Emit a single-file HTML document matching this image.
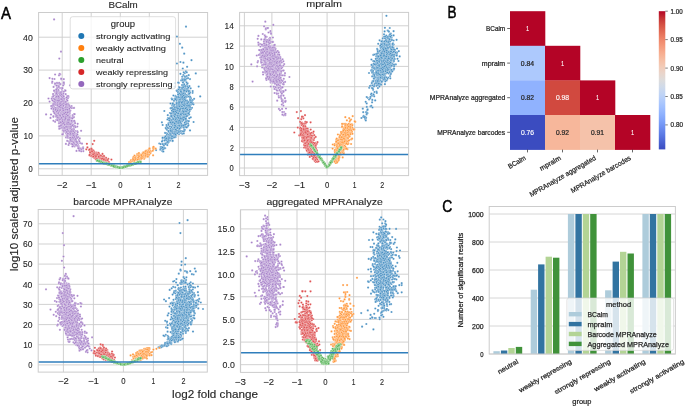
<!DOCTYPE html><html><head><meta charset="utf-8"><style>html,body{margin:0;padding:0;background:#fff;width:685px;height:407px;overflow:hidden}svg{display:block;will-change:transform}</style></head><body><svg width="685" height="407" viewBox="0 0 685 407" font-family='"Liberation Sans", sans-serif'>
<rect width="685" height="407" fill="#fff"/>
<rect x="38.6" y="12.5" width="169.0" height="162.9" fill="#fff"/>
<path d="M62.2 12.5V175.4M91.2 12.5V175.4M120.3 12.5V175.4M149.3 12.5V175.4M178.4 12.5V175.4M38.6 168.8H207.6M38.6 135.9H207.6M38.6 103.0H207.6M38.6 70.1H207.6M38.6 37.2H207.6" stroke="#cccccc" stroke-width="0.9" fill="none"/>
<text x="62.2" y="187.7" font-size="8.9" text-anchor="middle" fill="#262626" stroke="#262626" stroke-width="0.11" textLength="10.9" lengthAdjust="spacingAndGlyphs">−2</text>
<text x="91.2" y="187.7" font-size="8.9" text-anchor="middle" fill="#262626" stroke="#262626" stroke-width="0.11" textLength="11.0" lengthAdjust="spacingAndGlyphs">−1</text>
<text x="120.3" y="187.7" font-size="8.9" text-anchor="middle" fill="#262626" stroke="#262626" stroke-width="0.11" textLength="4.3" lengthAdjust="spacingAndGlyphs">0</text>
<text x="149.3" y="187.7" font-size="8.9" text-anchor="middle" fill="#262626" stroke="#262626" stroke-width="0.11" textLength="3.7" lengthAdjust="spacingAndGlyphs">1</text>
<text x="178.4" y="187.7" font-size="8.9" text-anchor="middle" fill="#262626" stroke="#262626" stroke-width="0.11" textLength="4.0" lengthAdjust="spacingAndGlyphs">2</text>
<text x="32.8" y="172.1" font-size="8.9" text-anchor="end" fill="#262626" stroke="#262626" stroke-width="0.11" textLength="4.2" lengthAdjust="spacingAndGlyphs">0</text>
<text x="32.8" y="139.2" font-size="8.9" text-anchor="end" fill="#262626" stroke="#262626" stroke-width="0.11" textLength="9.2" lengthAdjust="spacingAndGlyphs">10</text>
<text x="32.8" y="106.3" font-size="8.9" text-anchor="end" fill="#262626" stroke="#262626" stroke-width="0.11" textLength="9.5" lengthAdjust="spacingAndGlyphs">20</text>
<text x="32.8" y="73.4" font-size="8.9" text-anchor="end" fill="#262626" stroke="#262626" stroke-width="0.11" textLength="9.5" lengthAdjust="spacingAndGlyphs">30</text>
<text x="32.8" y="40.5" font-size="8.9" text-anchor="end" fill="#262626" stroke="#262626" stroke-width="0.11" textLength="9.7" lengthAdjust="spacingAndGlyphs">40</text>
<text x="123.1" y="7.5" font-size="9.65" text-anchor="middle" fill="#262626" stroke="#262626" stroke-width="0.12" textLength="29.4" lengthAdjust="spacingAndGlyphs">BCalm</text>
<marker id="m1" markerUnits="userSpaceOnUse" markerWidth="4" markerHeight="4" viewBox="-2 -2 4 4" refX="0" refY="0" overflow="visible"><circle r="1.1" fill="#a782c9" stroke="#fff" stroke-width="0.25"/></marker>
<polyline points="61.7,116.1 63.4,111.2 64.2,120.7 65.4,130.8 69.3,123.6 67.6,132.5 60.8,115.2 53.3,94.1 62.6,124.3 69.7,126.4 53.6,108.1 61.1,110.3 66.1,114.4 67.7,131.5 64.6,116.6 55.6,104.7 76.4,138.3 70.7,123.7 78.6,147.4 66.0,137.4 74.6,146.5 69.0,120.0 77.4,137.0 63.3,111.7 68.3,113.6 61.7,119.2 65.5,125.0 63.7,117.0 64.7,114.3 69.1,141.3 70.1,124.0 74.5,132.3 63.6,129.5 53.9,98.7 69.7,129.4 60.6,116.7 49.6,101.6 70.1,125.8 64.7,118.0 60.6,114.3 72.7,115.1 71.8,136.3 59.6,114.9 59.7,93.8 70.7,141.6 56.9,102.0 64.5,114.2 64.6,126.7 57.9,83.3 68.1,103.6 74.1,135.9 66.6,114.9 63.3,106.7 66.6,119.3 67.3,104.9 63.7,117.3 69.2,105.2 55.2,92.5 66.2,127.3 56.0,112.8 64.4,123.8 65.1,114.1 76.1,135.7 63.7,125.7 64.5,119.4 58.6,101.4 56.5,97.3 68.2,137.9 68.4,129.2 52.9,105.5 79.4,148.9 66.0,123.8 61.0,117.8 55.1,95.5 54.4,104.8 73.5,121.5 59.5,122.2 71.7,120.3 61.9,91.1 64.1,123.2 59.9,121.2 66.3,110.4 71.8,118.1 60.3,119.4 69.5,134.5 68.2,116.3 67.3,123.5 68.5,97.0 58.2,105.4 66.0,116.6 55.0,105.2 74.5,121.8 56.7,98.9 53.4,116.2 60.3,106.6 71.4,137.4 70.4,110.5 74.5,143.9 79.6,149.6 67.7,121.2 75.1,131.0 62.2,113.5 63.8,79.2 70.5,129.8 65.6,126.4 62.6,112.8 61.2,108.0 60.3,119.1 69.9,119.5 54.4,104.6 66.4,107.6 73.4,133.2 63.4,117.5 59.7,115.6 69.2,133.5 64.2,111.9 71.5,130.3 61.4,100.2 66.9,113.0 60.4,114.7 67.7,125.9 57.0,118.1 80.9,149.0 71.2,134.8 59.5,110.2 83.3,151.2 63.5,102.2 68.6,144.9 60.7,103.7 62.8,130.1 65.3,103.3 74.1,114.0 72.1,141.4 59.9,95.6 58.3,92.4 65.3,117.2 67.8,120.7 70.0,118.8 65.8,132.2 66.8,98.1 62.3,125.1 64.9,117.0 72.8,129.2 70.0,126.5 68.6,137.2 56.4,95.5 62.2,118.7 59.9,100.3 68.5,115.9 62.0,127.6 67.2,121.5 69.1,125.4 65.9,116.0 67.5,122.3 71.8,121.1 74.0,138.8 71.7,129.4 61.8,89.0 74.8,127.2 63.1,133.5 67.5,110.6 58.2,93.0 72.2,140.1 60.2,119.6 58.9,126.6 75.3,145.1 57.5,104.1 65.8,116.5 56.3,115.0 73.7,128.5 62.4,108.7 65.3,125.0 61.0,118.5 67.7,134.4 67.4,136.2 57.0,94.2 66.2,124.5 61.0,111.4 57.2,116.7 64.6,123.4 62.3,124.5 61.5,105.8 73.3,121.1 67.0,118.7 61.9,115.8 52.5,96.8 54.3,105.0 53.5,109.9 69.6,125.4 70.1,138.9 60.4,100.5 57.3,100.3 64.6,118.5 67.4,107.2 57.4,103.3 58.9,102.5 56.6,101.0 69.7,123.7 55.0,91.2 67.7,136.7 54.1,102.0 54.6,108.0 62.4,101.8 70.0,85.3 55.1,91.7 74.1,135.0 76.1,143.9 55.4,102.7 68.8,132.9 62.4,116.4 57.3,102.3 80.2,143.2 76.5,150.9 63.7,111.9 64.7,115.4 62.2,120.2 63.9,115.5 72.1,130.3 73.9,141.1 66.2,118.9 72.1,132.1 69.2,143.2 67.9,107.8 74.0,117.2 65.8,109.5 73.4,132.4 61.2,127.0 69.2,132.6 65.7,130.7 59.6,112.9 72.0,129.0 57.7,110.3 60.9,110.6 52.1,82.8 72.1,139.1 60.7,101.6 60.7,117.6 60.2,116.4 78.8,140.0 60.6,123.7 55.8,103.9 60.2,117.5 68.4,114.8 74.3,120.9 61.2,97.2 60.3,116.5 65.6,127.5 81.3,148.5 62.3,124.9 65.7,94.2 69.6,115.4 71.2,135.4 71.7,131.6 63.1,97.6 69.7,113.6 58.4,115.4 69.0,117.0 61.5,115.5 57.0,102.9 61.4,107.1 61.2,112.6 66.4,133.3 53.7,107.8 63.4,127.4 66.3,98.2 78.2,137.1 67.1,118.4 68.8,116.3 70.4,138.0 59.2,87.8 60.6,92.1 61.2,123.8 56.0,103.5 61.8,109.9 60.6,112.0 58.9,117.2 64.7,114.8 69.3,133.9 69.4,120.6 64.3,119.1 58.3,96.6 62.2,110.7 62.6,116.3 56.6,91.0 64.7,125.3 68.8,122.6 78.6,146.0 64.9,90.3 52.5,100.3 58.5,101.1 58.8,105.2 63.6,114.3 60.1,112.6 62.5,120.3 68.0,119.5 63.9,115.3 54.4,91.3 67.1,107.0 68.2,117.1 64.1,125.7 70.5,126.6 56.3,89.8 66.3,107.8 62.0,115.0 61.7,121.9 69.1,134.4 60.3,117.3 61.2,101.8 66.3,122.6 64.8,119.9 62.1,119.8 46.1,114.4 74.5,142.4 56.2,120.0 69.6,130.2 65.4,101.6 69.1,128.8 59.1,106.7 58.6,91.1 64.5,121.3 64.3,126.1 59.7,113.0 59.2,116.2 74.1,132.5 61.1,108.6 63.5,83.0 63.7,120.4 64.8,119.5 69.4,133.3 63.8,110.9 74.3,136.7 71.3,134.4 56.5,95.1 65.9,131.1 67.2,98.4 58.2,91.1 60.6,111.9 67.7,107.1 64.0,84.0 66.9,119.4 64.9,125.9 79.8,138.4 65.0,115.5 61.7,91.8 59.4,100.4 63.8,131.7 63.3,130.2 67.9,124.5 63.6,111.4 63.4,119.5 56.8,112.6 55.1,111.3 63.6,121.1 57.0,116.8 66.4,112.8 69.1,117.5 74.1,107.9 63.2,85.4 58.2,106.4 59.1,115.2 65.9,143.9 58.5,109.8 78.1,148.2 75.7,139.3 63.1,102.1 63.3,104.5 65.2,118.6 77.4,144.3 71.8,122.3 62.8,127.3 58.7,105.7 54.5,79.0 69.7,112.6 73.3,129.0 73.6,135.4 58.3,117.1 65.1,119.1 70.0,135.1 63.1,114.2 70.1,135.1 62.1,97.9 58.2,98.7 63.7,98.3 67.0,124.0 59.7,107.7 63.6,118.3 63.6,122.6 68.9,121.7 71.0,137.5 73.9,139.9 58.7,103.1 57.8,119.3 66.4,112.6 55.3,99.7 77.8,144.7 69.8,129.1 54.8,113.3 56.9,109.7 63.2,122.4 56.3,99.2 56.8,112.7 73.8,136.1 68.2,131.5 62.2,102.9 59.2,108.5 78.7,147.4 56.0,94.0 60.8,106.3 61.9,94.1 65.7,122.5 63.0,121.0 66.8,134.7 60.3,74.4 65.9,119.0 58.3,90.0 63.8,126.8 65.0,113.5 82.0,143.7 64.1,122.5 61.6,100.0 72.8,136.8 48.5,98.5 62.1,110.6 67.4,133.3 72.2,124.4 64.8,123.7 60.2,117.0 65.4,125.0 69.1,129.8 62.6,121.2 69.7,133.1 67.3,137.4 62.6,117.0 63.8,101.6 79.4,141.3 66.6,116.1 68.2,126.9 74.0,132.2 64.9,102.1 73.5,124.7 64.0,91.5 67.6,129.0 62.5,109.8 65.4,119.9 69.1,128.6 61.8,106.5 60.7,118.7 51.2,106.2 60.6,116.9 63.0,134.0 64.3,117.8 63.1,115.3 52.6,100.4 71.6,131.1 67.5,116.8 76.1,144.5 68.4,105.4 77.0,134.0 73.7,145.9 68.4,117.1 61.8,98.0 74.8,141.2 73.7,134.1 64.8,128.4 68.5,134.7 57.5,109.9 65.2,129.4 67.2,128.0 54.2,106.6 63.6,128.6 63.9,109.0 69.2,132.1 72.6,136.1 72.4,146.4 56.4,85.5 62.7,121.4 62.2,112.1 60.9,116.7 66.8,113.5 62.9,115.3 59.7,84.8 70.0,133.3 75.9,141.8 68.0,132.8 75.8,138.1 62.7,103.9 61.1,102.7 69.5,132.0 74.2,139.0 69.8,122.0 63.4,93.3 62.8,107.5 73.4,133.9 60.5,99.0 74.8,133.9 64.8,120.9 67.2,140.9 74.5,132.2 59.8,93.4 55.1,102.7 64.7,122.8 65.2,130.5 83.1,147.3 67.7,122.6 56.5,116.7 66.3,117.5 62.1,117.7 77.4,134.6 59.0,117.3 53.4,116.8 59.7,94.9 58.2,85.5 62.3,118.4 59.2,128.8 65.7,117.2 74.0,126.2 59.9,128.4 69.0,117.1 67.9,133.3 71.6,106.2 65.9,117.9 61.2,112.0 69.3,119.2 69.8,128.1 67.0,131.8 67.9,120.1 64.2,125.2 53.9,112.3 72.6,116.2 71.2,138.6 60.3,115.1 73.3,138.3 60.1,126.3 59.0,121.0 79.0,150.3 60.5,114.7 62.9,113.7 69.3,118.8 63.6,123.1 67.6,122.3 71.8,132.2 60.0,120.6 67.4,125.3 58.6,114.7 74.8,136.0 64.2,112.3 62.7,113.8 58.2,118.5 66.3,123.4 57.4,107.1 77.1,143.5 60.6,108.6 58.3,112.2 66.1,111.5 64.7,109.9 64.6,126.9 70.0,120.4 59.4,105.7 59.8,109.1 62.8,112.8 71.2,141.1 59.0,107.3 59.0,96.9 66.8,99.6 69.0,112.3 73.0,141.8 67.4,100.7 64.0,118.6 63.1,110.0 76.0,140.7 72.8,137.5 77.3,126.6 60.5,95.2 60.1,122.3 67.9,111.7 57.8,87.4 58.2,89.9 50.5,117.9 69.2,120.1 74.3,136.9 70.8,127.6 65.8,109.2 69.1,109.7 62.6,114.3 64.2,99.8 65.0,128.9 62.1,117.1 65.4,104.1 62.7,106.6 54.0,98.5 63.0,109.6 64.3,121.2 57.6,110.2 71.3,132.7 73.7,143.1 53.7,106.6 58.7,117.1 69.9,111.1 71.4,144.1 66.4,122.2 69.3,126.0 71.2,130.4 59.8,121.7 58.8,101.4 62.0,109.9 70.2,126.0 60.6,116.4 55.3,103.7 68.6,118.2 66.1,107.2 62.4,104.9 57.0,88.2 61.6,97.5 62.2,111.0 65.6,111.2 54.8,103.2 66.8,125.0 62.9,116.8 55.3,101.3 60.5,84.0 64.4,118.8 61.8,117.0 64.1,112.9 53.1,94.1 63.3,116.7 61.2,92.0 70.5,132.1 69.2,119.2 59.1,119.4 53.7,103.2 61.0,99.0 74.8,141.0 77.2,131.2 64.4,110.6 63.4,127.0 75.9,141.2 56.2,99.1 54.2,108.0 73.1,108.0 67.4,124.0 63.2,99.2 67.2,120.1 67.9,98.1 70.1,131.2 73.4,130.2 57.6,112.8 61.7,127.7 67.2,105.0 68.8,111.9 71.1,131.3 64.0,115.0 66.0,121.9 57.1,101.1 73.5,126.6 68.7,123.4 61.8,96.2 61.3,79.3 63.8,83.3 65.4,115.1 65.6,112.6 54.4,90.9 66.4,118.2 77.7,132.2 60.4,114.2 60.6,108.7 72.0,129.8 77.5,143.2 74.8,139.8 53.4,105.2 69.9,128.6 58.9,118.5 58.4,112.7 63.3,106.0 63.9,121.7 64.8,108.0 81.1,130.8 68.8,122.1 72.5,133.0 55.8,97.5 60.6,116.6 63.4,128.3 63.0,122.0 59.7,119.8 57.7,104.6 73.7,142.4 66.3,133.2 59.2,122.4 55.1,74.5 62.2,100.4 64.3,118.0 65.3,104.4 63.8,82.3 63.2,120.0 68.4,122.2 53.3,96.2 71.6,108.0 66.2,105.1 65.2,124.5 55.0,84.5 61.1,88.0 52.4,106.9 57.1,104.9 81.2,149.5 61.1,105.7 62.3,119.4 65.6,109.0 56.0,104.9 66.5,121.8 74.1,144.0 57.5,110.1 69.7,128.4 60.8,121.6 75.0,126.1 62.7,121.8 68.3,96.1 57.0,112.0 62.5,97.9 54.9,83.6 57.2,115.8 77.2,145.8 71.5,130.9 66.8,136.0 71.3,124.4 59.3,114.8 79.5,149.1 63.3,110.5 75.2,141.0 53.5,111.3 71.3,118.0 67.6,121.3 61.9,117.4 61.9,125.0 59.5,126.2 71.6,143.8 66.0,116.6 58.2,85.8 55.2,83.6 57.1,94.4 67.8,104.5 65.9,127.3 56.8,92.4 69.8,117.1 65.9,117.3 65.2,121.0 60.1,114.6 58.9,123.3 58.6,117.5 68.6,134.0 64.5,122.3 61.2,78.6 66.3,117.3 65.7,120.1 62.0,107.4 56.1,104.5 62.8,134.5 62.2,119.6 55.9,101.1 58.9,111.7 61.5,114.2 54.1,90.6 62.6,127.3 62.5,114.8 66.7,124.7 56.6,91.6 79.8,148.3 66.3,127.2 61.8,124.9 60.9,105.2 69.5,106.2 56.4,93.2 77.4,142.1 66.8,103.8 71.7,121.0 63.7,127.1 70.3,107.3 69.5,131.3 79.6,150.3 64.4,122.3 75.2,140.8 67.3,126.8 60.6,110.0 67.6,111.0 56.4,90.1 59.8,119.4 76.0,141.4 70.7,128.6 73.3,131.3 67.6,136.2 66.2,109.0 69.1,126.8 83.1,148.7 55.0,104.7 65.0,118.0 60.2,110.3 55.6,114.4 57.5,105.8 68.3,115.5 57.5,95.8 57.9,109.2 65.3,109.7 65.9,109.4 76.1,140.1 60.8,118.9 64.6,120.4 67.0,112.7 70.2,138.5 56.3,89.3 66.6,114.4 76.6,136.1 72.5,144.3 53.4,120.8 57.4,117.6 63.4,128.0 62.3,114.6 69.6,126.7 60.3,107.1 64.7,128.1 64.3,116.8 55.8,100.1 59.6,73.9 67.3,132.7 77.7,123.8 71.7,130.0 56.7,103.3 67.3,135.0 64.1,124.1 56.1,116.6 66.8,132.3 66.5,131.9 69.9,124.0 79.5,150.7 70.5,139.9 59.7,123.0 57.2,113.7 64.1,119.2 75.9,145.3 70.9,123.8 57.6,103.0 65.8,107.0 65.0,117.5 68.8,130.8 51.6,105.8 60.9,125.7 73.5,135.4 73.8,129.4 60.2,92.3 65.7,112.5 57.9,97.1 64.4,124.0 57.2,100.7 70.9,126.1 65.8,118.7 59.0,75.3 59.0,103.5 68.6,124.4 65.3,117.6 57.8,110.8 67.2,96.2 67.2,124.2 76.1,144.8 71.5,120.8 68.0,115.9 62.4,114.4 61.7,94.5 56.7,111.0 57.5,102.8 62.3,134.3 65.8,101.9 52.3,81.7 63.6,103.4 58.2,112.0 58.1,113.6 58.8,86.8 70.2,131.4 66.8,118.0 69.4,108.6 62.2,103.9 69.7,123.4 59.0,111.1 68.1,120.7 63.4,114.2 62.0,118.3 70.4,134.9 63.2,116.5 61.2,101.7 70.9,132.1 62.4,120.1 57.4,105.2 72.9,133.8 54.6,113.2 67.9,133.6 66.6,97.5 49.6,78.1 57.0,82.9 67.7,119.8 53.1,104.0 74.6,114.2 51.0,114.5 65.5,90.7 77.1,137.9 64.0,98.8 62.7,117.0 60.9,93.0 58.3,113.1 70.7,127.2 56.7,111.6 59.3,104.1 67.7,115.6 56.0,108.1 64.6,124.7 81.2,151.3 54.2,101.4 66.0,104.7 64.2,113.7 56.1,115.0 59.8,99.1 62.5,123.7 64.8,127.8 64.8,119.3 56.5,96.6 75.6,139.0 56.5,96.6 71.2,126.7 70.3,134.3 63.3,95.4 61.5,117.8 70.2,137.5 60.3,122.1 62.8,100.8 63.8,96.6 75.1,123.2 67.3,109.5 61.8,104.4 66.1,126.8 63.3,110.3 63.4,116.7 72.7,125.0 70.2,124.3 59.2,115.1 60.1,115.7 72.4,125.5 67.1,123.2 58.8,97.8 67.7,112.6 58.5,101.6 58.4,96.4 58.8,106.5 52.4,78.8 71.8,129.7 55.0,102.9 62.6,121.4 56.6,85.6 62.5,88.2 78.5,148.3 69.5,132.1 53.1,105.2 60.1,103.2 53.9,104.0 65.2,117.3 62.9,108.7 60.7,105.4 73.0,117.4 62.3,99.3 63.5,105.7 70.4,133.2 59.3,100.4 69.0,119.9 73.1,130.8 55.3,110.0 73.1,131.2 71.0,131.2 76.7,141.9 65.7,116.6 55.3,108.0 54.8,99.3 72.4,118.5 61.1,98.9 56.9,115.9 65.5,117.7 59.3,106.7 51.7,98.7 55.1,121.8 57.6,120.2 65.5,118.8 62.7,114.8 68.0,131.0 61.3,99.2 68.2,122.7 51.4,108.6 67.2,129.7 57.6,110.3 55.6,109.7 63.3,123.1 59.2,82.9 60.1,110.1 53.6,86.9 58.0,100.4 75.7,127.1 60.8,122.4 53.4,109.0 54.1,19.4 61.0,51.7 59.3,58.6" fill="none" stroke="none" marker-start="url(#m1)" marker-mid="url(#m1)" marker-end="url(#m1)"/>
<marker id="m2" markerUnits="userSpaceOnUse" markerWidth="4" markerHeight="4" viewBox="-2 -2 4 4" refX="0" refY="0" overflow="visible"><circle r="1.1" fill="#478fc2" stroke="#fff" stroke-width="0.25"/></marker>
<polyline points="186.5,110.0 184.7,104.7 183.4,106.9 172.6,132.9 180.2,98.1 175.3,127.4 173.8,133.2 179.8,124.5 181.5,116.3 180.4,102.8 182.0,104.3 181.7,114.9 174.6,99.2 176.2,113.2 178.5,99.8 169.3,137.6 166.9,140.4 180.8,101.8 167.2,137.4 181.9,119.5 180.8,116.1 169.8,122.5 178.0,122.0 178.4,91.6 190.6,100.0 182.2,76.8 177.9,114.1 180.2,114.8 181.0,102.6 183.8,84.4 179.0,134.1 181.4,113.1 183.3,117.6 187.2,105.3 175.4,111.9 190.2,103.7 181.5,121.5 185.0,113.7 172.9,125.5 181.0,125.4 181.4,116.8 176.5,116.9 182.2,133.8 186.2,88.7 178.1,116.7 170.9,137.3 187.3,96.4 182.1,126.8 184.4,106.2 186.0,114.8 188.4,110.4 174.1,111.7 175.1,124.0 175.2,113.8 184.6,81.1 162.7,151.3 183.5,113.4 175.9,107.4 173.4,131.8 174.0,137.1 182.2,79.0 177.8,120.6 185.4,80.3 172.3,105.7 184.2,113.3 183.1,106.7 184.6,104.1 178.6,95.1 177.3,107.3 177.4,112.1 181.9,111.6 183.8,92.3 182.9,101.1 183.4,131.0 183.5,125.0 177.3,109.1 174.1,124.8 186.8,120.7 174.4,130.2 185.7,118.8 189.4,107.5 180.1,98.1 178.5,114.4 184.6,80.4 175.1,115.8 180.4,62.0 180.8,98.0 185.7,106.3 175.6,122.7 178.2,117.1 178.2,111.6 178.8,82.9 175.4,137.2 174.9,83.2 175.5,118.6 184.8,102.6 173.2,112.2 181.4,120.2 188.1,103.3 175.8,113.0 174.3,133.3 177.2,98.9 184.4,103.1 182.1,104.7 183.8,97.9 189.4,96.4 182.2,114.9 175.3,136.8 172.4,137.3 178.0,92.3 183.2,102.8 182.8,112.8 170.9,121.7 186.9,114.0 180.3,114.1 180.3,120.1 172.7,126.0 184.3,78.9 182.3,110.8 175.8,124.5 171.6,135.9 166.7,126.5 188.7,102.7 176.6,102.0 168.0,118.1 175.1,113.7 174.4,119.5 176.2,132.7 179.2,93.1 182.5,108.4 180.4,73.8 187.2,127.0 182.1,116.8 191.9,100.0 173.8,118.5 172.4,137.3 171.5,130.1 183.3,112.9 184.5,108.9 171.3,116.1 177.3,98.0 177.1,98.2 173.2,109.2 176.2,114.1 174.0,118.7 174.3,105.5 183.0,99.4 182.9,113.5 174.6,107.1 175.7,119.8 169.9,137.7 174.3,131.0 178.6,101.9 185.4,107.2 187.4,88.4 183.6,113.6 181.3,100.3 192.6,92.8 191.0,98.2 175.4,124.5 178.5,117.6 186.6,112.4 171.8,130.7 183.3,106.7 182.9,97.7 174.4,122.4 183.3,82.1 170.8,119.3 176.2,117.9 168.8,118.4 187.8,126.2 188.8,107.6 186.2,114.2 185.1,87.2 186.6,104.5 187.9,105.7 184.0,118.2 172.9,137.8 174.8,116.0 178.3,128.5 179.9,98.9 173.6,115.0 179.0,87.1 184.1,102.4 187.4,100.8 173.5,110.7 189.7,111.1 189.0,103.8 180.6,99.3 174.6,126.2 180.9,106.4 185.9,71.4 177.5,116.0 173.2,118.7 178.6,125.9 162.7,138.3 183.8,95.0 186.0,113.5 182.4,109.6 187.1,84.2 184.8,73.2 179.5,129.1 183.4,97.2 177.5,104.3 179.9,107.9 180.9,106.6 186.1,114.9 190.7,88.3 183.7,104.4 177.1,108.8 179.9,94.0 181.4,99.7 188.3,106.9 182.6,109.1 183.6,85.6 177.5,106.1 183.9,115.9 177.6,128.6 178.1,120.1 175.1,131.7 189.0,112.7 179.9,110.2 165.2,148.2 186.3,114.2 182.0,103.8 185.1,111.7 175.2,130.2 179.5,93.6 175.6,125.9 168.8,134.7 176.4,132.3 179.8,114.7 185.3,98.3 186.9,95.3 164.3,111.0 174.0,134.1 168.4,125.3 176.8,129.3 174.6,117.4 165.3,143.7 187.3,112.7 173.2,103.9 180.1,116.9 180.8,106.9 167.1,129.9 171.3,138.4 177.3,125.0 180.6,95.5 179.2,97.6 193.6,122.0 181.3,94.7 169.5,119.8 179.5,89.6 179.4,106.6 176.0,121.9 181.7,101.4 171.6,127.2 178.4,129.9 167.7,138.4 173.6,110.3 175.4,115.4 177.5,115.8 182.3,121.3 185.7,90.9 176.3,121.5 176.9,126.4 184.3,94.0 192.7,91.1 177.7,108.9 166.6,143.1 180.8,124.4 176.8,104.4 180.8,114.2 184.4,89.0 168.8,137.0 184.6,103.4 182.1,124.8 188.6,92.8 178.5,115.8 183.6,97.6 188.4,125.2 166.1,137.7 174.7,132.8 181.6,124.5 175.6,131.4 186.2,94.8 184.2,92.5 184.6,110.0 180.5,131.5 178.2,116.5 177.9,125.8 183.3,90.6 178.8,109.3 181.2,106.5 172.5,121.1 163.8,147.6 184.6,127.2 180.9,132.9 187.5,108.4 175.2,112.9 183.6,127.7 174.6,120.9 183.4,88.7 184.4,130.3 171.0,129.6 183.1,118.3 178.2,126.0 177.2,121.6 177.0,105.8 185.6,86.0 163.9,143.8 185.1,114.8 186.3,113.8 172.4,115.9 176.4,117.6 176.8,120.1 177.0,98.0 172.4,122.2 179.7,116.6 178.7,114.5 171.6,112.7 176.3,117.3 185.1,98.1 173.5,114.7 175.6,111.7 187.7,115.4 181.2,131.0 168.7,128.2 168.7,131.8 182.5,111.3 171.1,126.3 173.3,132.0 178.3,110.6 184.2,105.9 159.3,143.5 174.6,86.7 173.6,114.0 184.5,116.2 182.1,97.0 171.2,113.4 179.6,124.4 186.5,78.4 173.2,132.2 177.7,116.1 184.3,100.6 179.6,132.1 180.1,116.2 183.7,108.2 183.3,75.0 174.3,129.2 174.9,115.3 183.0,103.7 178.5,113.2 171.6,134.3 185.8,107.8 182.8,112.7 185.6,107.2 175.5,95.9 185.3,97.8 178.1,107.8 176.7,109.4 170.3,132.6 185.4,116.7 184.9,110.9 174.6,121.1 174.3,112.9 176.4,128.1 181.6,89.3 190.0,79.1 170.9,120.9 171.7,107.9 177.5,118.4 183.3,93.7 181.8,107.4 184.0,113.2 189.3,118.2 178.5,112.4 172.8,131.0 173.0,103.4 178.0,126.3 185.7,105.7 178.9,112.4 188.5,96.5 179.9,114.8 189.9,97.7 177.5,129.7 176.3,104.5 175.6,118.2 172.5,111.3 171.1,113.3 183.7,99.1 164.0,147.7 190.9,109.2 168.5,139.1 182.0,94.7 160.6,147.0 179.7,131.0 167.3,142.1 181.2,87.5 174.0,135.7 183.2,112.6 168.4,123.3 166.3,144.1 179.0,120.1 179.8,103.6 176.9,117.5 190.9,99.0 185.9,120.5 189.2,114.4 172.5,120.8 177.5,108.9 187.6,83.3 174.8,108.6 176.8,111.3 168.5,124.7 185.4,126.9 188.3,90.4 175.7,132.8 177.0,129.5 177.2,116.1 176.0,121.5 186.5,82.3 177.3,108.6 187.9,102.8 171.6,132.9 172.9,125.1 187.7,107.4 183.1,87.7 178.5,129.7 166.4,140.5 171.7,98.5 186.0,89.4 171.7,120.0 162.3,150.9 176.6,90.6 169.5,117.8 184.4,96.0 181.8,115.2 178.7,120.7 171.9,121.9 187.5,90.3 177.0,90.9 160.3,149.7 172.2,129.9 182.3,85.3 182.5,120.6 168.3,136.9 182.7,114.4 182.9,116.3 170.6,116.1 172.1,122.4 176.6,119.6 175.0,122.0 182.5,109.0 167.3,127.9 182.2,119.3 182.9,116.9 182.6,93.0 173.9,108.4 179.3,116.3 178.7,105.7 184.0,107.8 182.4,96.6 185.0,106.2 182.1,85.0 190.0,92.4 167.8,115.2 173.0,121.3 184.7,100.0 173.7,106.0 183.1,116.1 165.1,138.8 164.4,144.7 176.2,108.8 179.9,101.8 183.0,101.3 171.1,135.7 180.9,97.5 188.0,123.3 181.1,108.1 176.2,107.7 180.8,127.7 181.3,124.2 164.1,148.6 184.3,129.6 162.6,144.2 186.5,107.3 185.9,113.5 182.4,99.5 182.2,108.6 162.7,125.0 178.0,108.8 187.0,120.9 172.7,104.5 178.1,109.3 176.7,130.8 182.7,114.5 188.4,113.6 169.7,119.6 182.5,99.8 187.4,86.3 171.7,120.6 178.1,120.3 163.4,151.5 185.9,116.6 180.6,121.7 156.1,150.1 180.1,109.8 183.5,104.8 175.3,126.6 177.9,120.6 190.0,130.4 180.9,102.0 165.5,139.5 179.7,119.7 182.9,82.4 178.4,113.7 180.8,106.8 183.1,116.9 173.9,133.8 173.5,115.1 180.4,107.8 177.1,131.3 178.5,108.9 188.6,94.0 186.5,96.9 164.7,140.6 177.1,130.6 172.6,141.1 190.2,96.9 181.3,104.5 186.3,102.9 173.0,129.0 167.2,133.7 183.0,113.2 181.5,112.9 178.6,128.6 180.2,112.2 183.3,103.9 177.9,110.8 176.8,131.6 162.9,149.3 178.4,118.8 184.7,111.8 169.8,118.8 174.1,121.6 183.8,125.9 190.6,102.7 180.8,115.4 179.7,112.5 169.8,130.5 178.9,124.7 184.5,111.8 168.5,131.1 173.9,135.2 180.8,119.9 185.2,94.8 174.6,111.4 185.9,90.5 171.6,116.7 185.9,119.6 170.5,137.4 171.7,124.0 189.5,90.9 186.8,109.1 178.7,102.5 192.7,102.9 174.6,114.7 180.5,117.9 186.4,112.6 170.5,103.5 186.3,107.0 181.0,106.4 180.3,112.0 171.5,127.2 180.3,118.8 170.7,130.0 178.0,98.0 160.6,149.1 172.7,118.1 188.7,75.2 171.7,120.1 170.3,133.2 178.1,114.8 183.4,93.3 183.1,117.2 185.7,104.4 178.6,112.9 176.3,120.6 183.4,62.7 184.3,113.3 180.9,123.4 175.2,122.6 170.5,108.3 192.0,107.8 186.7,101.8 181.7,112.2 170.7,138.1 178.8,105.8 173.5,119.6 176.9,119.2 168.2,138.9 174.4,123.9 169.8,126.5 178.0,115.1 171.1,138.4 177.4,113.7 180.4,112.5 165.0,132.9 176.2,124.8 175.6,128.6 176.4,99.6 169.8,120.2 167.6,141.8 174.0,121.6 184.6,100.6 175.1,124.9 183.6,112.2 174.7,128.4 178.2,82.6 182.0,99.5 181.4,96.0 173.3,136.4 172.0,132.6 181.0,96.8 183.3,117.7 184.5,118.8 184.8,109.0 175.8,135.2 184.3,101.8 183.8,114.2 185.7,106.6 178.9,125.5 181.7,106.1 177.5,126.1 194.1,98.8 183.0,95.9 181.2,99.5 179.5,106.0 181.5,104.1 183.4,100.8 173.0,119.0 169.9,113.0 180.1,119.2 164.6,137.4 178.8,123.4 182.4,103.7 188.7,91.2 185.2,124.8 177.7,129.4 181.1,90.6 170.6,129.0 181.2,80.4 180.2,113.7 166.4,129.0 182.9,98.3 183.7,86.7 171.6,138.1 182.2,88.9 179.1,119.1 180.3,90.1 175.9,120.8 162.6,140.5 181.9,106.3 189.9,99.3 184.7,80.0 185.4,86.2 177.0,103.1 186.0,118.4 173.9,123.1 182.5,119.4 176.8,128.2 173.8,119.0 185.8,111.6 179.7,115.0 183.7,72.3 184.2,102.0 177.7,122.4 179.6,105.2 174.1,134.7 175.3,124.4 163.9,145.2 180.5,90.9 174.1,104.8 170.2,133.9 177.0,115.5 182.6,98.9 187.3,106.4 172.4,108.2 176.8,128.6 166.5,125.0 174.7,112.9 180.0,99.4 165.7,128.1 165.9,133.0 183.7,95.7 176.3,129.8 182.3,96.8 176.5,110.5 192.8,100.0 183.2,85.8 177.5,103.2 190.3,101.7 178.8,129.6 175.1,126.0 187.6,103.9 184.3,89.3 186.4,91.6 184.5,76.4 175.5,109.4 185.6,111.2 183.4,98.0 174.6,114.2 175.6,115.5 178.8,131.7 180.8,98.2 174.5,132.1 184.7,106.1 170.1,137.9 175.6,96.5 177.7,131.4 186.8,100.6 169.9,140.7 185.9,121.7 184.8,95.1 180.1,127.8 188.3,113.4 176.4,122.4 189.8,109.4 190.0,107.4 177.1,132.7 190.7,105.1 180.5,127.6 171.2,131.0 185.7,114.4 178.5,125.7 185.1,76.8 168.4,140.1 188.6,102.4 185.2,98.2 161.3,147.1 166.7,143.0 185.1,105.3 174.2,122.4 178.8,108.2 181.2,95.8 175.2,120.6 175.9,132.0 185.8,111.1 184.7,129.8 187.0,109.4 185.9,110.7 174.1,137.3 189.4,86.2 181.0,96.7 185.6,100.6 174.1,134.0 177.4,121.2 175.3,123.5 175.6,121.3 172.5,133.0 174.9,107.4 183.3,110.7 180.9,108.5 178.2,122.8 184.9,93.3 184.3,111.4 174.3,125.0 179.0,115.5 174.8,98.6 167.4,119.5 169.0,118.6 184.4,125.4 172.7,103.6 180.2,121.9 184.4,124.4 174.5,126.7 189.6,105.4 186.6,123.3 168.7,142.1 193.5,104.3 179.8,126.1 177.2,108.6 183.7,108.4 181.1,94.7 176.5,97.3 171.2,124.0 190.8,117.3 169.4,135.7 183.7,86.9 177.8,107.3 184.1,91.6 177.3,119.8 161.2,148.2 178.4,89.3 172.9,113.0 176.5,112.3 181.6,113.6 192.1,103.9 186.8,105.7 172.6,140.7 185.2,96.6 177.2,123.2 171.4,122.2 183.9,86.1 172.1,99.4 177.0,120.1 167.3,145.1 182.3,111.9 187.2,105.7 177.6,115.8 166.8,135.0 174.3,127.5 170.5,135.2 187.0,111.0 191.9,101.0 179.2,97.6 175.1,126.6 180.0,110.6 179.8,105.4 171.7,122.9 179.7,117.0 185.5,79.6 182.7,111.1 176.6,100.0 177.5,121.7 171.1,113.8 168.1,142.7 174.6,114.9 181.9,94.9 182.6,80.0 180.5,94.8 176.7,103.2 171.0,113.6 185.8,124.4 180.5,117.2 183.1,104.4 186.6,127.4 182.1,99.2 178.1,130.7 165.1,143.8 180.6,131.2 167.8,141.9 171.5,137.1 181.9,95.9 180.5,117.8 186.8,110.9 173.4,95.5 182.8,93.8 175.8,122.8 182.2,92.7 171.1,108.2 183.7,114.5 177.0,107.2 169.0,138.0 174.3,127.4 171.0,116.3 179.5,104.5 169.3,120.6 174.6,116.6 181.2,98.6 183.6,91.3 182.4,101.9 182.8,93.6 188.8,121.2 180.8,119.6 174.7,109.3 175.6,119.5 174.6,122.9 183.1,87.3 176.1,117.8 171.9,130.4 189.8,106.5 184.3,84.3 178.5,113.2 182.2,94.3 177.0,121.7 184.7,122.6 179.4,125.9 185.0,116.9 171.5,84.3 174.7,133.5 188.4,87.6 184.2,131.1 179.1,118.4 174.0,100.8 184.8,104.1 177.8,109.9 162.0,141.6 178.0,108.6 179.8,131.3 186.8,72.3 182.7,118.0 175.2,111.4 183.8,133.4 172.2,122.4 171.3,135.8 175.8,98.4 185.5,118.8 183.9,105.3 181.4,125.8 178.3,122.8 183.2,93.3 176.6,130.5 160.6,144.1 186.3,107.8 177.3,133.3 176.2,121.7 182.5,99.5 178.0,128.0 190.1,100.1 179.2,125.7 183.9,90.0 181.2,92.7 170.6,122.3 176.1,118.0 176.9,128.2 179.4,111.2 183.6,95.6 171.9,138.3 184.7,99.4 172.1,136.3 179.5,128.7 165.4,143.9 184.2,79.9 182.7,113.5 171.9,110.5 183.2,125.6 176.9,97.0 163.1,149.1 180.2,114.1 188.0,78.2 178.6,120.8 175.2,114.2 187.3,103.5 177.5,127.9 180.7,114.1 183.1,98.7 186.0,111.3 185.4,108.4 179.7,120.3 173.1,109.3 178.2,113.6 184.2,90.6 191.0,102.6 180.9,118.5 181.7,102.7 188.1,102.1 175.7,129.6 162.6,147.4 174.2,133.3 175.4,99.3 178.8,132.0 180.2,122.1 179.4,110.9 178.1,94.4 181.1,114.8 186.8,116.2 174.6,123.5 179.4,87.7 185.0,97.0 171.5,116.1 162.7,137.5 174.6,127.5 178.3,105.0 175.7,126.4 179.9,99.8 182.9,108.6 179.9,109.7 179.0,103.8 179.3,106.3 179.5,128.6 183.5,119.9 186.8,76.0 175.5,134.4 161.9,122.3 178.3,97.0 177.8,117.1 177.6,127.9 165.4,136.3 188.9,105.7 184.4,97.7 180.9,91.5 181.1,113.6 181.4,97.3 171.7,131.5 183.4,111.8 175.1,125.7 173.4,111.7 179.1,102.2 182.5,96.9 170.7,130.8 189.5,93.7 172.8,122.3 183.0,131.4 183.9,117.3 166.3,138.6 180.8,114.4 187.2,109.7 178.3,117.8 186.0,26.7 176.9,36.5 182.2,47.7 184.2,53.7 191.5,60.2 187.1,66.8 195.8,73.4 182.8,68.5 176.9,63.5 179.9,43.8 198.7,86.6 200.2,96.4" fill="none" stroke="none" marker-start="url(#m2)" marker-mid="url(#m2)" marker-end="url(#m2)"/>
<marker id="m3" markerUnits="userSpaceOnUse" markerWidth="4" markerHeight="4" viewBox="-2 -2 4 4" refX="0" refY="0" overflow="visible"><circle r="1.1" fill="#dd4e4f" stroke="#fff" stroke-width="0.25"/></marker>
<polyline points="107.5,161.4 97.4,156.7 92.1,149.9 102.3,162.4 95.0,155.0 93.3,157.0 99.5,157.5 100.5,158.5 97.9,158.2 96.8,153.3 97.0,154.9 102.4,160.7 91.0,151.4 102.2,161.7 95.2,154.6 104.2,156.4 91.8,152.7 98.2,155.7 92.7,153.2 101.0,157.1 95.7,153.5 96.2,155.8 86.3,149.3 100.7,159.5 96.7,152.7 95.8,155.3 99.6,156.4 100.1,159.1 91.0,155.4 106.7,162.4 106.0,162.0 93.9,154.4 105.7,162.6 93.4,151.8 98.1,158.0 98.4,156.1 97.4,156.7 89.6,155.5 99.4,158.0 98.6,158.3 96.6,157.5 95.3,153.2 92.6,152.9 94.7,152.4 100.2,155.7 99.8,157.7 104.5,163.1 93.7,154.7 97.5,154.0 99.8,158.5 92.9,154.1 93.0,152.3 99.5,156.7 94.9,153.2 99.0,155.9 106.0,163.3 100.1,158.7 99.8,158.5 96.2,155.1 97.9,160.1 100.0,158.6 100.3,160.5 102.8,157.1 102.9,156.8 99.0,153.5 97.4,154.1 96.1,156.4 100.3,156.1 97.2,156.6 99.8,156.6 90.1,151.4 97.6,157.6 98.5,155.9 98.5,152.9 103.9,161.0 103.8,155.8 102.5,153.9 97.2,158.6 100.2,158.3 102.6,161.4 95.4,154.7 101.5,160.1 91.2,150.6 100.8,156.5 104.7,159.9 101.7,158.8 104.0,161.0 97.1,155.6 92.8,151.6 101.2,157.8 94.7,153.7 104.4,160.4 93.1,155.9 91.4,148.7 108.8,162.1 94.0,152.5 90.1,152.8 110.0,163.8 105.1,162.2 96.7,160.5 93.9,153.5 102.2,158.6 100.4,157.6 99.1,154.4 99.8,156.6 97.8,156.2 94.5,158.2 91.0,152.9 102.8,159.8 93.4,150.9 97.3,158.2 101.0,159.9 97.1,154.7 90.9,155.4 91.4,156.2 104.9,161.9 103.3,160.0 93.9,154.2 97.5,160.1 97.0,155.7 96.7,158.4 92.2,150.0 98.6,157.4 105.0,161.3 105.4,161.0 101.9,160.3 100.4,156.6 102.3,157.0 95.6,153.5 101.8,156.4 95.9,156.6 99.9,155.9 99.9,157.5 94.2,156.0 95.1,154.2 93.8,154.2 99.8,159.0 107.6,163.4 105.1,160.0 96.3,156.0 101.2,158.8 92.2,155.4 101.6,159.1 106.6,161.1 93.4,150.7 94.2,152.0 98.3,158.0 90.8,152.3 93.1,152.4 101.5,161.2 87.4,147.4 105.4,160.5 97.3,158.0 107.9,161.0 93.7,156.8 106.1,161.8 95.0,157.1 94.6,153.2 94.3,156.3 100.0,158.0 92.0,151.5 102.1,160.3 96.0,153.6 104.3,158.2 95.7,156.3 101.1,157.0 98.2,156.6 98.7,157.3 107.8,159.9 95.9,159.2 94.7,155.5 93.8,157.5 103.9,161.3 101.6,159.7 111.4,159.6 99.9,157.3 103.4,156.5 102.2,156.8 100.8,159.5 100.0,157.1 108.7,162.1 99.4,157.3 107.4,163.1 104.6,160.6 101.8,161.5 93.7,154.9 105.5,161.5 99.1,156.2 98.7,158.9 104.3,161.6 106.5,162.9 96.2,155.5 99.1,155.8 95.8,154.4 91.8,150.6 93.1,156.2 94.1,156.2 100.3,157.6 93.2,156.8 101.2,158.5 101.8,160.4 89.0,150.0 99.6,156.3 94.8,155.6 95.3,156.7 102.2,160.7 99.9,157.9 108.3,158.9 99.8,161.1 98.9,157.4 100.2,158.7 104.0,159.3 94.8,154.8 99.0,161.1 100.9,155.7 99.2,159.5 96.7,155.7 94.2,157.0 94.2,156.4 102.7,160.8 104.8,160.1 105.1,160.4 96.0,156.7 97.1,154.6 93.4,153.4 101.6,159.1 98.9,157.0 108.1,163.1 101.8,160.4 101.9,159.7 107.1,162.9 108.0,163.7 94.1,155.4 106.9,160.2 106.7,163.4 91.3,148.9 98.6,156.7 103.8,158.5 89.6,154.9 107.5,160.1 92.0,151.6 104.6,162.9 105.8,162.1 106.1,157.9 104.0,160.1 90.1,152.3 106.3,163.1 105.8,160.0 93.3,156.5 95.9,155.3 94.0,153.8 104.0,156.1 89.5,149.4 104.7,159.1 95.9,156.8 93.1,154.3 103.3,158.5 102.1,158.5 96.8,159.1 103.8,159.7 94.2,140.8 92.7,144.1 86.9,143.8" fill="none" stroke="none" marker-start="url(#m3)" marker-mid="url(#m3)" marker-end="url(#m3)"/>
<marker id="m4" markerUnits="userSpaceOnUse" markerWidth="4" markerHeight="4" viewBox="-2 -2 4 4" refX="0" refY="0" overflow="visible"><circle r="1.1" fill="#ff9639" stroke="#fff" stroke-width="0.25"/></marker>
<polyline points="144.7,154.1 139.4,158.6 137.1,155.6 139.7,155.4 140.4,158.2 137.4,158.5 138.4,158.8 145.4,157.4 133.2,161.2 141.7,156.6 131.9,161.8 139.6,156.1 140.5,156.7 132.2,160.1 138.7,153.4 153.4,149.5 147.0,151.7 135.9,161.3 147.4,151.8 142.9,155.6 143.0,156.6 139.8,158.6 137.4,156.4 151.0,151.4 140.7,154.5 139.5,157.9 144.1,158.8 139.1,157.9 149.5,154.3 148.7,149.7 136.7,160.2 141.3,156.4 140.2,157.8 134.9,159.1 140.2,155.0 145.0,154.4 130.3,161.5 133.5,160.1 148.6,152.1 140.8,155.3 140.9,154.5 135.4,158.2 139.5,157.8 142.3,154.8 138.9,158.2 134.7,160.4 147.0,156.4 144.1,153.2 131.0,160.1 146.5,152.6 144.6,153.9 136.8,159.5 136.2,156.4 144.5,156.6 144.2,154.1 144.3,154.0 130.8,161.1 134.7,161.3 145.8,152.7 146.2,156.0 142.0,154.9 138.8,155.2 148.5,150.9 132.6,160.7 147.5,152.5 134.0,159.4 144.3,153.8 146.7,151.6 133.5,161.4 141.6,155.0 137.3,157.4 139.4,157.5 139.6,156.3 135.7,160.2 135.3,159.9 137.2,154.1 145.0,153.4 141.8,158.5 133.8,161.6 152.9,148.1 147.6,152.5 141.5,155.1 132.5,160.1 140.1,158.5 146.0,155.6 137.2,159.9 149.6,150.7 143.2,155.9 143.2,155.0 136.2,160.1 136.2,159.7 137.7,159.2 139.6,155.4 137.9,157.4 141.2,157.5 141.8,155.3 134.5,155.6 148.2,151.1 133.4,157.1 140.0,160.0 143.4,156.5 149.7,151.2 136.4,158.4 137.9,156.2 138.6,157.7 143.4,155.0 140.1,155.5 137.1,159.3 142.0,157.2 147.4,153.1 143.2,152.5 138.9,153.1 145.3,153.3 137.5,157.6 140.5,157.7 150.5,153.1 138.3,160.6 141.8,156.6 132.8,163.0 143.7,157.8 137.5,158.9 135.2,160.7 146.8,154.4 137.1,159.0 137.8,157.7 137.7,157.3 137.2,159.0 145.9,151.4 140.7,158.2 141.2,155.7 137.1,161.1 141.9,158.1 136.0,157.6 142.6,157.5 137.0,158.5 146.4,155.9 149.6,150.9 140.4,156.9 142.5,156.9 137.6,157.8 153.1,147.4 149.5,150.7 143.6,154.4 145.9,153.9 134.9,158.9 142.1,157.0 138.5,155.7 143.9,156.0 137.7,159.5 138.7,159.2 142.1,154.6 153.1,155.3 141.1,156.1 147.5,151.9 135.8,158.7 147.3,155.6 132.4,161.6 148.3,153.5 133.2,160.4 135.1,160.9 138.5,157.5 153.8,148.0 137.2,158.6 132.6,160.9 145.1,154.8 138.7,155.6 146.2,150.5 136.0,160.9 129.3,162.1 141.8,157.5 142.0,155.1 140.3,155.1 147.0,152.6 134.3,161.7 135.4,159.3 140.1,156.9 147.7,153.4 146.2,154.7 138.9,157.9 134.0,160.0 142.6,153.3 144.0,153.0 153.6,146.8 142.1,157.0 149.4,150.6 137.6,160.7 137.6,158.3 136.7,158.8 137.8,158.1 141.1,159.5 133.0,158.3 142.0,156.6 140.1,158.0 144.8,154.1 147.9,156.7 145.0,156.4 150.1,151.2 140.2,155.3 143.9,155.9 140.2,156.5 141.9,156.2 144.9,154.4 135.9,159.2 148.5,152.3 152.8,150.8 149.7,152.3 139.3,158.1 129.2,162.1 142.0,158.0 145.7,155.9 144.8,153.5 139.1,157.1 141.6,157.5 146.1,151.0 139.8,158.8 143.2,152.6 142.9,153.2 134.2,161.1 138.3,155.4 138.4,158.4 137.5,159.8 129.2,163.0 134.5,162.0 141.8,154.9 140.9,157.8 143.7,155.4 134.6,160.2 138.3,157.5 135.2,157.4 131.7,161.9 131.0,162.3 149.0,154.8 145.5,155.9 133.2,159.7 143.3,156.8 145.4,154.1 148.6,149.9 137.7,159.6 147.0,154.2 149.4,148.9 141.0,156.2 148.5,151.2 145.3,151.3 142.0,156.4 131.0,163.1 143.1,153.6 143.9,152.7 147.9,152.1 149.4,152.1 142.4,156.5 135.3,159.1 141.0,158.0 141.8,156.5 145.6,155.0 141.9,158.1 139.0,156.2 145.2,153.3 141.4,155.2 149.5,148.3 155.7,148.7" fill="none" stroke="none" marker-start="url(#m4)" marker-mid="url(#m4)" marker-end="url(#m4)"/>
<marker id="m5" markerUnits="userSpaceOnUse" markerWidth="4" markerHeight="4" viewBox="-2 -2 4 4" refX="0" refY="0" overflow="visible"><circle r="1.1" fill="#52b152" stroke="#fff" stroke-width="0.25"/></marker>
<polyline points="100.5,161.8 132.7,163.6 132.0,164.8 98.4,161.2 116.2,166.9 107.7,164.4 114.7,166.1 112.9,166.1 114.7,166.3 98.5,160.7 110.3,164.6 110.7,164.8 125.9,166.6 126.3,166.0 130.9,165.2 125.9,166.7 136.8,163.1 122.0,167.7 110.8,165.2 98.4,161.1 129.7,165.5 122.7,167.7 103.3,163.0 120.1,167.8 138.4,162.4 124.2,167.2 110.8,165.1 133.2,164.4 115.2,166.3 98.5,160.7 99.3,161.7 139.7,162.1 101.2,161.9 130.2,164.7 99.0,161.0 114.4,166.7 110.1,164.7 113.5,165.6 100.6,161.9 115.4,166.4 130.6,165.1 120.5,167.9 101.7,162.5 132.7,164.4 135.2,163.5 117.6,167.1 112.7,165.8 98.8,160.8 100.4,161.6 114.0,166.0 103.2,162.2 139.5,162.0 126.0,166.7 110.9,165.2 123.0,167.4 104.0,163.1 137.7,162.8 120.0,167.6 127.5,165.9 105.7,163.3 118.1,167.3 127.2,165.7 114.3,166.2 101.1,161.5 117.1,167.3 131.5,164.1 117.4,167.2 139.2,161.8 123.1,167.7 135.5,163.3 98.5,161.0 124.1,166.8 119.5,167.7 112.2,165.8 135.6,163.0 101.0,161.9 117.6,167.5 111.6,165.1 137.9,162.1 131.1,164.8 105.2,163.5 101.5,162.5 99.5,160.9 103.1,163.2 138.8,162.6 133.9,163.4 132.0,164.5 116.5,166.4 116.3,167.4 121.0,167.5 133.5,164.3 97.4,160.6 104.5,163.3 122.4,167.4 102.4,162.7 138.1,162.5 100.3,161.2 139.2,161.9 106.6,163.7 106.6,163.4 117.3,166.7 124.4,166.7 140.0,161.8 117.4,167.3 135.7,163.1 135.6,163.2 139.4,161.8 111.3,165.8 116.1,167.3 97.4,160.8 113.9,166.1 113.5,165.7 102.1,162.4 133.2,164.0 109.8,164.7 103.4,162.5 102.0,162.3 98.1,160.9 131.6,165.1 120.0,168.0 119.5,167.9 113.7,166.5 139.5,162.1 113.3,166.1 119.4,167.3 126.9,166.0 138.3,162.6 135.3,163.6 136.9,163.3 104.0,163.3 139.6,162.4 133.0,164.2 111.4,165.4 131.9,164.4 138.3,162.2 129.2,165.3 127.3,165.4 134.1,163.9 135.4,163.3 130.3,164.8 100.4,161.7 108.1,163.7 102.7,162.4 117.1,167.2 101.4,161.5 120.4,167.8 137.2,162.7 139.4,161.8 98.5,161.1 127.5,166.1 103.8,162.7 134.0,163.6 98.3,161.0 101.7,162.1 110.8,165.3 97.3,160.6 125.3,166.4 105.4,163.6 128.5,165.6 137.6,162.3 117.9,167.3 117.4,167.3 139.7,161.6 110.2,165.2 135.3,163.2 128.0,165.7 97.6,160.7 109.9,164.9 127.8,165.6 100.3,161.2 135.2,163.7 136.9,162.9 131.0,165.1 132.7,164.3 122.9,167.3 132.4,164.4 119.7,167.2 115.7,166.5 128.6,165.9 117.0,167.2 111.1,165.1 110.5,164.5 116.5,166.8 114.6,166.1 131.0,165.1 131.8,164.7 133.2,164.5 134.1,163.8 113.3,165.8 112.7,165.9 135.8,163.9 105.2,163.2 127.8,165.9 121.1,167.9 125.7,166.4 127.4,165.9 125.6,166.3 107.3,164.0 97.8,160.9 139.1,162.2 136.1,163.1 118.6,167.7 125.6,166.4 101.0,161.9 116.6,167.1 123.5,167.4 128.1,165.9 106.8,163.8 100.1,161.9 139.4,162.1 133.0,163.8 105.0,163.2 133.0,164.2 132.0,164.3 104.3,163.3 131.6,164.4 115.5,166.1 111.4,165.5 103.9,162.9 123.7,167.3 124.1,167.1 120.3,167.8 100.4,162.0 130.8,164.6 113.7,165.2 108.6,164.5 124.8,166.7 105.3,163.3 137.6,162.9 124.3,166.6 131.7,164.6 111.9,165.5 116.3,166.7 108.2,164.3 107.6,164.3 114.4,166.6 129.3,164.7 119.8,167.7 132.2,164.0 101.6,162.2 111.1,164.8 98.3,161.1 137.4,162.8 99.7,161.5 121.3,167.9 126.4,166.3 105.6,163.6 140.9,161.8 139.6,161.8 106.3,164.1 102.9,162.6 125.8,166.6 118.6,167.8 124.1,167.2 124.7,167.0 140.5,162.2 130.0,164.9 111.3,165.1 128.3,165.2 116.3,167.0 139.7,161.9 118.2,167.4 97.5,160.7 137.0,162.8 108.6,164.6 132.5,164.2 124.0,167.1 130.0,165.3 129.8,165.4 137.4,163.0 134.4,164.0 123.7,166.6 110.9,165.3 118.5,167.6 108.7,164.7 112.6,165.5 117.8,167.1 115.4,166.7 109.8,164.8 111.4,165.0 110.4,165.1 105.2,163.4 123.2,167.4 101.5,161.9 109.1,164.2 104.8,163.1 128.5,165.8 108.8,164.7 100.6,162.0 132.9,164.2 113.9,166.9 132.5,164.4 111.9,165.3 112.2,165.6 121.3,167.7 101.0,161.6 139.6,161.9 103.7,162.5 138.7,162.8 126.4,166.5 131.2,165.0 106.6,163.7 136.2,163.2 120.7,168.0 115.2,166.5 106.4,163.4 103.2,163.1 134.5,163.6 139.9,162.0 114.6,166.6 128.5,165.6 126.9,165.9 119.0,167.6 118.7,167.4 122.4,167.8 112.6,165.6 129.0,165.3 115.5,166.6 119.5,167.7 106.2,163.3 137.8,161.9 100.8,161.7 126.8,165.7 126.5,166.4 112.5,165.6 140.1,161.9 99.4,161.1 109.3,164.6 111.3,165.5 125.4,166.7 123.8,167.3 128.0,165.7 134.6,163.6 96.9,160.8 122.5,167.7 114.1,166.4 126.5,166.0 119.7,167.9 111.5,165.6 97.2,160.6 111.7,165.1 117.2,167.0 113.0,165.5 114.8,166.1 124.7,166.6 112.1,165.5 135.4,163.8 114.7,165.8 114.8,166.8 114.8,166.8 136.8,163.0 123.2,167.2 138.3,162.1 97.6,160.6 138.1,162.2 103.7,163.5 136.2,163.1 99.1,161.2 134.9,163.7 125.4,166.8 127.1,166.1 113.9,166.2 113.4,166.2 102.5,162.9" fill="none" stroke="none" marker-start="url(#m5)" marker-mid="url(#m5)" marker-end="url(#m5)"/>
<path d="M38.6 163.8H207.6" stroke="#2f7ebc" stroke-width="1.5"/>
<rect x="239.6" y="12.4" width="169.0" height="163.2" fill="#fff"/>
<path d="M244.4 12.4V175.6M271.9 12.4V175.6M299.5 12.4V175.6M327.1 12.4V175.6M354.7 12.4V175.6M382.3 12.4V175.6M239.6 168.0H408.6M239.6 147.7H408.6M239.6 127.4H408.6M239.6 107.0H408.6M239.6 86.7H408.6M239.6 66.4H408.6M239.6 46.1H408.6M239.6 25.8H408.6" stroke="#cccccc" stroke-width="0.9" fill="none"/>
<text x="244.4" y="187.9" font-size="8.9" text-anchor="middle" fill="#262626" stroke="#262626" stroke-width="0.11" textLength="11.1" lengthAdjust="spacingAndGlyphs">−3</text>
<text x="271.9" y="187.9" font-size="8.9" text-anchor="middle" fill="#262626" stroke="#262626" stroke-width="0.11" textLength="10.9" lengthAdjust="spacingAndGlyphs">−2</text>
<text x="299.5" y="187.9" font-size="8.9" text-anchor="middle" fill="#262626" stroke="#262626" stroke-width="0.11" textLength="11.0" lengthAdjust="spacingAndGlyphs">−1</text>
<text x="327.1" y="187.9" font-size="8.9" text-anchor="middle" fill="#262626" stroke="#262626" stroke-width="0.11" textLength="4.3" lengthAdjust="spacingAndGlyphs">0</text>
<text x="354.7" y="187.9" font-size="8.9" text-anchor="middle" fill="#262626" stroke="#262626" stroke-width="0.11" textLength="3.7" lengthAdjust="spacingAndGlyphs">1</text>
<text x="382.3" y="187.9" font-size="8.9" text-anchor="middle" fill="#262626" stroke="#262626" stroke-width="0.11" textLength="4.0" lengthAdjust="spacingAndGlyphs">2</text>
<text x="233.8" y="171.3" font-size="8.9" text-anchor="end" fill="#262626" stroke="#262626" stroke-width="0.11" textLength="4.2" lengthAdjust="spacingAndGlyphs">0</text>
<text x="233.8" y="151.0" font-size="8.9" text-anchor="end" fill="#262626" stroke="#262626" stroke-width="0.11" textLength="3.9" lengthAdjust="spacingAndGlyphs">2</text>
<text x="233.8" y="130.7" font-size="8.9" text-anchor="end" fill="#262626" stroke="#262626" stroke-width="0.11" textLength="4.5" lengthAdjust="spacingAndGlyphs">4</text>
<text x="233.8" y="110.3" font-size="8.9" text-anchor="end" fill="#262626" stroke="#262626" stroke-width="0.11" textLength="4.2" lengthAdjust="spacingAndGlyphs">6</text>
<text x="233.8" y="90.0" font-size="8.9" text-anchor="end" fill="#262626" stroke="#262626" stroke-width="0.11" textLength="4.2" lengthAdjust="spacingAndGlyphs">8</text>
<text x="233.8" y="69.7" font-size="8.9" text-anchor="end" fill="#262626" stroke="#262626" stroke-width="0.11" textLength="9.2" lengthAdjust="spacingAndGlyphs">10</text>
<text x="233.8" y="49.4" font-size="8.9" text-anchor="end" fill="#262626" stroke="#262626" stroke-width="0.11" textLength="8.9" lengthAdjust="spacingAndGlyphs">12</text>
<text x="233.8" y="29.1" font-size="8.9" text-anchor="end" fill="#262626" stroke="#262626" stroke-width="0.11" textLength="9.3" lengthAdjust="spacingAndGlyphs">14</text>
<text x="324.1" y="7.4" font-size="9.65" text-anchor="middle" fill="#262626" stroke="#262626" stroke-width="0.12" textLength="35.8" lengthAdjust="spacingAndGlyphs">mpralm</text>
<marker id="m6" markerUnits="userSpaceOnUse" markerWidth="4" markerHeight="4" viewBox="-2 -2 4 4" refX="0" refY="0" overflow="visible"><circle r="1.1" fill="#a782c9" stroke="#fff" stroke-width="0.25"/></marker>
<polyline points="276.3,67.0 265.0,50.9 267.6,54.8 270.1,39.2 265.5,63.8 278.1,82.0 269.2,52.9 266.0,50.5 275.2,75.1 272.3,80.1 272.1,60.4 263.9,54.1 269.6,74.6 278.6,65.9 270.7,70.8 266.6,75.3 279.1,76.8 267.6,60.5 257.1,66.3 273.1,69.6 282.1,91.2 268.3,42.6 281.1,72.6 271.3,63.6 277.1,74.8 265.8,57.9 276.5,79.0 278.3,61.1 274.3,64.2 269.2,51.9 266.8,74.4 271.7,69.4 266.4,64.8 269.2,38.8 273.1,78.6 272.3,58.9 269.0,69.5 279.1,58.7 264.3,54.9 271.8,60.6 282.6,59.3 271.6,59.1 269.4,68.7 274.9,64.6 280.0,80.7 276.3,66.2 265.4,70.8 273.2,65.1 259.9,54.0 278.9,58.0 270.4,57.0 266.0,49.9 280.9,88.8 272.4,57.4 266.2,62.5 279.2,63.3 274.4,76.8 262.0,56.1 273.8,49.4 274.7,50.8 277.5,63.2 271.9,55.1 264.7,52.0 270.4,41.9 275.5,48.6 274.9,60.7 278.7,61.2 267.5,60.4 275.5,59.7 277.0,67.8 262.6,53.7 266.5,70.0 270.7,71.2 270.8,58.3 275.1,68.7 271.2,65.0 277.6,85.4 268.5,53.4 272.0,62.4 274.6,63.7 272.3,57.1 270.7,59.9 274.6,70.1 265.0,39.9 276.3,67.3 266.3,51.4 273.1,41.9 273.1,69.2 272.6,61.3 270.6,71.4 266.7,50.6 273.2,66.0 274.8,74.6 265.1,47.6 263.6,52.1 274.2,72.2 268.5,49.1 273.5,60.1 270.3,32.0 265.9,43.2 264.4,68.5 271.7,65.3 266.3,72.1 265.3,60.8 276.3,61.8 271.7,54.1 268.4,61.4 273.5,78.7 273.4,71.4 260.4,46.6 270.0,49.4 270.5,64.1 280.3,63.8 267.3,64.2 276.2,62.1 274.1,81.0 273.1,52.3 269.2,69.7 274.6,60.7 277.9,90.5 267.1,59.7 267.0,47.4 279.9,87.3 269.0,45.4 277.2,57.1 277.1,70.5 266.5,80.0 266.2,49.4 261.7,59.4 268.0,55.7 275.1,65.4 268.1,71.2 263.6,52.6 274.9,73.0 267.4,52.3 282.4,81.0 275.5,72.7 277.9,78.5 274.9,47.7 275.0,81.9 274.9,75.1 265.1,55.0 272.1,59.8 270.0,37.9 272.1,41.8 269.5,55.4 266.2,54.6 274.3,82.7 268.2,72.2 273.0,66.0 278.3,64.3 266.5,77.7 265.2,72.7 279.8,71.8 261.3,50.5 271.8,57.6 266.9,66.0 275.9,65.4 274.3,59.1 274.2,70.1 276.1,65.3 276.9,81.6 272.0,54.9 276.4,51.6 275.5,58.3 267.1,57.0 266.8,58.3 265.7,39.5 270.0,60.1 275.8,77.1 272.2,74.1 272.2,54.4 268.3,50.4 270.7,53.7 269.0,53.0 274.0,60.3 271.5,79.0 280.3,70.3 278.3,82.6 274.7,66.7 278.0,77.6 276.5,61.3 275.5,64.3 278.3,84.2 268.5,54.2 262.0,53.9 276.6,77.9 269.8,60.8 268.0,54.3 283.3,65.6 260.8,52.8 271.4,60.3 273.4,50.4 275.6,60.3 277.8,64.3 264.4,56.7 264.9,53.6 273.8,59.6 271.6,67.5 281.1,71.3 273.8,66.6 274.1,68.9 273.2,60.1 270.0,60.5 272.5,63.4 268.6,62.5 271.1,60.5 265.5,44.9 269.1,48.9 267.2,69.0 263.6,57.7 274.7,66.2 273.1,63.6 268.1,65.2 272.5,69.5 271.7,77.8 285.6,90.2 263.9,60.3 275.3,49.2 270.9,72.7 272.1,56.8 271.7,66.9 269.2,59.4 278.0,71.6 276.1,65.1 270.8,63.8 276.1,89.3 280.8,60.1 278.6,64.1 279.7,90.5 268.4,55.2 273.3,62.9 271.6,60.3 276.2,58.5 268.7,67.3 275.0,74.7 269.6,67.6 278.7,67.4 272.9,37.5 266.7,41.8 275.5,68.1 279.2,67.3 269.4,59.0 265.8,56.2 278.1,70.4 276.7,73.9 266.1,40.8 274.6,50.7 277.3,80.2 270.7,82.6 275.6,72.0 270.9,60.1 278.6,56.4 272.7,66.5 275.9,80.9 273.2,60.2 271.0,55.8 265.3,62.7 273.7,68.3 268.5,56.1 278.5,63.3 284.7,75.4 266.4,61.6 271.9,77.4 265.0,51.7 267.4,57.4 271.9,74.0 271.5,60.3 272.5,48.5 274.0,87.0 265.2,64.3 260.1,44.0 280.6,80.3 278.3,64.6 270.3,78.9 264.6,63.5 279.6,90.0 280.8,81.2 277.7,68.8 272.4,61.1 273.8,58.4 272.0,57.8 265.8,49.6 278.1,54.7 269.4,54.3 270.1,73.9 270.2,64.5 264.1,26.3 266.6,36.8 273.9,53.2 263.8,54.2 273.5,51.4 282.2,67.3 268.2,40.3 267.8,67.0 268.2,63.6 265.3,37.8 273.9,86.5 265.0,58.5 276.2,82.4 272.9,70.2 274.9,63.7 267.5,66.7 280.1,60.7 278.5,71.5 276.2,63.9 272.8,76.3 280.6,67.1 274.7,78.6 277.8,55.1 279.9,77.6 265.6,54.7 271.0,67.4 281.1,66.2 272.3,49.1 270.9,61.4 278.4,84.5 271.1,56.9 278.7,96.1 270.1,59.6 270.1,67.3 274.4,78.8 273.8,61.8 268.4,66.2 269.4,39.5 273.6,67.7 269.7,40.3 271.4,46.7 278.9,69.7 276.8,72.1 270.7,47.4 271.4,64.3 274.1,60.8 268.5,65.6 274.5,76.7 276.2,67.0 274.5,73.8 278.2,80.4 268.0,66.1 272.3,42.0 265.1,44.0 273.9,63.4 271.4,61.1 274.4,56.7 266.2,46.9 266.2,59.0 264.9,68.2 271.6,67.2 263.0,49.5 268.5,32.5 279.8,70.0 270.7,86.5 263.5,53.3 273.5,63.6 277.3,61.1 269.2,48.3 273.2,61.9 277.8,78.1 279.9,85.5 279.6,63.2 277.8,76.1 265.2,59.3 273.9,77.5 273.8,66.8 273.3,79.8 271.7,66.9 270.8,67.9 266.7,55.7 270.6,47.0 270.6,64.8 269.8,72.7 264.1,39.9 270.9,58.4 279.3,55.5 271.0,55.6 273.6,45.7 270.6,50.9 260.0,54.8 271.0,53.7 270.8,72.7 267.7,69.7 267.2,63.9 280.0,61.6 264.5,62.4 268.0,59.0 277.2,62.3 276.0,67.6 270.6,81.6 268.5,52.9 267.6,55.8 273.6,72.9 273.6,56.8 267.9,58.0 270.2,61.8 282.7,84.1 268.2,76.7 271.9,69.6 269.2,43.8 269.1,72.6 270.0,66.7 269.9,75.6 273.9,68.4 267.9,58.6 281.0,86.8 283.5,95.7 269.8,54.9 270.0,62.2 274.7,69.7 268.8,51.3 263.2,51.3 282.0,87.1 273.3,64.6 271.5,49.7 267.8,70.4 276.7,66.3 277.8,51.5 275.4,65.8 269.7,76.6 273.9,70.7 275.6,78.1 271.0,56.2 276.3,82.8 270.6,50.9 275.2,81.8 272.8,62.1 273.7,79.8 273.2,66.3 272.7,50.7 266.0,49.5 270.6,47.4 268.0,63.7 269.8,61.4 270.0,59.9 275.4,55.5 269.5,67.3 273.4,49.8 264.0,58.8 267.4,49.3 274.4,57.1 272.7,54.7 269.6,71.2 267.5,67.5 279.2,77.7 267.0,66.1 275.0,64.7 266.7,52.9 275.6,77.4 273.3,24.9 279.3,64.1 271.4,47.9 262.3,50.5 280.7,92.1 272.8,65.7 267.1,45.4 283.6,91.0 261.6,53.7 275.8,73.3 273.7,68.1 267.6,60.0 283.7,84.5 265.3,60.4 273.7,70.2 274.3,71.4 259.6,54.5 265.3,21.7 266.2,58.6 273.5,56.2 276.4,63.3 276.4,71.1 272.1,59.6 258.6,44.9 272.3,60.5 266.5,52.3 277.8,65.3 270.9,33.2 285.1,81.9 273.1,55.8 273.7,56.3 266.1,59.6 275.5,75.7 270.3,76.0 276.6,65.4 265.9,61.5 274.6,76.9 271.7,75.2 267.8,56.2 270.3,50.7 270.9,69.3 274.7,70.9 269.6,71.2 271.1,33.8 267.2,57.0 276.7,63.5 277.7,51.0 258.4,35.9 263.7,49.1 275.4,79.4 277.5,63.8 270.8,67.5 274.5,66.8 272.6,77.0 275.4,67.3 270.1,75.5 274.6,58.8 257.6,62.3 268.9,79.3 283.7,82.8 273.9,68.4 265.6,55.2 280.3,57.0 276.9,63.6 284.4,101.5 271.3,68.6 276.6,71.5 275.0,66.7 268.9,77.1 275.7,67.9 272.9,70.6 270.5,31.0 275.3,54.6 269.4,65.1 269.1,63.4 273.0,64.2 274.3,60.6 271.1,67.5 271.3,63.0 271.0,50.8 270.9,53.1 276.3,59.2 268.7,47.2 266.9,60.2 267.4,74.3 280.2,83.3 272.3,71.0 270.3,63.5 269.1,58.1 261.2,50.2 271.7,69.5 263.0,72.2 267.4,53.8 264.1,49.0 281.3,68.4 272.8,58.9 266.7,46.7 271.5,59.0 275.4,63.4 275.8,87.2 266.7,47.3 268.0,55.3 283.4,61.3 273.4,68.3 267.7,77.4 275.8,64.0 284.2,64.1 263.9,49.9 289.4,77.0 267.2,45.9 276.4,62.4 265.5,48.9 273.5,74.2 264.8,58.7 263.3,48.5 261.1,61.5 280.7,80.0 267.4,66.7 271.7,56.5 277.4,79.2 273.7,79.7 271.3,60.0 274.2,73.9 267.2,54.8 275.5,76.6 277.7,84.3 269.6,71.9 262.1,45.3 270.7,72.9 272.3,62.9 277.6,59.9 280.7,73.9 269.4,50.0 275.8,60.7 270.9,57.6 281.1,82.5 277.7,83.3 281.6,95.0 270.9,65.0 272.4,65.5 278.0,54.3 262.4,45.4 272.5,65.8 269.8,65.9 274.8,57.5 274.8,44.9 272.8,72.4 256.8,55.5 275.3,65.7 275.5,66.7 261.3,53.2 273.0,72.0 274.7,75.3 258.8,55.0 275.0,63.1 274.5,65.8 273.2,64.3 265.1,57.0 269.5,67.1 266.2,53.8 272.6,57.9 263.3,45.4 274.0,48.0 270.5,52.7 262.1,65.1 279.6,61.4 274.1,69.7 265.8,29.4 272.8,65.3 261.3,56.2 268.4,46.9 266.1,78.7 269.7,72.4 279.0,67.4 280.0,74.4 274.2,77.6 268.8,68.8 271.7,47.6 269.0,54.3 272.6,62.3 274.6,62.4 272.8,82.1 273.0,54.6 260.3,57.7 281.0,75.4 263.4,60.3 269.2,65.0 270.1,68.8 277.7,74.3 276.9,70.6 276.0,73.7 272.7,57.3 272.7,58.4 270.3,58.9 263.1,64.8 262.2,67.5 257.7,38.8 277.3,84.5 266.8,48.7 269.8,58.6 272.5,61.9 272.0,68.6 267.5,65.2 269.1,76.5 268.4,78.9 277.7,64.0 280.2,82.0 262.6,52.9 266.7,49.7 283.0,102.9 282.6,80.8 267.8,59.5 271.8,60.2 277.0,61.4 262.0,57.7 265.7,53.9 268.5,52.6 263.9,41.8 281.8,62.4 272.6,52.6 277.4,81.6 267.4,64.2 278.8,76.9 270.1,46.4 264.8,35.4 267.7,56.3 269.7,77.8 271.5,64.0 275.7,62.3 275.8,60.3 270.5,49.9 272.1,51.5 278.2,93.6 265.5,46.7 278.5,68.4 275.2,69.2 264.0,46.1 274.7,65.7 279.1,78.6 278.5,78.1 271.9,61.9 266.1,52.0 268.9,45.1 280.1,64.6 273.5,68.1 264.3,43.6 274.4,68.0 262.1,45.6 271.9,59.9 269.4,59.8 276.7,65.4 271.1,59.1 277.6,68.0 283.7,70.5 270.9,64.2 269.6,70.2 272.8,59.0 270.9,61.6 272.9,65.7 269.3,64.9 274.8,65.3 267.1,42.3 261.2,62.7 272.1,69.5 273.9,66.1 274.8,54.9 269.4,64.9 268.2,64.4 277.6,65.6 268.1,60.7 270.7,58.0 272.3,57.4 279.4,81.7 274.8,75.1 276.5,93.3 273.4,53.3 265.9,49.7 265.3,47.4 280.9,60.9 271.6,49.2 266.5,63.0 269.6,64.0 275.4,80.6 270.5,71.8 264.6,69.5 272.0,51.9 270.1,43.2 273.9,68.1 268.4,58.3 271.7,59.4 276.5,71.7 273.0,82.7 272.2,71.4 273.8,79.4 275.6,66.3 273.2,64.3 265.9,64.7 269.1,64.6 278.2,57.0 270.1,73.5 269.2,52.3 274.4,82.1 277.4,61.9 269.9,58.1 271.9,71.9 272.0,81.3 268.2,55.2 277.1,70.5 272.0,53.5 262.9,53.7 279.0,62.7 270.3,62.7 263.5,51.1 270.9,58.3 271.6,73.5 268.2,60.7 266.7,56.2 270.4,60.3 268.5,60.4 263.9,64.4 274.3,64.0 272.0,73.6 280.6,79.3 270.1,49.5 276.0,70.1 271.7,60.1 281.2,80.1 269.4,60.8 269.6,72.3 268.1,28.1 263.1,74.5 272.8,73.9 269.3,51.7 265.9,49.4 282.5,87.2 274.0,59.7 269.0,52.4 273.6,76.9 274.2,54.7 269.9,68.8 272.7,74.3 275.9,66.7 275.5,68.0 283.8,78.8 265.5,36.7 264.2,68.0 276.5,71.3 274.3,52.7 270.9,63.5 274.0,47.2 280.5,65.8 267.2,58.6 268.9,61.6 264.9,60.7 274.6,65.1 275.2,63.9 269.3,43.2 267.9,70.6 269.6,69.0 265.9,66.7 262.1,56.1 263.8,58.0 261.2,51.8 274.8,78.2 272.7,59.7 274.9,64.7 272.2,66.0 267.7,60.8 277.6,85.5 273.3,59.5 269.6,61.0 276.1,79.2 270.3,63.8 264.9,44.7 272.7,67.2 264.3,55.8 277.0,65.3 267.0,72.1 276.1,73.3 266.4,67.3 273.9,47.6 272.6,53.2 269.9,70.8 266.1,51.1 266.5,64.2 273.1,70.7 272.0,57.7 285.0,73.2 271.1,80.8 272.8,47.7 275.0,83.8 270.9,56.4 279.5,80.3 274.1,63.0 274.0,65.0 271.8,67.7 278.3,87.9 272.5,63.9 277.2,63.1 267.8,73.0 269.3,63.4 262.6,51.2 269.2,71.0 266.8,59.7 279.4,75.9 280.3,58.2 275.5,55.3 262.8,34.0 268.7,52.2 264.7,57.6 269.2,46.4 279.7,74.1 270.4,50.3 276.8,68.9 272.5,69.8 259.1,50.0 261.2,59.9 267.0,47.3 278.1,79.3 276.6,59.5 271.3,68.7 272.5,65.7 278.3,84.6 273.0,51.8 270.4,60.2 269.7,73.9 279.8,78.1 275.7,72.6 268.9,46.5 265.7,63.7 272.3,66.4 261.8,56.9 261.8,62.4 269.6,59.9 267.0,54.0 273.0,58.7 274.9,52.4 274.8,76.2 279.8,61.8 269.7,66.6 274.8,61.3 265.5,63.0 273.7,69.8 270.9,66.5 267.3,51.6 275.5,68.8 267.5,76.7 270.0,55.6 264.5,51.3 272.7,65.5 272.9,61.0 272.2,72.0 270.2,64.8 262.7,49.7 271.2,53.2 267.7,60.7 274.2,65.6 271.0,81.1 276.8,58.8 265.1,57.1 272.9,50.3 264.6,39.3 272.7,58.1 267.5,51.4 277.5,75.1 267.6,48.6 274.2,52.4 270.2,46.8 272.2,54.6 277.6,57.2 264.3,45.4 278.9,69.9 269.6,55.0 261.3,49.9 275.6,71.3 273.9,75.5 277.8,57.3 268.6,60.9 269.6,55.3 270.3,54.9 265.2,71.0 272.6,58.4 263.4,49.4 278.8,66.3 279.8,65.5 274.6,75.1 261.5,52.9 267.1,40.0 276.1,77.8 272.1,53.5 267.0,51.9 267.5,68.6 271.7,66.4 270.5,74.1 281.2,71.1 267.4,60.3 266.2,54.7 270.7,60.8 262.9,52.4 268.6,59.8 274.2,75.5 265.2,45.6 266.5,48.7 278.7,70.2 268.4,42.0 263.6,56.8 268.9,60.6 269.3,40.3 277.0,90.6 276.5,80.4 268.8,54.0 274.4,64.9 273.3,72.9 266.5,44.9 265.7,56.5 276.5,76.6 269.0,69.6 276.2,52.4 266.6,41.7 276.7,84.9 274.2,59.2 271.9,66.4 276.9,81.9 271.5,63.9 273.4,80.3 268.6,68.1 264.1,43.6 274.8,56.2 265.9,53.1 267.4,55.2 268.0,58.0 271.1,50.9 282.8,75.3 268.0,66.1 270.9,52.3 273.8,70.3 271.1,67.0 269.7,48.2 261.9,44.5 276.6,68.8 274.5,71.2 264.8,55.3 277.9,58.8 276.9,69.6 274.6,55.1 262.7,55.6 269.7,61.0 265.9,28.4 269.9,46.4 274.6,52.6 259.5,50.2 267.3,28.1 267.2,49.4 277.6,70.1 270.0,58.2 264.9,61.0 271.9,68.3 265.5,58.9 266.8,59.0 271.6,62.5 270.4,67.4 269.7,52.4 270.3,80.1 278.8,52.4 277.2,61.7 273.7,58.7 274.4,89.0 258.3,42.7 273.3,81.6 272.7,71.7 279.2,54.5 278.7,68.8 270.0,66.5 282.3,87.4 278.0,66.8 270.6,59.4 274.5,54.1 273.6,65.1 267.4,59.3 264.3,56.8 272.6,69.5 277.7,70.4 261.3,39.4 266.7,71.6 269.8,47.7 258.0,61.0 274.5,45.0 271.0,69.1 272.9,55.9 278.8,58.0 265.1,64.4 265.3,58.3 283.1,70.6 270.1,62.7 271.8,66.4 269.7,53.1 276.5,62.9 280.7,77.8 272.8,66.1 269.9,62.9 273.6,72.1 268.6,46.6 276.0,57.2 252.6,81.6 251.3,64.4" fill="none" stroke="none" marker-start="url(#m6)" marker-mid="url(#m6)" marker-end="url(#m6)"/>
<marker id="m7" markerUnits="userSpaceOnUse" markerWidth="4" markerHeight="4" viewBox="-2 -2 4 4" refX="0" refY="0" overflow="visible"><circle r="1.1" fill="#a782c9" stroke="#fff" stroke-width="0.25"/></marker>
<polyline points="285.6,100.9 274.6,93.0 283.4,105.7 285.3,101.8 278.9,108.9 282.1,92.7 280.0,110.2 281.8,93.5 286.0,108.5 281.0,97.7 282.4,100.8 278.9,97.4 284.0,112.0 283.5,91.8 281.8,104.6 283.8,115.3 282.5,99.9 285.3,115.2 277.2,100.7 281.5,99.0 282.3,112.0 284.7,114.3 285.5,113.8 282.4,100.5 284.9,98.2 276.9,93.8 282.1,108.9 282.4,114.7 281.9,101.2 280.9,96.0" fill="none" stroke="none" marker-start="url(#m7)" marker-mid="url(#m7)" marker-end="url(#m7)"/>
<marker id="m8" markerUnits="userSpaceOnUse" markerWidth="4" markerHeight="4" viewBox="-2 -2 4 4" refX="0" refY="0" overflow="visible"><circle r="1.1" fill="#478fc2" stroke="#fff" stroke-width="0.25"/></marker>
<polyline points="384.8,63.7 379.8,75.8 382.3,62.2 380.7,66.5 383.6,54.1 385.3,64.5 386.3,47.4 385.7,58.5 380.2,83.5 383.7,63.4 373.9,78.4 383.3,49.7 382.9,44.2 375.7,61.6 386.5,56.0 374.5,78.6 372.3,88.2 377.8,67.9 387.6,64.4 378.0,79.4 389.5,60.2 385.2,57.6 384.3,53.6 389.1,42.8 389.0,51.6 383.8,65.7 380.1,60.0 384.2,54.1 375.7,73.8 385.9,45.4 386.9,50.5 390.5,64.0 388.7,68.9 386.4,15.8 390.6,51.2 387.5,50.0 396.6,39.8 393.0,49.6 397.5,58.8 388.0,52.9 383.2,72.2 391.0,52.7 379.9,79.7 387.4,56.2 381.7,54.6 382.9,79.9 387.9,38.3 384.2,75.0 385.7,48.7 374.7,67.6 387.9,57.5 387.5,69.1 384.6,31.4 382.6,48.9 386.3,39.5 385.3,51.8 378.8,52.8 393.2,59.4 388.3,64.0 383.5,53.9 376.7,59.2 385.7,62.9 388.2,77.6 387.3,64.8 391.5,53.9 378.7,66.7 386.8,56.9 377.2,62.8 389.8,73.4 384.0,71.9 372.6,69.9 375.1,64.5 385.9,64.2 387.3,47.7 379.5,74.1 379.5,85.5 395.3,52.8 384.7,66.5 375.9,62.5 387.6,30.5 382.2,43.5 382.6,54.0 387.9,49.7 384.2,59.6 382.1,49.5 382.3,68.3 378.4,69.5 385.4,66.6 386.3,42.1 388.5,42.3 381.3,68.3 389.7,47.1 383.4,62.9 386.6,48.1 380.9,64.8 387.1,49.5 376.0,62.3 395.8,64.4 381.3,61.2 385.6,59.0 380.4,67.9 377.7,77.3 388.6,40.6 380.9,65.6 376.5,82.7 371.9,88.1 371.0,94.5 377.2,68.3 393.7,44.6 373.5,80.5 378.5,64.8 378.8,82.9 392.4,47.7 377.9,56.5 378.4,57.0 387.4,44.7 388.3,41.1 380.8,48.5 374.4,67.8 375.8,76.8 384.3,73.4 378.2,81.9 389.7,39.2 383.4,63.2 384.8,59.3 388.1,58.5 387.1,36.6 383.7,67.6 383.1,46.6 382.8,57.2 386.2,62.7 376.9,83.9 383.3,49.8 384.9,69.8 385.4,66.4 385.3,58.1 381.3,59.7 390.2,47.3 393.5,68.9 381.3,58.9 378.3,57.5 381.0,60.5 382.1,52.7 377.9,63.9 382.1,46.3 385.9,69.4 383.1,78.1 391.2,61.3 389.6,46.6 380.6,67.0 387.3,68.4 380.5,65.0 383.5,58.8 378.5,62.9 391.3,57.1 382.4,81.5 385.3,42.8 384.7,53.8 381.7,71.2 387.6,44.3 390.0,55.4 387.2,43.1 382.2,75.0 382.0,40.9 383.3,60.3 370.9,85.6 394.1,51.8 389.8,64.4 384.2,73.0 388.9,63.4 384.9,84.2 390.4,53.8 376.5,63.4 382.6,64.1 378.2,43.8 380.9,60.4 376.6,68.8 381.2,72.3 386.1,61.6 382.8,48.0 381.2,67.8 382.2,73.3 385.8,49.7 383.9,60.1 373.3,61.1 386.2,35.7 383.8,75.4 386.4,58.4 372.5,82.2 382.2,64.4 387.3,53.8 382.7,47.3 383.1,76.1 382.9,50.8 384.9,51.4 383.5,62.3 393.6,31.2 383.0,60.8 378.9,71.4 389.3,55.7 376.1,83.2 387.7,42.1 377.2,48.9 384.4,65.6 386.0,53.4 380.1,54.4 391.6,37.6 381.3,68.2 379.2,76.4 372.6,85.3 376.0,64.4 376.7,79.7 376.9,62.9 388.2,55.9 386.9,66.2 378.4,72.2 380.4,46.5 382.0,63.2 380.3,58.0 387.1,49.4 380.7,76.5 379.4,71.9 388.1,30.8 388.7,62.7 388.4,73.4 381.2,63.9 385.7,67.7 379.2,75.6 378.2,65.8 390.3,61.1 386.2,61.0 386.7,54.4 379.7,81.7 378.6,78.8 381.7,51.3 391.0,66.2 390.2,46.2 386.7,57.2 383.6,77.8 391.9,54.4 380.1,73.0 388.1,57.7 385.4,46.1 389.4,35.4 383.0,61.7 396.9,52.4 383.8,57.2 388.5,51.3 376.5,91.5 381.6,65.5 389.8,57.3 385.6,55.2 380.0,69.9 386.3,50.9 383.6,47.6 390.2,60.0 386.5,63.6 387.7,65.1 378.6,59.2 387.7,46.7 384.2,42.8 383.2,66.5 386.9,72.0 382.9,70.4 385.7,49.0 390.4,58.2 390.2,57.2 394.5,55.0 377.0,56.3 385.5,62.3 379.0,73.3 378.4,68.2 385.4,59.4 380.3,56.1 373.0,65.3 378.9,65.8 385.8,44.4 391.3,66.4 381.8,58.2 378.0,64.6 372.6,71.1 377.7,79.0 381.5,67.3 382.3,70.7 380.1,50.7 377.1,74.6 372.7,65.8 386.9,53.0 376.8,62.2 373.3,54.9 391.3,50.8 380.7,80.7 384.6,65.8 382.7,72.3 382.9,44.7 389.0,62.2 381.1,54.9 393.6,40.5 384.3,65.1 376.2,59.9 389.9,56.0 392.6,64.0 385.7,45.9 390.9,51.1 385.6,48.9 381.7,60.3 371.5,64.9 388.9,65.1 381.2,65.2 380.3,80.4 380.4,56.5 382.4,51.2 389.6,61.0 381.0,66.7 382.7,60.4 379.3,58.2 386.5,57.0 389.8,39.5 379.5,71.0 384.8,56.5 380.8,52.6 391.2,59.9 380.8,63.6 380.3,73.0 390.1,67.9 385.2,52.5 381.2,43.6 378.0,68.7 384.3,55.3 394.3,54.7 387.4,48.9 384.2,58.0 389.9,55.6 391.9,50.3 377.1,74.7 391.3,60.3 381.7,81.8 379.2,84.2 371.0,70.6 380.0,79.1 392.5,54.9 385.3,49.1 394.0,64.5 384.3,62.5 379.0,63.6 386.3,64.0 386.3,59.3 389.6,56.7 381.9,66.3 387.7,70.2 380.2,67.0 386.9,51.4 377.4,65.9 383.9,43.8 384.6,63.8 384.3,44.8 378.5,75.0 381.2,69.1 387.2,55.3 389.6,55.1 387.5,62.8 390.6,36.9 385.7,60.1 382.9,57.5 375.3,67.6 385.9,41.4 382.9,50.8 377.3,56.1 385.6,80.2 377.0,56.6 384.6,66.4 388.4,56.3 385.4,50.2 393.7,69.7 385.3,58.4 383.1,50.6 393.3,59.0 379.7,64.8 374.5,73.4 377.7,68.8 377.4,75.8 386.7,49.3 386.4,59.7 373.6,75.2 386.1,61.0 390.1,76.1 369.1,99.5 386.2,46.8 389.5,47.2 384.6,78.2 379.0,69.4 380.7,58.5 378.6,65.4 386.6,71.0 386.9,67.0 373.6,63.8 372.8,67.4 379.4,58.5 376.7,63.7 383.8,69.9 385.6,60.7 386.7,80.4 389.9,44.0 379.0,81.3 389.7,61.9 381.4,57.0 379.2,56.1 385.5,57.9 390.4,46.2 373.4,74.1 388.4,61.8 389.0,59.3 380.5,66.8 383.3,67.9 385.7,45.9 382.5,69.3 386.6,66.6 379.8,64.2 388.6,63.5 389.1,59.1 388.0,63.4 376.4,56.6 376.2,59.4 389.3,55.4 384.6,45.0 378.5,70.9 384.4,41.7 376.8,66.3 384.9,53.2 381.6,59.1 380.4,64.5 379.5,83.9 382.8,42.2 387.1,69.9 371.7,70.2 397.0,48.6 378.3,60.2 389.2,38.9 390.3,41.4 386.2,52.8 388.8,58.1 385.8,52.2 372.2,76.4 386.7,59.0 390.4,59.3 380.3,66.5 377.3,58.1 377.0,78.1 387.8,50.5 387.9,46.1 385.1,76.1 387.6,59.4 388.8,43.1 376.3,56.2 391.1,73.1 381.4,72.6 390.1,51.1 386.1,39.7 380.2,73.7 384.9,60.6 389.1,70.1 390.6,64.4 388.4,57.5 393.6,61.6 380.4,69.0 389.1,36.6 381.8,62.9 389.9,63.2 386.8,48.2 389.1,60.9 391.9,63.4 377.6,50.1 390.9,73.1 387.7,52.4 385.2,49.1 377.4,53.4 382.5,63.2 373.6,61.2 379.0,81.0 383.3,62.6 394.1,57.7 385.0,51.0 390.0,59.4 388.6,65.6 391.2,70.8 383.2,61.6 388.5,59.5 380.6,47.1 379.3,61.0 381.6,66.9 384.0,62.3 377.3,66.7 381.8,63.8 379.4,86.6 377.2,79.5 379.9,74.9 381.8,55.7 390.8,62.0 393.4,59.4 387.5,47.7 380.5,73.2 393.5,47.9 388.1,56.7 379.1,69.4 381.9,43.9 377.2,77.6 390.8,74.1 381.0,63.5 399.7,56.4 383.9,63.3 376.4,85.8 389.7,64.6 383.1,62.1 388.9,31.7 382.8,45.3 379.0,59.7 377.6,73.7 386.7,57.2 377.6,74.6 375.8,58.8 388.0,56.9 382.4,65.7 384.0,58.2 380.6,64.9 372.2,67.7 393.0,43.4 383.9,54.4 386.0,64.7 388.4,70.0 390.5,59.1 387.1,54.6 386.5,51.3 388.1,44.1 390.4,55.8 383.5,74.0 386.0,37.7 388.6,47.7 388.1,51.5 389.6,45.7 380.4,78.3 389.7,65.4 383.8,67.0 390.4,47.4 380.8,74.8 380.8,64.9 383.5,43.6 385.5,53.7 385.8,65.6 391.6,39.5 379.7,76.5 383.5,55.9 381.4,63.8 392.3,55.3 384.1,64.3 379.5,70.8 388.8,58.7 374.3,76.3 386.7,55.0 383.3,64.8 385.9,50.5 377.7,66.3 386.9,68.9 393.9,56.6 381.4,47.0 377.9,85.0 388.0,59.8 396.8,54.0 378.0,77.5 377.3,71.3 386.2,53.8 391.1,70.7 382.7,68.5 388.1,41.4 389.5,72.0 371.9,71.1 369.2,87.8 385.0,73.8 384.0,75.4 382.2,41.4 388.9,47.2 380.5,75.8 388.1,38.6 382.7,52.3 381.8,63.3 382.5,51.9 386.0,56.8 380.9,70.0 385.3,81.5 384.4,71.7 377.1,61.3 385.3,65.3 388.7,69.7 387.8,50.0 386.0,73.5 386.3,51.0 386.2,66.8 380.4,60.0 384.4,74.1 378.0,61.3 387.9,70.2 372.5,81.3 374.5,61.4 386.9,61.8 385.6,51.7 386.0,58.0 383.1,72.9 382.4,68.3 373.1,89.8 381.8,74.1 388.2,46.3 388.9,43.8 395.4,52.5 382.0,57.8 386.5,54.5 388.8,55.6 376.8,81.2 376.1,71.3 384.4,47.6 391.1,47.6 384.0,58.5 386.4,64.8 379.8,65.7 384.8,67.5 378.4,71.9 374.7,83.5 385.5,59.5 383.3,66.5 390.7,63.7 381.4,41.5 388.6,54.4 389.6,69.4 392.6,54.6 377.8,78.6 383.7,49.1 383.0,58.2 385.3,63.5 387.1,54.7 388.3,44.5 385.8,66.6 376.4,72.7 384.0,36.8 378.8,61.1 381.9,44.0 381.8,69.1 387.3,56.9 394.1,68.7 388.7,53.9 383.7,64.5 388.8,69.0 384.3,43.3 387.3,57.3 381.1,84.7 387.4,64.0 383.3,71.9 378.9,75.4 376.8,68.0 382.2,66.8 381.8,60.9 385.0,70.5 377.6,82.8 385.3,67.5 379.4,51.1 384.2,77.1 382.2,54.1 378.5,56.0 376.6,66.5 382.5,57.7 387.2,70.0 386.5,65.9 375.8,73.1 386.5,55.9 386.5,45.4 375.0,69.2 382.7,47.4 369.9,86.0 377.6,71.6 369.0,73.0 384.4,41.3 378.2,68.2 382.8,52.3 374.4,85.1 390.4,60.0 384.5,54.7 385.5,61.7 376.8,92.9 389.4,59.3 389.4,51.9 384.7,46.0 380.6,56.7 375.6,80.9 381.6,63.7 386.5,50.8 381.4,70.8 391.4,54.7 382.4,66.9 393.3,60.2 391.0,52.5 379.9,69.6 389.8,28.0 371.4,59.5 392.2,57.3 383.9,69.9 386.6,60.6 375.7,64.4 390.3,78.3 378.2,79.2 384.8,58.0 389.5,62.3 374.4,92.0 374.0,86.3 386.5,64.9 379.5,62.1 389.7,54.2 381.0,75.8 391.5,54.4 377.8,64.9 388.6,67.2 385.4,63.0 395.0,49.8 383.1,54.8 394.6,50.9 385.4,69.4 387.2,64.6 377.3,74.9 385.2,67.8 386.3,66.0 379.1,66.8 381.0,53.0 382.2,56.4 393.0,52.4 385.7,59.8 390.6,48.8 386.2,60.0 387.0,50.0 387.2,55.4 384.5,52.7 390.0,62.1 381.1,75.8 380.6,78.2 382.8,38.4 387.3,56.8 382.7,56.1 381.6,63.3 387.8,66.7 384.9,27.8 379.8,74.4 387.2,62.1 389.7,61.9 378.4,74.5 381.7,76.2 383.5,69.5 378.1,65.3 372.9,67.0 377.8,51.8 383.3,75.1 386.3,56.6 381.9,44.2 383.7,50.9 378.9,74.6 372.0,95.8 386.3,51.4 396.7,55.5 378.9,68.2 387.4,46.4 379.6,66.0 381.9,60.1 377.0,73.4 384.5,57.6 380.5,66.3 384.4,67.2 387.5,48.7 381.0,58.8 387.5,78.8 380.9,53.2 388.0,51.5 391.6,71.0 379.9,65.9 390.9,60.7 390.3,64.2 386.5,59.9 377.7,53.7 389.4,67.1 387.8,37.0 379.6,69.6 388.6,67.6 385.0,38.3 390.8,33.5 382.0,60.9 386.4,63.5 376.0,73.9 385.1,48.0 380.7,59.3 378.4,71.2 386.7,56.6 386.2,45.3 387.2,53.3 391.5,35.5 386.2,47.8 377.1,56.2 383.0,61.7 386.6,54.9 390.9,47.1 391.0,51.3 390.6,49.0 384.2,58.7 389.3,52.4 380.9,47.1 390.0,63.3 382.1,76.5 389.0,41.2 384.4,54.5 383.3,66.5 382.1,58.6 386.3,64.2 373.3,81.2 388.4,63.5 382.0,78.0 394.8,59.0 383.9,62.6 386.3,48.1 385.0,62.7 385.9,56.9 383.0,64.8 378.1,65.8 375.0,77.6 384.1,49.7 383.7,59.3 377.1,68.1 379.7,58.9 381.8,66.2 385.5,69.8 384.4,58.4 389.5,47.1 388.1,64.5 383.0,78.0 380.5,68.5 385.9,40.3 373.2,70.8 383.9,47.4 385.9,64.1 381.4,52.7 390.5,62.6 385.0,79.7 381.4,66.1 390.4,36.6 377.4,62.9 381.3,54.7 381.6,65.2 384.1,62.9 384.7,57.6 382.0,55.8 393.6,35.4 385.8,61.5 385.2,63.4 385.4,69.0 380.9,76.7 378.0,80.1 383.7,53.6 371.8,83.1 392.7,44.9 382.4,51.3 375.8,64.7 377.0,74.8 377.0,61.0 394.0,61.0 388.2,48.1 388.5,70.0 390.0,65.7 387.0,61.9 386.2,64.5 379.1,68.6 378.3,81.3 376.4,80.4 382.4,69.2 380.5,63.9 392.0,49.6 390.0,34.3 386.8,41.3 377.9,56.7 389.6,39.3 388.3,62.6 382.4,67.4 384.0,34.3 382.9,73.7 388.0,66.1 374.7,64.4 389.1,44.2 374.1,68.2 386.7,52.2 391.2,66.0 380.8,75.6 387.6,58.5 383.5,59.3 380.6,74.8 392.3,71.4 388.0,70.5 385.2,50.0 384.2,55.9 385.4,58.5 396.6,55.5 383.9,66.8 391.4,55.7 380.8,68.3 374.4,76.8 388.2,69.5 384.9,58.8 381.1,60.2 383.7,48.9 376.0,81.0 380.9,63.8 378.5,56.6 386.7,72.5 387.2,58.3 387.7,66.0 379.2,74.4 388.1,48.2 380.5,77.5 391.6,49.6 386.9,66.1 383.0,72.2 378.6,71.6 376.5,69.9 378.0,71.1 382.4,58.1 376.0,83.1 381.8,46.8 393.8,51.5 388.0,45.0 372.1,72.7 372.8,88.3 376.3,68.5 385.1,63.2 390.6,57.7 378.2,67.3 387.1,62.2 383.7,59.5 384.0,79.3 391.9,40.1 382.2,74.3 388.8,58.1 386.6,48.6 380.2,70.4 379.1,61.2 388.3,42.1 383.3,64.5 385.0,49.0 385.1,57.8 384.4,58.5 381.6,52.8 381.3,63.9 389.1,63.6 385.6,50.0 392.0,58.1 380.7,55.4 374.5,75.1 385.2,61.0 389.9,47.0 383.7,50.7 388.6,57.1 387.1,67.2 387.4,68.3 385.5,56.0 386.8,44.6 377.0,60.6 386.9,45.9 384.8,64.6 392.4,47.1 375.5,72.8 381.2,59.0 376.5,73.6 390.4,53.4 374.5,54.5 376.5,72.2 391.4,69.8 386.1,66.3 373.9,78.5 381.2,72.0 385.5,71.2 388.8,52.0 386.1,45.0 379.4,66.3 387.4,64.5 385.2,58.6 386.5,67.2 385.4,64.4 384.4,51.4 392.1,58.5 381.9,62.1 384.6,67.8 384.6,44.0 381.4,68.3 383.8,59.7 378.1,73.2 383.6,68.1 391.0,60.0 391.8,65.7 392.9,54.9 384.0,60.3 386.2,77.3 377.9,88.1 394.1,49.5 376.8,68.0 392.5,43.9 381.8,61.0 387.2,70.1 384.0,54.6 387.8,64.3 383.3,61.0 373.0,72.0 381.8,53.7 385.7,48.4 382.9,67.3 379.6,40.3 377.2,67.8 381.9,58.2 378.1,80.2 378.7,83.6 385.0,36.6 381.2,44.5 387.9,47.8 377.4,81.0 389.5,58.5 383.5,56.3 387.8,60.2 381.3,57.7 382.7,71.9 384.4,63.0 382.7,74.5 379.1,65.2 385.2,56.8 378.1,70.3 382.9,64.4 385.9,66.2 398.5,61.0 386.7,50.4 388.7,58.4 386.4,56.6 384.5,78.0 385.4,65.4 391.0,51.6 383.3,71.2 394.1,66.2 387.5,72.5 380.3,45.6 384.4,66.5 382.5,69.7 376.2,54.0 383.1,48.4 384.0,55.4 383.5,49.7 398.8,51.2" fill="none" stroke="none" marker-start="url(#m8)" marker-mid="url(#m8)" marker-end="url(#m8)"/>
<marker id="m9" markerUnits="userSpaceOnUse" markerWidth="4" markerHeight="4" viewBox="-2 -2 4 4" refX="0" refY="0" overflow="visible"><circle r="1.1" fill="#478fc2" stroke="#fff" stroke-width="0.25"/></marker>
<polyline points="367.3,110.3 375.2,100.4 367.6,109.4 363.2,116.9 373.6,95.0 373.5,94.4 365.8,118.4 367.7,97.8 366.7,103.4 366.1,112.2 363.2,112.2 366.1,117.8 362.8,108.7 363.7,115.8 365.7,101.8 371.5,93.5 367.5,113.2 366.6,114.4 370.5,106.4 365.0,118.8 361.4,118.0 365.2,116.9 366.7,97.0 366.8,106.9 370.2,98.3 370.4,96.9 366.9,113.1 363.5,116.9 365.8,120.4 372.3,99.9 371.3,105.9 374.2,96.3 372.1,102.3 364.6,117.1 372.5,107.5" fill="none" stroke="none" marker-start="url(#m9)" marker-mid="url(#m9)" marker-end="url(#m9)"/>
<marker id="m10" markerUnits="userSpaceOnUse" markerWidth="4" markerHeight="4" viewBox="-2 -2 4 4" refX="0" refY="0" overflow="visible"><circle r="1.1" fill="#dd4e4f" stroke="#fff" stroke-width="0.25"/></marker>
<polyline points="313.0,151.7 307.6,137.8 308.2,142.0 309.9,144.1 306.1,139.1 309.0,148.9 302.8,134.1 306.7,134.8 306.3,141.1 309.6,135.3 307.4,151.5 316.5,158.6 312.0,147.3 313.0,144.2 301.3,119.2 305.3,144.1 302.9,132.6 310.1,134.3 302.0,122.7 307.4,140.9 305.2,136.0 309.3,143.8 311.1,149.9 308.5,151.2 309.8,149.2 307.8,128.9 312.7,139.4 309.0,143.4 307.4,141.8 314.1,147.2 308.5,142.3 305.6,142.4 306.7,136.0 308.5,133.7 317.5,157.0 306.8,139.9 306.5,129.4 311.4,151.4 312.8,144.3 309.3,140.5 306.5,131.9 304.1,136.5 308.6,144.0 306.5,137.4 294.3,132.5 310.6,138.4 303.4,125.0 307.1,138.1 311.5,151.6 311.4,149.2 310.0,143.2 305.8,143.9 307.6,136.3 308.3,138.8 303.9,126.3 301.8,134.6 303.9,128.4 308.0,149.0 311.0,145.9 311.2,135.7 311.3,141.1 306.1,136.2 306.6,139.7 309.2,147.7 304.9,126.4 303.3,131.5 313.4,156.2 304.1,147.6 306.3,141.8 304.5,135.7 307.5,142.6 316.0,154.4 302.1,134.3 305.7,143.8 307.2,130.9 305.0,139.2 305.4,132.8 307.0,134.3 306.4,133.9 308.2,146.6 308.8,132.5 312.9,140.1 310.8,153.3 309.2,145.5 312.4,145.0 307.0,137.6 303.7,135.7 311.5,152.1 309.5,135.3 306.2,142.5 312.9,151.6 307.7,134.3 309.5,148.9 314.1,152.8 308.9,135.0 309.5,133.7 313.2,147.9 300.9,132.2 308.8,132.7 311.8,146.6 305.7,123.6 306.6,142.4 311.1,139.8 308.3,136.1 307.6,147.5 311.7,137.8 313.8,157.5 302.1,131.3 305.7,128.6 301.6,124.6 308.4,136.5 307.2,138.7 311.8,148.5 311.5,142.6 304.4,128.8 313.6,149.4 310.9,139.9 306.6,142.3 310.6,138.4 311.6,145.4 306.7,133.6 309.6,132.9 316.9,154.2 307.9,131.5 307.4,148.6 310.8,144.3 305.1,131.5 307.8,140.8 308.4,136.5 305.5,134.5 312.4,136.3 311.0,146.6 311.9,150.4 309.4,135.5 309.2,134.8 311.6,138.4 311.2,143.4 306.2,133.9 309.3,141.9 308.8,154.2 303.5,139.1 310.8,137.1 305.6,134.6 316.0,149.8 315.6,148.5 304.0,138.6 310.9,145.7 317.5,142.2 303.5,133.1 309.0,138.0 302.8,125.0 307.3,138.9 302.9,126.0 305.6,131.9 303.4,118.3 306.4,141.4 310.5,142.3 302.6,129.6 311.6,146.2 310.9,145.7 305.7,139.2 308.2,138.0 311.8,154.2 305.5,139.1 312.9,144.2 303.5,141.6 310.0,139.8 311.3,143.1 303.6,131.6 310.9,136.9 311.9,143.0 304.6,140.6 307.3,131.9 308.0,134.2 302.5,129.8 310.8,142.5 310.7,140.0 301.0,123.0 302.9,141.6 304.9,126.0 303.9,133.5 305.1,145.1 312.5,153.9 299.3,135.4 309.8,147.6 314.6,147.6 309.8,156.9 306.6,130.4 305.6,140.2 307.4,140.9 304.7,137.6 310.0,139.0 308.4,140.3 304.8,136.5 305.7,143.7 305.2,134.4 311.3,137.3 305.0,140.9 305.2,126.7 314.0,153.8 297.8,127.6 311.1,137.4 314.3,156.1 316.0,144.8 312.5,135.5 312.0,152.2 306.6,136.1 300.1,121.9 300.0,128.5 311.2,141.4 307.0,138.2 310.6,149.7 307.8,139.9 311.5,144.2 314.0,150.2 313.0,153.3 302.6,123.6 308.8,140.4 316.9,150.4 304.0,145.0 300.5,127.6 305.3,126.4 310.7,146.7 312.0,139.4 310.3,133.1 315.2,144.3 310.6,151.8 313.2,150.0 308.0,141.0 313.5,148.2 313.3,152.9 311.9,143.3 303.5,132.7 307.3,135.0 307.8,143.2 302.4,123.8 309.8,148.3 305.9,141.8 315.6,153.6 307.4,134.1 312.3,142.3 312.7,156.4 306.2,148.7 301.6,124.9 306.1,134.6 310.9,140.2 309.6,133.3 316.5,155.7 315.1,148.7 314.6,153.2 311.5,148.7 307.6,144.7 309.5,136.4 304.1,132.1 303.2,132.3 302.9,116.8 310.7,145.7 311.4,141.4 305.0,136.6 314.2,148.7 310.5,143.8 307.1,137.5 309.5,149.2 304.0,137.0 300.6,130.1 315.6,151.4 315.7,162.0 310.5,140.5 311.4,150.7 306.5,139.7 308.6,145.3 307.6,138.5 308.3,131.0 308.2,133.8 309.7,144.5 309.3,151.9 314.8,161.0 315.9,148.5 305.4,140.4 306.5,147.5 313.4,146.8 311.4,155.9 315.9,156.4 316.5,157.1 307.9,135.8 317.4,159.5 302.4,135.4 308.6,149.7 306.8,136.7 308.2,139.4 306.4,134.8 306.8,130.9 309.3,148.8 306.8,150.6 311.2,145.7 310.6,148.8 309.7,135.8 315.3,142.9 309.2,141.8 309.7,138.1 307.8,146.2 308.6,132.0 316.2,158.7 309.1,139.8 310.6,137.4 308.4,149.0 312.5,148.3 307.8,133.8 314.3,144.9 313.6,159.5 313.3,154.3 313.1,132.9 310.7,150.1 303.6,130.1 310.7,129.6 316.7,143.9 307.9,137.1 309.7,149.6 308.4,145.7 310.0,148.4 304.6,136.7 311.5,153.8 309.8,143.3 309.0,141.6 309.2,137.4 317.1,161.4 313.7,158.4 313.6,150.1 310.3,144.2 306.9,140.9 307.7,140.4 304.0,123.8 307.4,136.2 307.0,136.8 312.4,146.6 310.2,135.0 306.1,135.9 307.1,136.1 306.1,143.2 306.8,136.5 305.9,128.3 313.6,149.4 317.4,161.8 306.4,134.7 304.6,135.5 310.2,144.3 307.2,146.2 302.0,117.2 310.3,146.4 311.0,153.3 311.2,146.6 307.0,137.7 312.4,147.8 308.7,145.8 309.7,139.5 314.4,146.1 309.2,141.1 311.5,142.6 311.0,151.9 307.8,141.6 308.6,152.8 305.8,133.8 309.3,150.7 310.0,144.4 312.7,158.8 307.9,146.3 313.3,153.6 305.8,128.7 304.6,143.4 306.3,137.5 319.5,158.1 314.9,153.5 309.9,143.8 307.8,154.6 302.7,131.9 311.5,145.9 309.3,140.9 309.6,139.5 312.2,143.6 307.2,135.3 313.2,148.4 302.4,139.0 313.6,131.5 307.6,140.4 306.7,141.2 314.1,145.3 310.7,141.8 310.3,136.2 307.9,144.5 315.6,157.5 310.8,140.8 306.2,143.7 307.1,138.1 308.2,142.0 303.4,128.1 311.4,153.2 309.1,151.1 308.6,136.4 312.9,151.6 311.8,139.4 308.9,142.5 315.5,160.0 302.5,136.3 305.2,130.0 307.5,140.5 317.9,154.9 314.2,135.2 316.0,151.7 306.7,143.4 303.5,138.6 310.8,149.4 313.6,157.6 313.5,143.6 309.5,142.7 310.7,150.0 311.4,149.4 311.1,135.7 306.5,143.2 311.6,146.6 307.3,147.7 308.0,140.9 306.8,141.5 310.4,143.9 314.0,154.8 313.3,145.7 312.6,148.0 307.1,141.8 301.4,132.0 303.7,133.9 305.9,136.6 308.1,141.4 307.8,145.3 311.5,139.4 312.8,146.6 309.2,145.4 310.4,149.9 308.5,142.9 309.1,143.1 303.6,126.0 302.4,137.5 308.8,145.8 300.8,135.5 310.4,146.6 308.3,133.4 303.4,135.5 302.0,116.6 311.1,152.0 307.2,143.1 315.0,143.4 311.0,139.8 308.7,136.1 311.1,151.1 312.2,148.8 307.7,139.7 307.8,133.8 310.6,152.4 314.3,156.2 304.5,132.3 302.1,134.9 311.4,132.8 314.0,151.0 307.3,144.2 303.9,140.4 305.6,138.5 306.9,143.5 307.4,142.8 301.3,133.5 307.9,146.2 310.7,147.2 311.3,146.2 305.1,146.9 308.7,141.2 306.8,144.3 307.3,146.3 303.9,129.9 306.1,139.7 311.8,145.4 307.7,131.3 309.7,147.3 307.1,142.4 314.5,143.2 315.6,147.5 311.1,145.8 308.4,141.7 315.8,155.0 314.0,145.8 306.8,140.2 313.9,140.0 307.8,139.8 305.3,121.9 305.6,136.6 309.6,143.7 308.0,143.5 309.1,142.4 311.1,138.6 307.3,145.0 303.7,129.2 313.8,152.1 305.9,136.9 314.3,138.0 309.3,152.4 315.7,136.9 305.5,137.6 313.4,148.0 306.8,122.2 308.9,136.2 305.9,145.3 309.3,146.6 311.4,148.9 310.1,140.2 311.8,141.9 316.0,154.7 315.7,151.5 308.6,148.6 312.8,145.9 305.1,145.6 311.3,148.2 303.9,136.8 300.6,134.2 311.6,141.8 317.1,161.5 312.3,143.8 302.4,137.6 305.7,143.1 308.0,140.1 306.8,141.5 314.1,155.4 305.4,137.0 309.5,147.0 304.3,138.8 313.4,145.1 308.5,143.9 301.2,130.5 314.4,152.9 310.5,142.5 312.9,151.9 309.5,141.8 306.5,138.3 306.9,136.8 301.9,141.1 310.2,154.4 304.6,140.3 307.5,134.7 310.3,133.8 302.6,123.8 306.7,137.6 314.9,151.3 309.4,147.0 310.8,141.7 307.5,133.4 309.5,152.4 307.6,134.5 308.0,136.8 308.8,150.0 304.1,137.2 308.0,149.1 313.1,142.5 315.8,145.1 310.6,140.4 316.3,152.7 303.3,137.9 318.6,161.3 315.6,146.0 314.9,147.4 301.4,128.8 311.2,137.8 310.0,146.7 314.4,150.2 307.0,142.1 310.8,147.9 301.3,123.0 310.3,141.9 305.8,133.4 314.2,149.4 307.1,128.5 311.6,147.2 305.9,133.0 307.6,140.7 305.7,132.2 311.2,142.2 296.8,112.1 305.0,115.2 300.9,111.1 298.1,118.2 310.6,122.3" fill="none" stroke="none" marker-start="url(#m10)" marker-mid="url(#m10)" marker-end="url(#m10)"/>
<marker id="m11" markerUnits="userSpaceOnUse" markerWidth="4" markerHeight="4" viewBox="-2 -2 4 4" refX="0" refY="0" overflow="visible"><circle r="1.1" fill="#ff9639" stroke="#fff" stroke-width="0.25"/></marker>
<polyline points="342.9,140.9 346.0,139.4 345.0,142.4 341.9,142.8 336.4,148.1 338.6,159.2 344.1,136.9 346.0,137.0 341.1,150.9 345.9,124.7 342.5,152.7 346.3,133.0 344.2,139.8 342.4,139.2 348.8,131.7 349.0,133.7 341.0,141.8 340.5,151.7 337.9,153.2 339.6,140.3 346.8,127.7 347.6,134.0 344.0,142.3 347.0,139.0 343.0,135.8 347.1,126.4 340.2,149.0 347.1,135.4 343.2,139.5 337.6,149.0 335.9,151.3 350.7,130.5 347.0,139.0 339.9,144.0 347.3,141.1 345.8,133.1 344.2,141.2 352.0,127.4 340.2,144.4 338.0,149.2 337.1,143.1 340.3,150.6 342.5,145.2 349.6,130.9 349.9,126.5 345.2,136.3 346.7,140.2 337.2,150.3 340.3,151.2 345.5,138.7 342.8,140.5 345.1,147.3 342.1,146.1 352.3,127.8 348.9,133.0 342.2,141.6 349.2,140.0 350.6,130.4 344.0,138.8 343.1,139.9 336.2,156.4 337.4,157.4 336.8,159.5 336.7,162.6 341.3,142.2 345.5,139.0 339.5,150.0 339.5,138.0 342.7,138.0 339.7,142.8 335.9,155.5 346.7,128.9 350.3,129.5 337.5,147.3 342.5,124.3 342.3,141.6 347.4,149.2 339.4,145.8 337.6,159.0 340.1,145.2 339.3,156.7 351.2,131.7 343.3,139.1 340.6,154.7 341.4,136.8 337.9,157.7 339.4,140.6 345.0,137.7 341.0,141.4 339.6,152.3 338.9,143.1 342.5,143.7 343.1,141.5 345.8,128.5 345.5,126.6 344.0,127.6 339.3,147.8 341.1,148.9 342.3,141.9 344.7,138.1 338.2,160.9 339.5,147.7 349.1,125.7 340.5,153.4 341.4,148.8 341.1,148.5 344.7,137.6 347.9,142.7 341.1,145.0 337.4,155.9 346.7,136.5 347.3,142.0 343.9,148.2 342.8,141.8 348.0,134.9 339.1,155.6 338.1,156.3 340.8,151.4 341.2,150.1 340.8,147.6 352.0,131.9 340.3,145.1 350.6,132.8 348.2,143.1 354.3,129.4 348.8,127.7 340.2,146.7 336.0,149.6 343.9,138.6 343.8,153.2 336.8,145.4 335.2,157.4 345.3,141.3 344.4,142.0 342.1,127.2 343.8,138.8 341.2,148.1 337.9,142.9 340.5,153.9 338.8,141.8 345.0,144.1 344.8,138.2 343.7,133.5 334.8,160.4 342.8,139.1 345.0,135.3 338.6,153.1 346.6,124.7 339.6,148.7 351.1,119.5 342.6,134.9 345.3,133.2 345.0,139.6 346.1,132.8 341.2,151.6 343.7,149.5 336.5,160.1 345.3,137.1 332.6,148.6 344.2,135.2 346.8,136.6 336.4,154.4 349.2,135.7 338.0,139.7 347.3,140.2 342.7,137.9 339.5,142.3 341.2,142.0 345.4,132.4 337.1,151.2 336.0,153.1 338.7,149.1 349.2,132.6 342.5,145.0 352.3,124.5 338.6,148.6 339.9,146.2 342.6,139.6 347.7,129.8 343.2,143.8 343.3,151.4 347.8,134.4 348.4,127.9 348.9,136.8 341.3,139.4 336.6,149.7 342.6,146.5 344.1,139.4 343.0,141.8 344.2,144.4 338.3,152.8 343.3,139.5 341.2,148.2 344.8,141.3 343.1,147.5 343.6,140.3 346.1,135.3 336.3,139.9 348.7,136.1 335.5,154.8 344.2,137.8 351.2,139.4 339.5,147.8 337.4,143.6 347.5,141.4 339.4,145.9 336.3,162.9 343.9,137.5 342.2,148.0 345.9,139.6 341.3,144.3 347.7,137.7 340.2,141.3 343.3,144.8 342.5,137.6 347.7,134.5 335.7,162.9 341.3,141.9 344.3,147.6 336.7,152.3 343.2,130.2 347.7,133.3 338.7,151.6 338.1,152.4 345.0,134.6 345.9,147.9 338.4,145.1 336.5,160.2 342.5,143.4 343.5,131.7 340.7,146.4 343.4,143.2 345.2,126.2 349.1,134.1 343.6,129.1 344.4,136.4 347.8,131.2 342.7,157.4 335.5,149.7 338.1,157.3 355.3,121.8 341.4,140.5 345.1,143.3 340.5,149.1 336.1,151.4 349.7,121.6 339.6,142.9 343.0,141.6 335.6,155.0 344.4,142.7 336.7,138.7 341.7,142.9 348.7,136.5 341.0,149.9 342.7,139.2 344.9,134.0 343.3,137.0 352.1,138.7 341.9,143.1 339.3,151.2 342.3,137.1 339.7,145.7 340.9,150.8 343.4,135.2 336.5,156.9 339.0,147.3 344.2,135.1 346.4,133.5 339.7,145.6 342.2,141.6 342.2,137.2 345.8,142.8 340.1,149.2 343.2,138.2 343.9,140.7 342.7,141.2 341.4,132.0 343.1,139.4 345.3,146.4 344.6,140.7 351.7,124.4 338.3,148.7 337.3,144.6 338.1,149.5 347.8,138.9 336.7,153.7 341.8,138.1 348.6,135.2 339.3,149.2 339.2,149.9 338.8,155.8 342.9,141.8 338.4,152.4 340.9,147.9 338.9,146.0 340.0,148.5 347.5,134.5 344.4,127.6 336.2,161.6 337.0,149.6 345.6,139.9 340.5,151.8 343.1,147.1 346.3,140.2 350.6,129.4 348.9,131.4 339.2,144.8 345.7,141.0 338.6,145.5 348.4,143.8 339.5,152.9 338.2,158.3 337.6,145.5 349.3,133.2 348.9,135.2 335.0,159.2 340.2,143.9 339.0,147.9 341.6,139.5 342.0,152.2 352.5,133.8 338.7,144.0 347.8,136.9 344.8,134.1 338.7,159.9 334.7,144.1 346.2,128.3 346.1,142.0 343.7,132.6 347.6,138.3 339.2,146.7 346.9,139.6 348.0,132.5 345.6,130.3 344.9,128.9 338.7,152.3 349.1,134.6 338.4,154.7 340.1,143.3 351.1,144.0 340.0,136.4 343.0,139.3 348.6,130.7 337.6,147.7 345.4,134.4 342.7,138.6 338.2,142.1 339.8,153.1 341.1,136.9 341.4,139.2 349.1,134.9 339.1,142.5 343.2,144.5 347.5,138.6 347.2,137.9 346.4,135.8 347.5,124.8 336.6,147.8 348.8,123.8 347.3,133.4 338.5,149.6 345.6,123.8 341.7,150.2 342.8,132.4 340.4,151.2 338.0,152.5 340.1,134.8 350.6,134.2 341.6,148.5 350.2,120.2 337.3,145.0 347.3,127.9 339.9,151.4 337.7,150.9 347.6,141.3 334.8,151.4 346.3,138.0 334.4,161.7 338.5,140.5 336.9,147.2 340.7,150.9 341.1,140.2 339.7,144.1 338.2,146.2 340.7,134.7 340.8,139.4 340.9,138.7 345.9,130.0 341.0,142.8 337.9,134.5 339.0,145.9 348.3,136.6 342.9,137.3 340.2,147.1 336.7,155.9 337.2,153.8 339.2,150.7 340.3,137.1 341.3,143.3 336.5,144.8 345.1,137.8 340.0,135.5 349.2,129.4 342.9,147.5 339.4,137.1 346.9,135.7 338.3,150.8 346.1,141.0 338.1,150.5 340.6,144.2 342.9,138.3 339.4,157.6 334.8,150.1 341.5,149.5 342.8,141.3 338.5,148.8 342.9,138.7 341.7,149.9 342.6,146.8 349.6,136.6 341.5,139.2 337.2,140.7 340.5,142.5 345.1,133.0 345.4,129.6 344.2,145.5 345.6,148.7 339.9,151.6 342.1,126.3 341.8,150.3 337.1,154.1 343.3,139.7 348.5,132.6 339.3,153.3 341.5,143.2 338.6,155.2 341.8,148.4 349.6,127.3 348.9,140.6 332.8,144.5 340.2,141.5 341.5,139.5 344.2,143.0 339.1,152.9 340.4,152.8 344.0,123.8 339.1,149.1 348.4,131.2 339.7,148.6 345.3,130.3 345.5,135.8 346.1,144.0 342.1,123.8 343.0,150.6 342.1,144.2 337.4,149.9 341.3,149.2 340.9,145.4 342.0,150.8 338.7,145.1 350.6,127.8 336.0,157.9 339.1,153.5 340.8,150.8 340.2,146.3 347.7,132.9 342.9,135.6 347.2,137.8 341.5,140.3 346.9,120.3 338.6,152.3 338.6,152.6 339.7,142.3 345.3,140.2 341.0,144.3 341.0,149.7 335.5,154.0 337.5,144.6 339.1,148.5 337.7,146.5 338.6,151.9 348.6,129.9 347.2,138.0 352.3,125.3 342.4,146.8 340.4,141.6 342.8,144.4 340.8,141.9 342.8,144.4 338.6,143.6 338.5,160.0 342.3,144.6 343.8,135.8 335.1,159.8 341.7,145.3 342.7,136.9 347.3,130.6 339.8,142.9 342.3,138.0 349.6,126.2 351.4,130.3 337.0,146.2 339.6,147.6 347.0,132.8 342.6,140.1 339.0,147.0 347.5,144.2 340.9,139.2 342.5,143.9 339.9,144.4 341.0,144.2 333.9,155.6 350.5,126.3 345.7,131.0 344.1,128.4 346.5,143.3 341.9,141.0 342.5,136.9 342.5,134.6 338.7,158.7 343.6,138.9 338.4,151.2 338.1,142.8 337.6,148.1 348.7,126.6 344.1,137.2 336.3,142.4 344.1,129.4 342.6,142.7 346.6,148.7 339.4,143.8 334.6,145.4 344.6,141.7 343.7,134.5 338.0,143.2 343.6,142.7 345.0,132.9 340.4,139.5 341.4,133.5 342.3,140.9 338.6,153.9 335.0,152.3 339.1,157.1 342.1,131.8 348.0,138.3 341.4,146.4 338.7,151.1 344.6,138.8 340.0,143.3 343.2,139.2 343.5,149.7 337.6,152.2 350.2,127.9 337.2,150.7 342.1,142.3 349.9,130.0 335.4,158.7 345.8,135.7 336.2,141.5 338.4,143.4 342.0,139.6 340.5,152.8 337.2,162.2 345.2,125.0 340.8,144.7 345.9,134.0 341.0,132.1 344.5,139.5 348.0,138.0 348.6,135.6 345.5,127.8 342.8,137.6 343.5,130.7 339.7,144.7 339.9,145.9 344.5,141.3 343.9,138.5 341.4,137.2 350.4,124.5 347.9,134.5 345.3,117.2 352.7,116.2 349.2,118.2 354.7,121.3 353.3,129.4" fill="none" stroke="none" marker-start="url(#m11)" marker-mid="url(#m11)" marker-end="url(#m11)"/>
<marker id="m12" markerUnits="userSpaceOnUse" markerWidth="4" markerHeight="4" viewBox="-2 -2 4 4" refX="0" refY="0" overflow="visible"><circle r="1.1" fill="#52b152" stroke="#fff" stroke-width="0.25"/></marker>
<polyline points="332.9,159.0 311.9,146.6 335.8,156.5 334.0,158.2 323.0,160.9 319.6,156.8 341.0,148.8 314.9,150.5 335.8,156.3 319.8,156.2 327.8,167.1 332.3,160.1 339.0,150.8 334.3,157.0 313.4,147.9 337.8,153.0 340.6,148.3 312.1,146.0 319.6,157.4 338.9,152.2 327.5,167.6 311.5,144.8 334.3,157.2 340.9,147.7 314.5,150.9 337.9,152.9 329.5,163.7 330.2,164.1 312.1,146.5 341.2,148.3 341.2,147.2 314.4,150.1 336.2,155.1 321.8,159.7 311.0,145.7 327.0,167.2 336.5,154.0 329.1,165.4 312.3,146.9 337.4,153.1 324.2,163.2 328.5,166.3 323.2,162.2 341.2,148.6 327.0,167.2 336.2,155.1 339.7,149.4 329.2,164.8 336.7,153.7 317.2,153.6 316.9,152.8 333.3,158.5 331.0,161.2 340.3,149.1 322.0,160.1 316.3,152.3 323.3,162.7 338.7,151.9 327.5,166.9 320.7,158.1 325.8,166.3 333.6,158.9 314.4,149.0 332.2,160.2 324.1,163.5 338.2,152.5 335.9,155.7 334.7,157.3 312.0,146.5 326.6,167.4 312.3,146.8 321.1,159.9 316.0,151.9 324.9,165.8 317.9,153.8 321.2,158.2 334.2,158.0 334.4,157.0 334.0,157.8 333.8,158.8 321.9,159.9 311.5,146.1 313.0,147.1 329.0,165.5 340.9,148.7 326.4,166.7 325.1,164.7 337.1,153.2 322.3,160.7 317.3,154.2 340.7,149.3 310.7,144.5 327.3,167.5 316.2,152.1 318.5,155.3 339.3,149.7 332.1,161.4 327.7,166.8 313.7,149.1 339.1,150.4 323.9,163.4 313.5,148.8 327.7,166.9 312.9,148.1 337.2,153.6 323.3,162.1 319.4,157.1 319.4,155.5 317.0,153.5 316.8,152.9 329.4,164.5 315.8,151.8 327.9,166.9 338.5,152.5 333.6,158.5 327.1,167.2 324.2,163.2 320.5,159.5 318.5,155.4 323.6,162.7 341.5,147.7 327.1,166.8 319.5,157.2 318.6,156.3 324.2,163.8 324.9,164.2 321.3,159.6 327.5,166.8 334.2,158.4 332.4,160.2 332.4,159.1 326.5,167.3 336.7,154.5 313.4,148.0 328.7,165.5 336.6,154.4 333.1,158.7 340.4,149.0 314.5,150.6 330.8,162.0 334.8,156.4 322.7,161.9 318.3,155.4 324.3,163.8 335.9,154.8 318.0,154.2 334.9,156.5 334.5,158.2 328.1,166.8 326.2,167.0 340.4,149.5 314.1,150.2 313.2,147.2 326.9,167.2 312.8,148.1 317.7,155.6 314.5,150.2 339.5,149.5 326.8,166.5 318.1,155.7 320.6,158.6 316.5,152.5 322.1,160.5 316.3,152.4 336.7,154.1 328.3,166.3 313.5,149.1 337.3,153.6 324.1,164.1 311.7,145.9 333.7,157.7 331.1,161.9 326.4,166.3 324.0,162.5 332.6,158.9 340.6,148.2 325.8,166.3 339.0,151.6 327.3,166.8 318.3,154.9 332.6,159.6 334.5,156.4 314.5,149.9 316.8,153.8 314.5,149.5 312.0,146.1 321.6,159.1 325.5,165.9 329.3,165.5 326.4,166.0 335.6,154.7 317.0,152.1 341.0,149.0 333.7,157.7 312.3,146.7 311.8,146.9 313.9,149.2 329.8,164.0 328.4,166.1 318.2,155.6 331.6,161.3 320.7,159.2 335.3,156.4 333.6,158.8 317.9,154.6 313.2,147.5 330.0,164.0 313.3,148.1 328.7,165.9 330.9,161.6 315.2,151.0 333.8,157.2 323.1,161.9 330.0,163.3 327.0,167.0 332.6,159.6 325.6,165.9 326.8,167.2 325.2,165.0 315.7,151.3 329.8,163.3 310.7,145.5 322.9,162.6 335.3,156.8 336.7,153.4 336.7,153.9 333.2,158.4 341.1,148.5 341.1,147.6 323.6,162.0 331.3,161.3 315.6,151.3 330.5,163.3 321.2,158.8 337.3,152.6 314.6,150.3 315.6,151.5 329.9,162.6 328.3,166.4 330.1,163.7 329.3,164.8 311.4,146.5 329.3,164.7 324.4,163.6 317.1,153.0 336.1,154.7 333.7,158.7 331.8,162.2 323.3,162.5 315.3,151.4 310.4,144.4 337.1,152.8 325.0,164.9 326.3,165.6 319.4,157.3 323.5,162.6 330.5,163.5 324.6,163.7 336.2,155.0 316.4,152.8 314.3,149.8 337.1,153.5 317.0,153.1 320.2,157.9 334.0,158.5 310.7,145.7 327.1,167.1 320.4,158.5 339.8,149.8 326.8,167.4 326.8,166.9 330.6,162.6 335.8,155.8 319.3,157.2 311.4,145.5 329.4,165.1 324.9,163.9 317.0,153.7 333.0,159.4 333.3,158.7" fill="none" stroke="none" marker-start="url(#m12)" marker-mid="url(#m12)" marker-end="url(#m12)"/>
<path d="M239.6 154.5H408.6" stroke="#2f7ebc" stroke-width="1.5"/>
<rect x="38.2" y="209.5" width="169.1" height="162.6" fill="#fff"/>
<path d="M63.4 209.5V372.1M93.4 209.5V372.1M123.4 209.5V372.1M153.4 209.5V372.1M183.4 209.5V372.1M38.2 364.9H207.3M38.2 344.8H207.3M38.2 324.6H207.3M38.2 304.4H207.3M38.2 284.3H207.3M38.2 264.1H207.3M38.2 244.0H207.3M38.2 223.8H207.3" stroke="#cccccc" stroke-width="0.9" fill="none"/>
<text x="63.4" y="384.4" font-size="8.9" text-anchor="middle" fill="#262626" stroke="#262626" stroke-width="0.11" textLength="10.9" lengthAdjust="spacingAndGlyphs">−2</text>
<text x="93.4" y="384.4" font-size="8.9" text-anchor="middle" fill="#262626" stroke="#262626" stroke-width="0.11" textLength="11.0" lengthAdjust="spacingAndGlyphs">−1</text>
<text x="123.4" y="384.4" font-size="8.9" text-anchor="middle" fill="#262626" stroke="#262626" stroke-width="0.11" textLength="4.3" lengthAdjust="spacingAndGlyphs">0</text>
<text x="153.4" y="384.4" font-size="8.9" text-anchor="middle" fill="#262626" stroke="#262626" stroke-width="0.11" textLength="3.7" lengthAdjust="spacingAndGlyphs">1</text>
<text x="183.4" y="384.4" font-size="8.9" text-anchor="middle" fill="#262626" stroke="#262626" stroke-width="0.11" textLength="4.0" lengthAdjust="spacingAndGlyphs">2</text>
<text x="32.4" y="368.2" font-size="8.9" text-anchor="end" fill="#262626" stroke="#262626" stroke-width="0.11" textLength="4.2" lengthAdjust="spacingAndGlyphs">0</text>
<text x="32.4" y="348.1" font-size="8.9" text-anchor="end" fill="#262626" stroke="#262626" stroke-width="0.11" textLength="9.2" lengthAdjust="spacingAndGlyphs">10</text>
<text x="32.4" y="327.9" font-size="8.9" text-anchor="end" fill="#262626" stroke="#262626" stroke-width="0.11" textLength="9.5" lengthAdjust="spacingAndGlyphs">20</text>
<text x="32.4" y="307.8" font-size="8.9" text-anchor="end" fill="#262626" stroke="#262626" stroke-width="0.11" textLength="9.5" lengthAdjust="spacingAndGlyphs">30</text>
<text x="32.4" y="287.6" font-size="8.9" text-anchor="end" fill="#262626" stroke="#262626" stroke-width="0.11" textLength="9.7" lengthAdjust="spacingAndGlyphs">40</text>
<text x="32.4" y="267.4" font-size="8.9" text-anchor="end" fill="#262626" stroke="#262626" stroke-width="0.11" textLength="9.5" lengthAdjust="spacingAndGlyphs">50</text>
<text x="32.4" y="247.3" font-size="8.9" text-anchor="end" fill="#262626" stroke="#262626" stroke-width="0.11" textLength="9.5" lengthAdjust="spacingAndGlyphs">60</text>
<text x="32.4" y="227.1" font-size="8.9" text-anchor="end" fill="#262626" stroke="#262626" stroke-width="0.11" textLength="9.4" lengthAdjust="spacingAndGlyphs">70</text>
<text x="122.8" y="204.5" font-size="9.65" text-anchor="middle" fill="#262626" stroke="#262626" stroke-width="0.12" textLength="99.2" lengthAdjust="spacingAndGlyphs">barcode MPRAnalyze</text>
<marker id="m13" markerUnits="userSpaceOnUse" markerWidth="4" markerHeight="4" viewBox="-2 -2 4 4" refX="0" refY="0" overflow="visible"><circle r="1.1" fill="#a782c9" stroke="#fff" stroke-width="0.25"/></marker>
<polyline points="66.1,318.7 56.2,316.2 64.3,294.8 69.4,306.1 65.3,290.4 64.8,289.0 86.5,339.2 68.9,311.0 76.4,324.5 83.7,345.4 84.6,335.8 69.8,325.5 68.1,286.6 78.4,314.9 68.1,319.8 74.9,317.0 66.0,329.9 69.9,313.4 73.5,318.1 79.3,345.6 62.4,326.0 63.5,256.5 65.0,305.2 70.7,318.2 67.9,304.6 79.7,333.8 77.0,314.8 68.0,300.8 76.2,345.1 76.6,329.5 73.4,323.6 71.4,321.5 80.3,325.6 69.1,311.6 64.3,298.3 69.8,310.3 59.1,298.2 69.8,297.8 72.7,327.0 76.7,311.6 74.8,323.1 68.4,304.7 72.0,322.6 63.9,319.7 64.2,286.2 71.7,319.6 85.7,344.1 70.9,314.3 71.3,311.1 75.5,325.4 66.0,315.1 67.2,298.3 70.8,325.6 63.6,319.7 64.9,328.9 71.9,310.5 77.5,318.6 82.2,332.7 65.5,319.1 68.7,283.9 89.2,346.6 76.6,340.9 70.0,310.4 87.3,340.9 64.5,281.7 85.9,342.7 76.3,339.5 70.2,325.4 69.4,297.2 65.6,302.1 67.5,306.2 68.2,311.0 61.5,293.3 89.8,348.5 67.1,311.4 63.9,291.0 74.4,335.2 67.9,310.6 61.9,294.6 68.7,294.1 68.1,318.7 66.6,283.3 62.5,307.3 61.6,297.3 72.1,335.3 74.4,329.7 66.2,329.7 66.9,285.0 83.3,348.8 70.5,302.2 66.4,313.7 75.6,323.3 65.4,321.7 61.2,294.9 87.5,350.1 69.1,325.7 70.2,297.4 63.2,302.8 77.5,332.5 66.3,321.3 73.4,342.3 70.4,292.2 70.3,323.8 69.0,293.8 67.1,302.1 65.7,331.9 72.0,318.8 71.9,304.8 73.8,308.4 70.3,289.3 67.3,296.5 66.9,310.4 66.9,304.0 66.7,328.7 76.2,326.7 70.3,305.5 69.2,310.2 73.0,335.6 73.0,317.5 70.6,330.2 78.7,325.9 63.0,293.4 72.3,332.7 70.8,327.6 61.6,306.1 63.9,314.8 66.7,313.1 69.6,341.5 79.9,316.5 73.0,322.6 75.0,330.3 67.3,325.9 71.6,321.2 66.1,301.2 64.5,283.0 60.6,314.0 64.5,289.9 58.4,314.0 79.6,342.0 64.0,314.9 63.0,293.4 63.9,291.3 78.5,331.4 67.0,276.7 73.0,328.9 67.1,328.8 79.7,325.1 60.1,290.5 64.1,308.9 65.0,299.9 65.3,316.8 76.7,317.8 68.3,303.6 77.2,324.1 64.3,294.9 77.2,327.9 78.7,340.3 81.4,344.6 66.4,293.6 68.1,302.5 76.1,329.5 64.7,296.4 61.8,318.8 67.9,317.9 68.5,341.4 70.2,325.4 64.0,313.9 72.2,312.2 57.3,325.6 74.3,298.3 63.7,290.5 64.7,329.9 69.2,308.7 82.7,342.5 69.1,308.5 85.9,332.6 65.2,318.4 69.5,312.7 70.9,319.9 62.8,297.4 74.5,329.3 78.0,323.9 62.6,310.0 71.4,316.3 72.9,311.2 73.4,319.3 64.6,329.8 67.8,304.0 66.4,314.3 71.3,299.9 64.6,292.3 81.2,321.8 66.1,328.6 73.9,323.6 67.5,327.0 91.5,350.4 69.4,286.9 62.0,308.4 65.7,274.8 71.5,325.4 58.5,305.2 61.8,310.8 69.7,316.8 68.0,298.4 66.8,315.5 70.8,316.9 69.6,312.7 74.1,328.1 66.3,328.4 64.9,286.7 69.2,305.3 59.3,301.8 73.9,304.5 77.6,318.9 65.0,286.7 81.1,319.1 75.8,340.2 61.9,304.5 62.9,294.9 64.4,313.7 76.8,309.1 66.0,298.7 64.5,288.8 68.3,305.3 69.3,286.1 68.2,310.4 63.0,278.9 80.1,339.5 71.3,298.9 66.2,310.4 75.7,313.4 79.3,337.8 64.9,296.7 72.4,318.8 84.9,332.8 70.8,326.5 77.4,319.5 71.3,313.6 74.8,331.3 74.4,331.5 71.2,308.2 72.5,316.7 65.2,281.1 74.5,322.8 62.2,302.4 62.4,285.0 64.5,318.9 64.3,298.2 66.1,310.1 66.6,314.5 66.2,287.4 70.1,332.7 70.6,326.0 86.3,346.3 78.4,317.5 66.0,298.3 76.5,319.9 72.3,301.1 67.3,328.7 66.4,295.5 63.8,317.4 69.2,323.8 65.8,286.9 62.1,315.6 69.2,305.5 67.4,313.3 65.2,303.2 71.0,313.3 73.2,336.4 58.3,310.5 66.9,307.1 63.2,308.7 68.9,319.4 61.1,283.9 67.6,328.1 62.7,313.3 60.9,311.8 71.8,334.3 73.2,336.2 66.5,303.9 81.4,303.7 64.8,313.0 74.7,343.4 73.3,320.5 61.0,311.3 62.1,304.6 64.0,294.8 67.0,307.5 66.1,298.7 65.2,286.6 65.2,298.2 76.9,323.1 70.9,307.1 64.8,311.8 74.0,333.3 66.9,331.2 70.2,307.9 68.6,318.6 75.0,302.8 67.1,322.2 67.8,278.2 65.2,319.9 59.6,279.4 68.1,328.7 68.2,305.8 69.5,295.9 74.1,338.3 79.4,332.3 64.1,308.5 63.4,295.6 63.9,291.8 74.7,305.9 66.3,297.3 78.0,335.8 62.9,322.9 65.4,290.5 73.1,325.2 78.6,319.7 79.2,345.8 66.0,318.9 77.3,343.2 63.5,309.3 67.0,290.0 62.9,310.1 74.6,312.7 71.0,322.5 62.0,306.1 72.9,334.9 63.8,323.6 60.3,278.1 83.3,338.3 76.3,325.5 74.7,339.9 63.5,294.3 78.4,319.8 74.4,337.8 78.6,337.5 67.5,296.4 65.3,304.0 65.2,301.9 67.3,316.8 66.4,300.1 59.3,292.9 66.5,304.2 81.9,343.6 80.7,350.0 81.7,341.2 62.4,311.2 69.1,341.9 66.5,334.7 69.1,315.3 76.6,331.2 76.0,338.2 59.5,299.3 65.8,307.4 70.2,302.3 65.6,300.0 59.7,291.0 71.4,316.8 68.7,319.4 82.4,346.7 70.4,320.4 74.9,326.6 65.1,298.0 61.6,304.5 64.4,290.6 66.0,297.3 69.9,295.6 60.3,307.1 67.4,313.9 66.2,323.0 70.3,316.7 72.0,332.9 50.5,309.6 74.3,317.8 85.9,351.8 66.8,329.1 63.3,324.6 64.8,321.7 60.2,294.0 71.4,327.4 78.8,338.6 66.5,309.9 67.2,299.1 61.8,287.9 78.4,334.2 69.6,321.0 73.4,324.0 66.8,290.3 64.5,304.4 75.3,316.2 70.0,304.0 68.6,322.8 79.2,320.1 77.9,317.2 63.4,325.3 58.3,321.0 63.8,310.5 70.1,312.5 68.0,290.9 69.0,301.7 69.2,318.0 84.5,342.4 75.3,325.5 68.6,323.4 79.5,339.5 76.5,323.3 65.0,314.8 69.0,327.8 65.3,319.3 77.2,318.5 76.2,329.1 78.4,331.8 67.7,319.1 67.5,312.3 81.9,335.0 87.6,352.3 81.0,333.5 66.6,308.2 81.9,344.9 68.4,301.0 76.6,327.1 77.7,314.8 71.5,330.4 75.1,307.0 64.9,316.2 62.7,310.6 79.5,350.7 70.4,304.6 88.4,346.2 64.5,322.9 65.1,308.1 68.8,320.4 58.7,308.5 68.7,314.2 70.3,315.5 71.2,331.1 61.4,299.8 66.1,297.7 75.1,326.4 67.6,332.6 67.6,313.6 76.1,330.2 53.7,314.8 67.7,303.1 74.9,305.7 60.4,291.7 73.7,309.2 74.7,335.1 77.3,331.9 65.9,308.0 60.9,284.3 62.0,323.3 86.7,332.9 60.2,293.2 68.4,319.3 73.4,305.2 67.0,298.6 76.4,334.1 60.4,323.3 68.8,326.7 59.9,308.1 57.7,306.0 73.7,325.7 70.9,307.6 80.9,347.8 64.0,311.2 69.7,311.3 73.8,317.2 75.9,342.1 75.9,318.9 80.9,335.6 65.0,292.4 64.8,322.2 73.3,320.8 73.4,319.1 75.8,308.0 65.7,315.9 74.9,308.1 73.2,333.1 67.9,298.4 71.1,325.6 66.8,304.3 75.8,313.2 62.8,298.9 74.0,318.5 79.4,342.4 77.1,336.9 66.6,321.1 65.9,293.6 60.8,324.4 67.6,316.3 69.4,295.8 76.5,326.8 59.1,312.0 61.9,312.4 70.1,327.5 78.0,313.3 64.0,299.4 65.8,299.4 69.6,322.9 64.1,267.6 62.6,311.3 72.0,321.9 75.4,329.5 80.7,334.0 62.1,303.3 74.8,319.8 87.9,340.6 74.3,320.1 73.1,317.8 68.0,339.5 82.2,334.0 73.0,295.6 78.5,326.6 72.0,317.3 75.3,322.6 80.3,303.1 62.6,296.5 64.3,301.6 72.5,307.8 68.1,307.7 67.6,337.4 66.2,295.0 74.0,326.8 69.8,332.4 73.2,323.6 74.9,330.8 57.6,310.2 69.0,304.9 73.9,295.4 79.1,318.8 66.3,327.4 63.6,322.0 77.8,337.2 74.5,329.8 60.4,283.2 69.5,330.4 78.9,325.1 67.9,306.5 73.5,312.9 66.2,304.2 79.7,332.0 73.8,335.4 63.3,294.8 67.6,328.8 59.5,318.9 66.1,313.6 79.4,348.7 67.7,320.5 73.3,328.3 67.7,308.3 72.9,322.5 64.4,303.8 71.0,324.2 79.0,329.1 71.5,327.7 69.5,317.5 54.9,301.0 68.7,332.1 78.2,327.7 62.2,304.6 61.2,308.6 71.2,305.0 61.0,311.6 75.8,321.4 71.2,325.6 68.3,325.3 56.6,301.8 69.8,291.8 58.9,283.5 70.1,335.0 74.6,321.3 62.5,317.2 72.8,320.0 76.8,336.5 63.3,280.1 61.1,291.5 66.5,320.0 73.0,325.0 64.0,317.4 80.7,337.8 72.2,323.0 68.9,304.0 65.4,289.0 68.7,302.0 66.8,295.1 80.3,335.2 66.6,293.7 70.0,314.1 64.7,318.6 58.9,288.6 75.5,333.7 80.0,333.5 68.1,329.9 59.3,289.5 63.5,301.0 85.0,347.7 67.5,288.8 67.4,317.0 60.7,309.9 73.0,330.4 66.2,285.0 66.7,309.7 69.2,294.6 73.2,334.3 70.7,305.2 77.5,315.6 65.0,321.1 69.2,331.2 76.2,329.2 92.1,337.3 75.3,328.6 69.2,317.6 73.4,307.2 81.0,344.0 68.2,335.0 67.2,327.8 87.7,345.4 61.6,322.2 62.9,321.8 74.6,320.5 67.9,310.1 71.4,301.0 61.2,303.4 63.8,312.4 64.8,307.0 67.1,330.9 74.0,333.4 65.6,306.1 71.1,307.5 63.8,279.4 68.2,321.1 78.1,334.2 73.6,312.2 77.1,325.0 76.1,332.6 63.7,293.7 62.8,284.0 60.2,310.8 72.9,328.5 67.7,312.8 78.3,318.1 80.7,341.2 69.7,302.8 74.4,311.2 57.9,295.5 68.6,326.8 68.0,317.5 70.4,319.2 78.9,346.9 65.8,273.8 81.5,336.9 73.7,323.3 84.3,344.2 61.1,309.9 77.7,325.2 65.5,315.8 57.8,313.1 69.4,315.8 70.9,315.4 66.2,319.7 58.0,309.7 60.7,303.0 69.6,321.5 57.8,324.7 76.7,323.9 72.9,311.7 70.0,323.4 76.8,323.6 80.2,343.1 60.9,283.5 81.0,338.3 66.3,287.8 61.8,303.1 59.6,299.1 62.4,312.3 72.9,308.3 65.9,311.8 80.9,306.5 63.0,302.2 66.9,290.3 77.1,334.0 65.6,308.2 67.4,288.6 61.8,292.5 75.5,334.5 61.1,311.2 55.8,311.8 68.1,312.3 60.7,301.5 76.6,344.6 65.5,278.4 65.6,305.1 71.6,318.2 75.1,305.5 69.2,314.0 74.2,325.8 63.0,318.1 71.7,310.4 77.9,330.5 61.2,303.9 68.2,296.9 66.9,297.6 64.5,295.8 65.5,293.6 78.0,304.0 62.7,293.4 66.8,315.2 67.4,309.1 64.3,291.4 59.0,282.3 74.2,322.4 84.1,341.7 68.5,278.7 63.1,296.0 60.5,284.2 68.8,300.4 62.1,312.0 72.2,327.4 72.9,333.1 65.5,290.7 63.8,298.9 71.0,310.6 72.1,335.8 84.5,325.4 76.4,327.1 67.1,321.5 62.5,312.2 64.0,288.7 69.2,325.8 64.3,315.7 75.0,311.3 80.3,333.8 61.1,308.6 76.4,330.5 71.3,323.9 71.7,311.7 65.6,317.1 79.9,314.5 75.0,332.4 75.8,303.3 74.0,335.3 72.2,301.2 70.9,324.7 85.3,337.1 68.4,317.7 70.8,334.8 65.9,325.5 66.3,318.8 69.0,302.3 67.9,302.1 67.4,307.7 76.1,321.2 87.8,343.1 64.7,320.1 76.0,321.8 82.1,318.5 68.4,325.5 68.6,325.4 68.0,301.9 80.0,339.7 66.0,316.0 65.0,293.9 81.7,329.8 79.9,333.6 65.8,320.1 61.5,322.2 61.6,311.5 65.7,292.2 65.4,318.4 62.3,306.3 75.9,326.4 70.0,324.8 65.3,311.0 73.6,328.0 71.1,294.9 72.8,323.3 73.5,319.0 76.3,334.6 79.6,323.9 69.4,333.9 65.5,324.8 81.8,347.7 80.0,316.4 68.9,285.2 80.8,349.5 62.9,285.4 72.6,318.3 66.3,300.5 80.1,334.1 62.7,280.2 68.3,335.3 72.7,317.6 68.8,288.6 71.5,338.9 59.2,317.5 70.7,329.9 65.9,333.6 76.9,332.5 75.6,342.3 67.6,291.3 64.0,294.5 80.1,340.6 73.1,318.2 70.4,324.5 61.4,296.6 78.8,331.2 59.8,287.3 76.6,316.2 70.2,330.4 66.7,317.9 74.3,326.7 64.9,275.9 71.0,313.7 63.7,324.9 63.8,314.6 66.0,289.9 77.2,333.6 82.7,346.5 70.0,292.8 65.7,305.3 76.5,324.4 75.3,317.8 67.0,296.5 64.5,293.5 74.0,319.5 68.6,304.2 72.7,317.3 61.9,260.8 74.9,327.5 72.1,296.6 67.3,315.7 66.9,302.2 80.7,344.2 73.3,314.7 57.0,298.1 71.7,295.0 75.5,328.8 66.0,310.2 81.5,341.9 67.7,284.9 74.2,326.8 67.8,293.4 77.0,321.3 71.8,322.4 66.9,287.1 82.2,332.2 67.3,293.1 67.7,322.9 78.6,332.3 84.8,331.6 64.3,296.1 72.0,317.9 73.4,322.9 85.1,343.8 63.8,295.2 65.6,297.5 77.9,310.6 69.5,302.4 68.7,326.1 72.5,313.6 68.9,314.6 80.5,326.8 59.3,312.2 73.7,329.8 78.0,328.4 73.0,339.1 64.4,314.0 75.6,329.6 72.1,325.7 64.0,291.4 71.1,317.3 61.9,317.2 78.4,344.4 81.3,326.0 63.1,298.7 69.0,306.5 68.6,315.6 74.8,319.7 70.6,315.3 69.2,309.3 77.2,322.4 65.0,280.9 58.7,295.9 66.5,319.3 70.0,291.0 84.1,340.2 64.4,293.2 59.7,313.1 62.9,300.4 82.2,322.8 74.8,313.8 72.8,305.9 59.0,297.5 59.9,307.2 63.9,308.5 65.2,327.3 64.7,285.4 62.2,312.8 72.9,320.6 69.8,322.4 75.7,338.4 76.7,329.9 83.5,344.2 68.8,312.9 67.7,318.0 67.7,312.6 70.1,339.2 61.0,324.2 69.0,328.2 66.4,298.6 88.6,343.6 83.3,344.1 61.5,293.3 64.6,310.0 77.2,345.0 65.0,292.1 64.5,289.5 65.4,295.9 70.0,314.4 79.9,332.2 74.3,321.4 77.8,345.2 66.8,285.1 67.5,329.1 69.7,311.5 66.7,302.0 74.9,305.4 66.5,309.1 70.8,323.7 66.5,312.6 75.0,320.6 67.1,298.4 71.2,328.0 76.5,326.0 82.6,324.1 87.2,341.8 85.2,338.6 82.9,349.3 66.5,308.1 66.1,295.2 59.8,315.2 85.7,337.4 59.9,292.9 73.1,322.4 77.7,345.5 86.7,350.7 72.7,313.3 66.8,290.4 66.7,323.6 69.2,328.1 75.7,321.6 74.2,332.0 72.8,326.5 72.9,312.0 59.9,329.8 67.1,299.7 82.1,334.4 75.0,303.8 71.0,310.4 67.5,323.6 76.0,322.0 81.0,322.5 62.5,286.2 70.4,331.3 64.9,295.1 64.1,298.3 60.3,322.8 57.2,287.3 61.0,312.2 65.2,314.3 71.5,316.3 63.8,301.5 72.4,323.9 77.5,320.0 77.5,295.8 74.5,318.8 71.9,335.4 71.7,306.3 69.7,318.2 74.1,326.9 71.7,306.6 77.8,330.6 69.6,334.5 64.6,321.4 71.7,320.1 72.7,315.7 87.9,338.5 66.2,285.5 64.8,304.4 65.9,314.1 64.2,312.5 60.4,299.9 70.1,335.2 64.1,307.5 78.7,338.3 62.6,298.8 72.2,326.4 68.9,320.5 73.6,216.2 62.8,233.1 64.0,245.2 46.0,289.3" fill="none" stroke="none" marker-start="url(#m13)" marker-mid="url(#m13)" marker-end="url(#m13)"/>
<marker id="m14" markerUnits="userSpaceOnUse" markerWidth="4" markerHeight="4" viewBox="-2 -2 4 4" refX="0" refY="0" overflow="visible"><circle r="1.1" fill="#478fc2" stroke="#fff" stroke-width="0.25"/></marker>
<polyline points="172.7,318.3 183.1,321.9 183.9,309.1 183.5,313.9 177.2,309.5 189.7,312.3 178.9,325.1 189.2,311.2 175.7,326.6 179.0,312.1 178.6,329.8 190.9,302.1 175.8,308.0 170.9,340.0 176.8,326.7 182.9,301.8 181.5,307.0 190.5,311.8 178.9,334.4 179.4,326.4 189.1,311.4 191.1,309.0 179.1,314.5 175.1,329.0 185.6,318.4 191.3,323.1 165.8,334.9 173.6,333.8 182.2,328.7 169.7,341.0 190.0,306.0 186.0,300.7 177.1,298.6 176.6,328.2 180.7,327.7 178.4,309.9 183.5,322.7 182.9,319.9 179.5,319.9 171.3,342.9 182.8,291.9 174.1,339.9 167.7,342.3 193.2,300.1 175.1,333.9 191.6,295.4 198.3,308.4 194.6,308.1 180.7,321.2 174.0,339.5 175.2,335.5 185.3,312.7 177.4,316.4 167.8,335.9 177.2,334.7 178.4,329.8 191.7,315.6 196.1,306.7 176.4,298.5 175.8,321.1 189.3,289.2 191.9,301.8 185.7,288.4 178.4,330.0 172.8,304.3 198.2,295.3 163.1,345.8 188.1,298.2 186.6,307.2 179.3,298.3 189.2,311.5 193.3,294.3 180.4,321.9 180.9,323.7 188.7,301.8 190.7,301.8 177.5,338.2 179.7,293.3 179.4,293.8 181.5,296.4 166.0,327.3 177.3,292.3 183.2,305.4 180.7,298.2 177.5,315.4 185.3,322.1 180.8,326.9 183.8,325.3 183.7,298.7 176.8,328.1 175.3,325.3 186.0,308.7 171.3,319.1 175.1,326.0 184.1,320.9 189.7,286.2 184.1,302.8 172.0,332.1 178.7,333.9 176.6,322.5 183.2,310.5 174.2,328.2 196.2,306.9 179.4,339.2 178.8,308.7 178.1,293.6 182.4,315.0 188.2,310.1 192.5,306.6 183.0,312.8 175.1,315.7 186.2,309.5 185.1,312.6 173.4,312.9 183.6,286.9 183.0,296.5 178.8,298.3 180.6,325.6 185.8,323.0 190.7,296.0 172.8,332.9 181.2,296.6 176.8,338.2 183.6,277.2 182.8,292.8 191.3,324.1 166.9,322.6 178.6,315.4 180.0,293.6 184.2,303.8 191.1,319.1 184.5,278.6 182.7,304.8 185.4,307.3 179.6,319.7 186.9,304.3 194.8,268.6 180.0,306.6 167.9,343.8 183.5,310.7 174.4,281.0 188.3,293.6 179.8,323.6 171.5,308.4 171.9,340.4 185.5,303.3 174.1,329.9 185.6,323.8 176.8,324.5 171.8,327.1 189.4,284.8 184.2,288.6 182.1,319.6 173.2,312.8 177.7,285.0 175.7,319.6 179.7,322.3 177.7,329.4 192.5,287.2 193.5,311.6 183.6,314.4 180.1,321.9 186.5,330.5 185.0,297.8 183.5,328.1 177.6,323.7 167.7,344.0 175.0,333.9 176.5,323.6 182.2,323.2 169.5,341.2 179.0,325.4 184.5,317.0 197.8,304.4 170.7,319.5 174.3,338.2 185.0,319.5 182.1,306.9 188.0,314.8 186.2,314.0 185.8,314.5 181.9,303.3 173.0,338.6 178.5,325.1 177.9,308.0 184.0,314.3 171.9,333.4 176.1,319.7 172.4,327.0 189.5,314.4 166.6,343.9 166.6,343.3 176.1,340.1 179.6,317.2 186.5,271.5 183.6,297.6 186.9,293.4 183.9,314.6 173.2,286.9 193.9,308.6 189.2,313.7 176.1,295.8 178.7,336.2 174.3,335.8 185.6,290.2 192.4,299.1 190.0,311.6 186.9,319.0 193.3,317.9 191.4,308.1 175.4,330.0 176.7,301.3 180.8,332.0 175.2,291.3 179.0,320.8 176.0,331.1 177.3,319.9 183.6,331.2 183.8,317.3 162.6,346.6 184.7,323.6 180.5,313.6 192.2,308.2 191.6,321.8 184.0,293.7 166.3,344.7 188.0,318.8 170.0,323.5 175.1,315.1 175.6,319.6 175.8,290.6 182.6,315.0 178.8,331.3 185.0,271.1 182.7,314.3 187.1,317.8 191.1,299.4 185.7,325.5 180.7,319.0 184.7,299.8 181.3,335.9 182.4,323.0 192.6,298.4 182.6,283.3 182.0,316.4 178.4,316.9 184.6,295.8 174.2,341.0 176.8,327.3 187.6,329.0 172.6,322.2 189.8,299.0 177.7,303.3 186.5,292.7 177.4,317.6 185.3,291.5 178.3,330.3 171.0,338.0 176.3,308.9 178.4,314.8 184.6,303.8 187.5,315.1 194.0,293.1 173.8,302.7 186.9,310.5 178.1,321.6 184.6,302.5 180.7,326.7 189.4,298.0 187.1,294.6 184.5,298.2 180.6,337.5 186.2,307.1 184.3,308.4 191.5,299.5 167.0,342.4 174.8,325.5 190.8,316.3 183.8,290.2 170.6,325.5 189.4,299.1 191.0,312.3 181.2,280.7 175.7,309.1 169.0,343.4 183.2,319.8 180.1,310.3 179.6,292.4 187.7,303.1 184.1,319.8 168.1,337.3 176.0,314.3 180.1,317.0 181.3,291.2 185.8,298.4 175.2,339.7 190.3,322.2 186.4,310.0 181.1,332.0 171.9,324.0 180.7,293.7 190.9,301.7 161.9,345.4 192.9,308.6 186.9,312.0 182.3,318.4 183.6,304.8 177.0,304.4 180.7,270.6 180.4,310.7 176.7,327.8 186.3,323.6 178.1,302.0 181.9,280.4 173.5,304.0 185.3,305.2 184.0,310.0 186.0,322.7 194.8,313.4 177.1,336.3 179.2,301.5 185.7,306.3 185.4,311.5 177.8,330.0 175.2,319.4 181.3,324.9 176.3,309.3 180.6,319.8 182.2,308.3 169.1,298.1 188.2,292.1 185.8,332.9 178.9,320.6 173.4,334.1 190.0,292.5 172.2,329.8 184.9,290.7 181.2,323.6 181.3,296.4 179.4,324.3 176.7,318.6 179.7,312.4 187.2,313.0 176.8,317.2 180.8,302.8 180.7,293.4 187.5,299.3 178.2,323.2 160.1,347.5 185.3,312.6 172.0,302.6 172.5,303.6 176.1,336.2 196.0,304.2 176.8,326.3 186.6,292.1 172.1,328.2 178.8,329.4 180.2,326.2 187.6,310.3 173.3,333.0 193.6,274.5 175.5,321.2 192.9,283.5 175.2,319.6 185.3,320.2 185.3,327.2 188.9,328.1 183.5,306.8 175.3,293.3 188.5,312.7 174.6,330.4 176.9,310.8 175.8,328.6 177.7,312.3 166.7,345.6 180.3,325.8 187.2,313.6 185.2,321.7 179.2,319.2 188.7,287.1 191.8,297.6 195.0,287.6 184.9,310.8 182.2,310.5 180.2,283.2 177.5,325.7 184.3,308.7 185.0,312.2 175.4,309.4 181.9,304.0 182.1,312.4 180.9,300.2 175.5,329.6 186.6,305.8 172.4,333.1 187.4,295.5 178.3,297.2 182.8,318.3 174.3,323.6 189.6,315.1 189.0,304.9 177.4,341.4 173.2,332.5 176.7,298.1 174.1,318.5 173.5,337.4 185.9,322.6 166.1,345.8 187.5,312.6 175.0,316.3 190.7,282.3 177.6,337.0 181.0,303.6 164.6,336.1 173.1,333.2 180.8,318.6 185.3,329.9 186.2,282.8 181.9,315.9 186.1,328.3 191.9,274.2 180.2,329.1 183.9,321.6 188.5,318.8 175.2,328.8 187.0,304.5 182.3,294.1 170.3,337.9 182.6,323.7 186.5,321.9 180.4,339.9 176.9,338.5 186.7,321.8 176.7,331.2 174.3,309.8 180.6,300.9 186.0,312.1 180.2,310.3 185.8,331.6 185.4,326.0 183.0,308.6 195.5,305.3 185.8,317.0 194.9,305.9 180.2,319.8 178.4,335.9 182.6,310.0 180.4,322.9 168.2,345.4 196.3,300.7 185.2,308.8 186.4,302.7 175.5,323.8 183.8,289.5 187.6,307.1 177.1,298.4 177.0,326.9 174.8,320.9 186.0,293.0 187.7,315.9 184.7,315.1 183.4,289.4 178.9,295.2 173.4,311.4 185.3,282.1 178.1,341.5 180.7,316.6 179.4,325.1 182.5,289.7 178.8,287.8 185.6,323.8 187.8,312.8 175.7,299.0 176.5,306.2 192.7,310.7 179.4,297.9 185.0,281.4 176.8,313.2 177.3,334.5 177.5,317.2 178.8,315.9 174.7,321.8 196.4,303.1 200.8,302.5 186.0,299.5 188.8,306.9 187.7,310.7 176.7,333.0 180.4,321.2 176.4,330.2 189.5,309.6 174.9,317.2 177.5,315.9 189.0,306.1 173.4,320.3 194.4,296.7 183.1,297.0 178.2,331.5 192.5,292.5 180.7,321.0 179.5,327.7 177.8,320.6 176.7,337.2 188.9,309.3 179.7,294.3 175.0,341.4 190.8,307.8 187.5,305.1 179.8,303.8 190.4,304.1 193.3,307.7 177.7,323.2 173.5,299.8 179.7,309.4 184.7,301.4 192.8,309.8 188.0,319.7 186.5,316.0 180.4,304.7 189.3,297.2 174.5,337.3 166.0,343.4 170.7,324.4 184.1,326.8 173.3,311.8 188.0,320.5 197.9,292.2 179.6,325.9 174.9,327.5 175.5,329.4 177.3,320.4 185.9,312.4 185.4,323.6 174.2,331.2 172.5,338.8 179.4,312.1 185.7,324.8 181.4,332.3 176.5,320.0 182.3,309.6 186.1,280.0 175.2,287.3 175.4,330.7 181.0,323.1 159.6,347.2 186.0,299.7 182.1,318.0 170.7,340.7 184.2,327.0 175.2,324.1 181.3,326.8 183.5,290.1 186.0,323.3 178.8,311.2 188.3,307.2 187.5,312.2 179.2,337.2 187.7,325.4 165.1,342.9 184.1,302.1 181.6,261.7 190.6,298.0 188.6,320.6 164.1,345.7 186.1,300.4 192.5,294.7 176.8,334.4 183.9,299.1 160.3,346.4 171.6,337.4 189.6,312.9 167.7,339.5 186.4,302.3 186.2,290.7 182.9,314.3 189.6,306.8 180.9,287.6 193.4,306.3 182.3,292.6 190.7,290.4 174.0,333.3 186.4,277.3 182.9,294.6 194.2,312.4 178.2,300.7 180.1,309.4 193.4,310.9 180.7,332.1 180.5,321.8 179.6,320.6 177.1,296.0 182.7,306.5 186.7,307.7 189.3,316.7 190.3,293.0 184.6,330.4 187.0,298.3 176.8,321.9 182.3,303.6 193.5,287.3 185.3,300.9 178.6,340.1 172.5,318.6 173.8,334.6 179.2,306.5 186.3,296.8 177.1,318.8 175.9,305.8 181.3,318.1 173.2,281.5 179.7,312.4 186.8,310.7 177.1,304.9 184.4,296.4 179.0,302.6 180.6,315.1 184.6,313.7 187.5,305.8 187.3,304.4 176.7,321.1 187.7,324.5 183.5,318.6 180.2,306.6 187.8,322.3 174.8,333.2 192.1,320.3 184.8,323.0 183.9,304.1 177.7,323.4 176.2,321.6 181.1,282.3 182.7,306.8 184.2,330.5 186.0,293.8 180.6,320.8 180.8,328.5 182.6,303.4 168.8,338.8 173.5,315.6 193.8,304.8 182.9,301.6 188.7,323.6 190.5,323.1 184.2,315.9 189.5,293.6 164.6,345.4 183.9,300.4 185.0,309.3 185.0,290.9 183.0,333.8 184.4,294.6 182.8,329.4 185.3,309.3 184.5,321.2 194.0,315.4 174.2,307.7 192.1,299.6 176.5,325.3 176.9,334.5 182.5,302.3 178.5,320.6 176.6,296.4 169.7,289.9 194.4,318.4 187.3,317.3 178.1,326.8 171.3,314.5 189.0,301.9 194.5,296.1 185.7,314.7 176.1,282.5 177.5,323.4 184.6,314.8 179.8,323.7 186.9,321.9 176.0,319.1 176.2,326.2 167.0,321.6 192.2,309.5 187.8,312.4 175.1,332.3 172.7,305.6 183.0,328.4 175.1,306.4 175.1,313.0 158.5,347.4 170.6,332.1 178.9,297.9 174.0,325.4 185.3,325.6 184.7,321.8 184.0,312.3 180.8,304.3 181.2,319.3 177.7,285.1 182.1,324.1 175.3,322.3 178.9,317.4 186.1,311.4 179.9,289.0 178.8,273.7 187.1,320.1 171.5,317.1 176.1,303.3 175.0,316.3 180.0,299.4 176.2,332.6 164.1,299.5 181.1,305.1 193.7,302.7 190.2,271.2 182.4,330.0 184.0,302.2 185.9,303.0 175.2,330.6 172.7,309.8 180.3,328.9 180.7,334.4 174.1,340.4 181.6,318.1 180.9,332.5 186.5,309.4 171.2,344.1 181.7,302.3 171.7,310.1 181.0,328.7 175.3,341.9 174.3,330.2 175.2,337.9 185.0,321.0 165.2,320.8 195.8,271.4 183.9,324.8 183.1,304.7 177.4,296.5 175.4,291.0 193.0,331.6 182.5,300.4 185.9,318.4 180.4,299.5 182.4,302.0 176.3,339.2 173.8,329.0 178.5,327.6 172.9,338.7 187.6,309.7 183.2,327.9 183.3,304.0 190.9,316.5 178.2,320.4 182.9,283.6 185.3,294.0 173.1,337.8 189.6,290.2 165.9,301.2 174.2,291.2 169.5,306.6 166.9,346.2 185.6,321.2 170.6,339.2 181.1,326.9 174.1,292.2 181.0,313.9 194.1,310.8 188.8,301.6 188.1,330.6 181.7,295.1 191.9,310.7 177.9,331.6 181.5,324.7 183.1,318.9 189.7,303.9 192.8,289.5 181.6,320.1 183.9,318.6 184.6,282.8 185.8,258.2 180.7,282.8 190.7,311.2 185.0,321.0 186.8,302.6 184.3,309.3 175.3,328.6 179.3,290.6 180.4,269.7 174.5,329.5 183.3,328.6 182.5,323.6 168.5,337.0 178.4,300.2 178.6,340.1 195.8,302.8 190.3,307.6 198.6,301.4 170.0,340.9 186.7,312.0 180.0,309.8 199.2,298.9 187.6,308.0 182.2,325.0 187.3,294.3 181.1,290.0 184.8,290.6 167.5,327.9 181.7,305.2 173.1,330.9 187.0,317.7 193.7,301.2 174.4,340.1 181.4,265.1 178.5,292.8 182.7,328.3 178.6,324.7 181.1,315.9 175.7,317.1 176.4,336.2 183.7,317.0 174.8,342.2 174.9,325.6 185.4,282.7 173.9,315.8 182.4,321.5 185.5,286.6 182.2,308.9 191.0,303.4 173.3,324.8 194.9,295.0 183.9,320.5 188.8,299.0 186.9,303.1 181.6,283.7 181.6,296.8 189.3,314.9 176.6,333.5 183.5,320.0 177.7,327.0 190.4,287.2 184.5,322.6 176.0,307.8 197.9,300.0 183.0,331.0 190.6,301.8 175.7,338.3 184.3,310.2 187.7,317.5 203.0,309.0 184.3,307.0 173.9,326.7 184.9,300.1 181.0,323.6 190.4,312.5 178.2,289.1 175.8,331.2 181.6,313.3 191.1,285.9 192.1,292.0 180.6,326.8 185.5,325.8 185.7,304.8 180.2,326.4 168.6,313.3 170.2,339.2 177.5,303.2 170.6,343.5 184.5,312.2 177.8,302.0 179.7,326.7 169.9,342.9 176.3,337.5 182.4,282.4 171.4,337.9 193.1,308.7 181.6,313.7 191.4,296.1 179.9,290.9 183.2,306.5 180.7,315.8 174.8,324.8 186.4,317.9 176.4,297.6 186.3,303.6 170.6,303.3 168.2,344.9 179.0,328.5 185.0,327.1 190.9,324.4 173.3,333.8 184.8,302.3 177.0,295.5 182.9,281.8 180.5,324.1 182.7,316.4 188.7,312.9 186.1,314.8 183.1,329.8 180.4,300.2 181.1,323.3 177.8,303.3 172.7,339.8 163.5,335.6 182.2,314.9 176.7,333.5 181.1,310.1 178.5,321.6 176.4,279.1 172.1,336.7 175.6,329.4 186.1,304.3 186.6,312.5 181.5,306.5 180.5,319.9 187.0,297.4 178.3,308.3 191.0,290.6 182.0,339.2 186.9,310.0 178.8,318.6 186.0,307.3 182.8,331.6 192.9,299.9 168.3,338.8 186.8,298.5 179.7,304.6 161.1,347.3 186.3,307.3 188.1,304.3 167.8,343.7 177.2,315.8 180.3,319.5 164.9,344.1 196.2,305.5 171.8,323.3 188.5,294.8 183.3,315.4 185.1,264.5 176.8,311.3 182.6,282.4 182.1,308.1 179.8,312.9 182.9,304.6 179.3,328.2 177.1,326.2 187.6,284.4 186.2,317.9 173.2,335.3 189.4,305.1 178.6,329.6 179.7,312.9 187.7,293.7 191.5,290.8 183.5,281.1 173.9,292.9 189.6,302.3 191.1,304.2 176.7,308.7 181.9,314.8 187.2,272.7 167.7,315.4 189.4,283.6 186.8,316.1 189.7,291.9 193.8,311.1 174.1,325.2 190.3,285.2 197.9,286.5 167.7,325.2 180.2,315.1 189.0,296.8 179.4,308.1 171.4,311.8 186.6,295.8 175.1,337.3 181.0,284.1 185.9,305.2 182.4,330.0 189.0,314.7 186.9,271.9 175.0,313.4 171.6,340.5 171.7,288.3 177.1,305.8 184.1,313.1 188.0,293.9 180.9,320.0 182.4,314.9 172.6,294.6 175.7,304.7 177.5,295.0 177.7,319.4 181.7,282.0 182.8,338.5 178.4,337.6 177.5,303.4 177.5,318.1 180.3,308.8 179.5,311.8 179.0,315.3 167.6,331.7 192.0,306.8 179.5,223.0 187.6,220.2 180.4,233.1" fill="none" stroke="none" marker-start="url(#m14)" marker-mid="url(#m14)" marker-end="url(#m14)"/>
<marker id="m15" markerUnits="userSpaceOnUse" markerWidth="4" markerHeight="4" viewBox="-2 -2 4 4" refX="0" refY="0" overflow="visible"><circle r="1.1" fill="#dd4e4f" stroke="#fff" stroke-width="0.25"/></marker>
<polyline points="104.8,352.5 104.0,352.7 104.4,354.6 106.1,353.3 101.8,356.3 102.4,354.5 110.9,354.9 107.3,359.8 106.4,350.9 107.5,358.7 106.9,355.7 107.6,357.5 99.8,348.9 110.5,360.4 105.5,351.2 99.8,351.7 102.4,356.8 107.7,354.8 102.8,355.3 102.9,353.7 103.6,355.1 101.6,353.3 106.0,360.1 106.8,357.8 106.7,358.6 98.6,354.6 104.1,357.0 108.9,358.7 107.3,350.0 104.2,357.0 106.7,351.0 100.8,352.0 108.5,357.7 102.9,354.3 105.7,352.6 102.3,350.8 102.0,353.6 97.4,353.4 110.0,357.3 102.0,357.7 99.7,350.9 113.6,359.9 104.6,353.9 103.7,353.3 105.6,356.1 104.0,353.0 99.6,348.9 101.9,349.1 104.7,356.3 103.9,356.2 107.6,356.7 106.4,354.2 103.8,351.9 111.0,358.8 112.5,355.6 112.5,357.1 107.5,357.8 102.0,356.9 104.3,348.3 101.0,348.6 103.8,349.6 102.3,353.9 103.0,346.2 99.2,353.5 107.5,357.6 98.0,352.8 113.3,355.9 104.6,356.4 95.6,354.0 108.2,353.2 108.8,355.6 110.0,355.0 105.2,358.7 106.0,355.1 107.8,352.4 103.5,354.6 106.4,355.6 109.7,360.3 100.9,350.8 112.5,359.2 100.1,352.5 105.6,356.3 104.8,352.0 102.3,351.2 108.7,356.1 102.5,358.5 111.3,358.4 99.2,353.9 100.1,347.7 101.7,352.5 106.7,355.5 100.8,350.0 103.1,355.7 105.1,351.8 111.6,353.6 100.1,351.4 98.6,348.5 103.1,356.2 98.3,352.1 98.7,353.1 103.1,355.9 108.3,356.3 100.4,351.3 103.8,357.3 105.8,356.9 99.7,351.8 112.1,351.5 106.1,349.2 106.5,357.1 105.8,359.8 100.0,350.9 108.7,360.5 102.2,356.4 95.9,355.7 99.0,348.6 101.9,354.8 107.4,359.3 99.2,355.0 102.7,350.1 107.5,359.7 94.1,351.2 100.0,354.5 110.4,358.6 109.7,355.7 99.7,354.7 108.3,359.1 108.2,357.0 104.2,349.6 101.8,353.7 102.9,350.8 102.6,355.0 99.7,357.0 107.2,353.8 107.5,358.3 105.1,353.6 104.2,356.0 101.5,356.0 102.9,355.9 108.8,358.4 97.0,349.9 113.3,360.4 112.7,354.1 103.8,359.5 105.6,351.6 103.0,355.7 106.3,354.2 104.0,353.2 102.8,353.6 107.4,354.2 103.8,353.6 109.2,353.6 107.0,356.6 99.2,356.0 104.2,355.8 106.9,357.5 104.0,356.9 97.3,350.1 114.1,360.1 100.4,348.8 105.9,356.8 96.9,352.6 106.5,354.9 104.2,355.6 107.2,352.9 106.1,348.7 102.0,355.3 101.5,355.0 110.3,356.9 103.9,347.5 102.9,350.6 104.4,350.8 103.0,354.8 103.2,353.2 106.5,357.2 94.6,351.4 108.9,357.0 109.4,357.4 99.4,352.3 101.4,353.4 107.0,356.7 106.3,353.6 110.7,360.8 106.4,358.3 105.6,354.2 102.9,351.7 100.4,355.0 108.3,359.4 104.5,356.7 104.2,350.9 101.7,357.1 100.7,354.0 101.9,353.3 106.3,356.9 113.7,354.8 105.7,357.0 108.5,354.8 105.8,352.6 105.9,350.2 112.3,356.7 105.5,353.2 100.7,355.4 106.1,357.8 112.0,357.7 113.1,355.1 109.4,354.9 114.9,357.6 102.3,345.0 101.1,355.0 103.3,352.5 106.2,355.9 102.8,344.8 108.7,356.2 100.5,354.3 105.9,350.6 102.2,355.1 108.9,358.5 103.1,349.2 105.5,352.5 107.1,355.9 102.7,355.9 104.4,355.9 107.7,354.4 102.3,354.5 102.4,357.1 93.7,353.2 103.7,353.8 105.9,358.8 101.4,350.1 98.8,352.2 106.4,358.2 107.3,358.8 110.0,357.4 100.2,353.7 97.5,350.4 108.0,358.2 109.8,357.8 99.8,353.1 106.5,355.1 104.5,355.2 106.6,355.4 97.8,356.1 100.9,348.7 101.3,351.4 106.1,356.2 99.3,350.4 100.3,348.1 95.0,353.3 103.6,353.9 111.0,356.7 104.8,354.5 104.1,354.2 102.7,350.3 112.0,358.4 109.6,360.8 100.6,356.8 99.2,353.6 102.0,355.7 107.6,357.9 110.8,359.0 101.1,354.5 100.6,344.3 94.9,347.8" fill="none" stroke="none" marker-start="url(#m15)" marker-mid="url(#m15)" marker-end="url(#m15)"/>
<marker id="m16" markerUnits="userSpaceOnUse" markerWidth="4" markerHeight="4" viewBox="-2 -2 4 4" refX="0" refY="0" overflow="visible"><circle r="1.1" fill="#ff9639" stroke="#fff" stroke-width="0.25"/></marker>
<polyline points="137.5,358.6 139.6,352.2 143.4,351.6 140.4,357.8 144.5,352.7 136.6,355.8 133.2,356.9 134.5,355.7 143.1,358.1 136.0,360.0 139.8,357.8 148.9,354.2 139.3,353.9 145.5,352.3 137.1,357.9 143.4,355.3 132.0,360.1 137.2,358.6 144.0,351.8 142.9,355.7 144.1,348.9 142.8,353.0 144.3,356.9 139.5,357.6 147.6,350.8 146.6,351.9 149.0,348.2 141.7,354.1 138.3,358.8 137.6,356.6 145.4,355.4 136.9,360.3 148.2,352.9 152.2,352.0 141.0,358.6 144.3,356.1 136.8,360.0 147.3,351.8 143.2,358.3 136.9,359.1 134.4,358.8 139.5,351.7 147.4,353.1 138.4,359.5 140.5,358.3 135.3,355.5 140.5,354.9 133.5,358.9 141.1,350.7 141.5,353.1 146.8,348.4 138.7,360.7 139.0,352.8 140.4,354.5 138.7,356.2 137.7,359.2 146.2,353.6 137.6,357.0 139.5,350.6 142.9,351.5 145.5,352.1 138.8,354.2 149.5,349.2 145.0,349.0 142.4,351.0 142.9,351.3 145.8,357.9 148.0,350.2 148.5,348.8 139.3,353.8 139.1,353.5 139.4,355.7 149.4,354.6 147.0,356.3 143.9,353.6 139.3,355.8 132.2,360.5 138.5,357.4 145.3,353.8 145.2,354.5 146.8,350.2 141.6,351.9 146.4,350.8 141.8,355.4 147.4,351.6 140.6,357.7 142.6,357.6 145.3,352.2 141.1,354.4 143.2,358.0 140.4,352.0 147.6,350.2 142.2,352.6 143.6,350.7 145.1,352.1 142.2,352.1 135.9,358.0 137.8,356.4 136.3,357.2 137.8,359.1 144.1,354.9 139.4,357.7 136.1,355.3 139.2,358.4 145.8,356.2 142.3,350.1 135.5,358.8 148.2,350.4 143.2,352.6 147.1,355.4 139.8,356.7 137.4,354.2 141.2,356.5 144.0,351.9 142.8,356.3 137.0,357.4 141.7,353.4 145.8,358.0 141.4,353.4 141.6,359.3 136.3,357.2 143.8,354.7 141.0,357.7 147.3,351.9 142.4,355.6 140.3,354.6 143.9,353.3 136.6,355.0 133.0,354.4 137.0,354.1 145.0,357.7 140.1,359.1 140.5,360.1 144.7,355.2 136.5,355.2 137.9,356.0 149.0,348.3 139.1,355.4 139.0,354.8 133.5,360.8 140.0,354.2 137.3,352.1 140.1,358.4 147.3,348.1 144.9,357.2 149.6,354.8 141.0,356.6 145.2,356.6 148.0,352.3 145.3,351.0 137.2,359.1 145.2,357.1 140.3,358.6 141.2,356.1 135.7,359.6 142.2,356.0 146.9,353.9 148.0,349.9 140.0,355.6 143.0,353.3 144.6,352.2 137.9,358.0 142.4,355.0 145.3,348.9 140.0,354.0 149.4,348.0 137.8,359.5 138.6,357.8 151.6,355.2 137.6,358.8 146.3,353.1 138.4,359.2 141.3,354.1 137.3,360.5 142.4,358.2 143.1,354.4 145.5,353.2 146.9,358.6 134.1,360.5 142.7,353.4 139.9,358.8 143.3,353.9 142.0,350.8 141.9,353.1 135.4,360.5 143.7,351.0 144.6,351.4 145.9,357.3 141.9,356.8 144.2,350.4 145.9,354.2 145.8,353.8 140.7,351.5 141.2,353.4 141.8,350.5 144.2,354.7 146.3,354.8 140.9,356.3 148.8,351.0 135.9,359.3 143.0,352.2 140.1,357.3 144.9,351.8 149.7,353.7 138.8,354.2 144.0,356.3 143.0,355.3 144.3,357.4 140.8,350.6 141.6,350.5 149.6,355.4 147.9,355.1 147.4,354.2 143.7,352.1 147.3,354.4 141.1,356.7 137.7,356.0 142.6,354.2 141.4,355.7 137.4,356.5 142.8,350.9 140.7,353.7 146.0,352.0 142.1,358.2 148.1,352.3 147.2,355.1 137.7,356.0 142.0,357.5 143.1,357.3 142.6,356.8 139.1,354.7 130.6,355.4 148.9,348.2 140.4,353.5 146.6,354.3 136.5,355.4 141.3,357.9 138.0,357.9 138.2,353.9 135.1,360.4 146.2,349.5 148.7,349.7 138.0,360.2 148.8,350.9 147.1,351.3 143.0,351.2 142.2,352.8 147.2,349.4 138.3,357.9 134.8,356.7 136.1,353.0 145.9,354.9 136.7,360.0 151.1,352.3 142.6,351.6 146.7,355.8 143.9,353.8 146.0,351.8 140.9,357.0 142.7,358.1 156.4,348.8 159.4,347.8 153.4,349.6" fill="none" stroke="none" marker-start="url(#m16)" marker-mid="url(#m16)" marker-end="url(#m16)"/>
<marker id="m17" markerUnits="userSpaceOnUse" markerWidth="4" markerHeight="4" viewBox="-2 -2 4 4" refX="0" refY="0" overflow="visible"><circle r="1.1" fill="#52b152" stroke="#fff" stroke-width="0.25"/></marker>
<polyline points="135.0,361.2 127.7,363.5 104.0,356.7 128.9,363.7 132.5,362.1 131.6,362.1 112.6,361.9 108.5,360.1 104.3,356.4 111.8,361.0 110.4,360.3 114.0,362.0 106.4,358.6 111.8,360.2 108.7,359.1 113.6,361.2 117.3,363.5 134.4,361.5 138.3,359.7 124.5,364.2 121.8,364.4 120.9,364.3 139.6,359.2 136.9,360.2 126.6,363.8 117.0,362.8 134.3,361.0 139.1,359.0 121.9,364.3 109.8,360.4 122.4,364.3 115.8,362.6 104.1,358.0 127.3,363.8 127.3,364.1 123.1,364.3 107.8,358.5 128.7,363.5 118.1,363.7 115.6,362.5 114.7,362.6 118.8,364.0 123.7,364.5 133.6,361.7 124.0,364.2 104.2,357.2 119.9,363.9 128.6,363.0 118.3,363.1 104.2,357.3 139.4,359.0 123.5,364.5 109.4,360.2 138.9,359.2 105.4,357.5 106.4,358.0 107.9,359.2 111.5,360.4 126.4,364.2 139.7,359.3 118.0,363.0 136.5,359.7 113.0,361.7 115.8,362.5 124.6,364.5 134.1,361.1 129.0,363.3 117.9,363.2 114.1,362.0 117.1,362.7 135.3,360.4 115.5,362.3 109.2,360.0 113.7,361.6 117.3,363.4 138.9,358.9 122.1,364.2 135.5,360.4 137.0,360.1 126.0,364.2 130.6,362.7 108.2,359.3 119.0,363.6 106.6,358.7 108.1,358.7 122.4,364.3 136.2,361.2 106.9,358.3 105.6,357.2 134.3,361.1 120.6,364.0 107.2,359.0 137.2,360.0 123.7,364.5 132.4,362.4 135.9,359.7 108.2,359.2 108.9,359.7 139.1,359.3 114.8,362.5 125.1,364.2 125.1,364.5 111.0,360.8 114.2,362.1 108.5,358.8 120.8,364.4 127.4,363.9 104.3,356.8 134.5,361.3 111.3,361.4 121.9,364.5 105.1,357.9 115.0,362.6 107.4,358.4 125.1,364.2 116.7,362.5 137.8,359.6 108.8,359.2 123.2,364.5 138.7,358.9 114.6,362.0 136.8,360.5 139.9,358.2 107.6,358.2 123.4,364.5 120.4,363.7 120.3,364.2 133.6,361.5 133.8,361.8 113.0,361.5 124.5,364.3 139.8,358.9 112.9,361.0 110.3,360.4 125.1,364.4 118.0,363.5 113.5,362.0 133.6,362.1 138.6,359.0 112.3,361.3 108.7,359.1 119.5,364.0 122.5,364.5 136.2,360.3 139.2,358.9 124.3,364.5 127.6,363.7 123.8,364.4 102.4,356.5 124.3,364.4 128.8,363.3 117.4,362.8 125.0,364.0 117.7,363.7 136.1,359.7 121.1,364.2 124.9,364.4 111.3,360.0 129.2,362.8 120.8,364.1 108.6,359.6 124.0,364.4 111.7,360.7 117.7,362.8 113.9,361.8 123.5,364.4 125.0,364.4 132.6,361.8 123.4,364.4 136.1,360.4 132.7,361.1 104.9,357.4 115.3,362.8 107.5,358.6 137.2,360.6 105.2,357.3 112.9,361.2 124.3,364.3 107.3,359.0 138.1,359.2 115.2,361.7 107.0,358.7 108.2,359.0 117.2,363.6 121.0,364.2 126.3,364.1 106.9,358.6 109.6,360.0 115.4,362.3 106.2,357.9 105.5,358.3 115.1,362.8 117.8,363.1 131.9,362.6 138.7,358.5 109.8,359.7 130.1,362.5 104.6,357.3 111.4,360.2 104.3,357.8 105.7,357.8 109.7,360.0 122.8,364.5 133.0,362.1 136.3,360.0 137.2,359.6 114.3,362.4 135.3,361.0 125.9,364.2 129.7,363.5 128.6,363.4 112.1,361.4 139.8,359.3 116.6,363.1 107.5,358.5 123.1,364.3 125.2,364.4 122.9,364.4 124.6,364.2 139.3,358.5 124.4,364.5 131.3,362.3 131.5,362.7 124.3,364.4 125.4,364.3 136.9,360.1 111.8,361.2 133.4,362.2 117.9,363.3 129.5,363.6 139.7,358.2 117.9,363.8 135.3,361.4 118.0,363.7 112.7,361.3 109.1,359.8 136.3,360.3 139.6,358.5 130.9,362.3 115.2,362.8 138.7,359.2 120.8,364.2 123.5,364.3 136.2,360.5 105.2,356.8 130.6,362.6 119.9,363.7 132.2,361.9 115.3,362.8 109.4,359.9 125.6,364.2 128.6,364.1 116.8,363.4 116.0,362.9 139.3,359.2 109.3,359.9 129.2,363.3 118.4,363.3 140.3,358.2 139.3,358.5 130.6,362.3 123.6,364.5 121.8,364.2 108.7,359.4 125.9,364.3 134.8,360.9 132.8,362.0 116.6,363.2 108.2,360.1 121.3,364.1 104.3,357.3 125.1,364.4 129.2,363.1 102.1,356.6 132.0,361.9 116.9,363.1 124.8,364.2 127.4,363.7 136.2,360.6 140.0,358.4 128.2,363.7 119.9,364.0 130.8,362.5 129.1,363.0 115.3,363.1 137.5,360.0 109.2,359.2 103.1,356.8 109.6,360.3 127.2,363.6 140.6,358.3 118.5,363.5 108.0,359.2 133.2,361.7 138.9,358.2 105.9,358.0 128.3,363.5 123.2,364.5 126.2,363.9 116.5,363.1 114.0,361.8 137.2,361.0 106.0,358.3 130.7,363.3 118.6,363.8 124.3,364.4 137.8,359.2 131.5,362.9 130.7,362.8 121.4,364.2 129.1,363.5 120.2,363.7 119.5,364.0 135.4,360.9 125.1,364.2 133.5,362.0 123.5,364.2 124.3,364.4 131.1,362.5 113.9,362.6 134.8,361.1 125.9,364.0 112.7,361.4 128.5,363.5 135.4,361.2 110.3,361.0 117.1,363.0 124.5,364.5 110.8,361.0 129.6,363.3 134.7,361.4 120.4,364.1 103.1,357.3 115.7,362.5 130.0,362.8 127.4,364.1 122.2,364.4 132.8,362.2 139.9,358.7 122.0,364.3 112.4,361.7 131.1,362.3 110.1,360.1 109.0,359.7 128.6,363.4 113.5,361.4 132.8,361.9 114.3,361.8 121.1,364.2 117.3,363.0 110.3,360.5 111.9,361.6 127.9,363.9 111.9,360.6 130.1,363.1 120.8,364.3 114.5,361.7 134.8,361.1 112.9,361.4 138.0,359.2 124.2,364.4 131.5,362.2 140.7,358.2 120.6,364.2" fill="none" stroke="none" marker-start="url(#m17)" marker-mid="url(#m17)" marker-end="url(#m17)"/>
<path d="M38.2 361.9H207.3" stroke="#2f7ebc" stroke-width="1.5"/>
<rect x="240.6" y="209.8" width="168.0" height="162.6" fill="#fff"/>
<path d="M240.4 209.8V372.4M268.7 209.8V372.4M297.0 209.8V372.4M325.3 209.8V372.4M353.6 209.8V372.4M381.9 209.8V372.4M240.6 364.7H408.6M240.6 342.1H408.6M240.6 319.4H408.6M240.6 296.8H408.6M240.6 274.2H408.6M240.6 251.6H408.6M240.6 228.9H408.6" stroke="#cccccc" stroke-width="0.9" fill="none"/>
<text x="240.4" y="384.7" font-size="8.9" text-anchor="middle" fill="#262626" stroke="#262626" stroke-width="0.11" textLength="11.1" lengthAdjust="spacingAndGlyphs">−3</text>
<text x="268.7" y="384.7" font-size="8.9" text-anchor="middle" fill="#262626" stroke="#262626" stroke-width="0.11" textLength="10.9" lengthAdjust="spacingAndGlyphs">−2</text>
<text x="297.0" y="384.7" font-size="8.9" text-anchor="middle" fill="#262626" stroke="#262626" stroke-width="0.11" textLength="11.0" lengthAdjust="spacingAndGlyphs">−1</text>
<text x="325.3" y="384.7" font-size="8.9" text-anchor="middle" fill="#262626" stroke="#262626" stroke-width="0.11" textLength="4.3" lengthAdjust="spacingAndGlyphs">0</text>
<text x="353.6" y="384.7" font-size="8.9" text-anchor="middle" fill="#262626" stroke="#262626" stroke-width="0.11" textLength="3.7" lengthAdjust="spacingAndGlyphs">1</text>
<text x="381.9" y="384.7" font-size="8.9" text-anchor="middle" fill="#262626" stroke="#262626" stroke-width="0.11" textLength="4.0" lengthAdjust="spacingAndGlyphs">2</text>
<text x="234.8" y="368.0" font-size="8.9" text-anchor="end" fill="#262626" stroke="#262626" stroke-width="0.11" textLength="12.2" lengthAdjust="spacingAndGlyphs">0.0</text>
<text x="234.8" y="345.4" font-size="8.9" text-anchor="end" fill="#262626" stroke="#262626" stroke-width="0.11" textLength="12.0" lengthAdjust="spacingAndGlyphs">2.5</text>
<text x="234.8" y="322.8" font-size="8.9" text-anchor="end" fill="#262626" stroke="#262626" stroke-width="0.11" textLength="12.2" lengthAdjust="spacingAndGlyphs">5.0</text>
<text x="234.8" y="300.1" font-size="8.9" text-anchor="end" fill="#262626" stroke="#262626" stroke-width="0.11" textLength="11.9" lengthAdjust="spacingAndGlyphs">7.5</text>
<text x="234.8" y="277.5" font-size="8.9" text-anchor="end" fill="#262626" stroke="#262626" stroke-width="0.11" textLength="17.2" lengthAdjust="spacingAndGlyphs">10.0</text>
<text x="234.8" y="254.9" font-size="8.9" text-anchor="end" fill="#262626" stroke="#262626" stroke-width="0.11" textLength="17.0" lengthAdjust="spacingAndGlyphs">12.5</text>
<text x="234.8" y="232.2" font-size="8.9" text-anchor="end" fill="#262626" stroke="#262626" stroke-width="0.11" textLength="17.2" lengthAdjust="spacingAndGlyphs">15.0</text>
<text x="324.6" y="204.8" font-size="9.65" text-anchor="middle" fill="#262626" stroke="#262626" stroke-width="0.12" textLength="116.2" lengthAdjust="spacingAndGlyphs">aggregated MPRAnalyze</text>
<marker id="m18" markerUnits="userSpaceOnUse" markerWidth="4" markerHeight="4" viewBox="-2 -2 4 4" refX="0" refY="0" overflow="visible"><circle r="1.1" fill="#a782c9" stroke="#fff" stroke-width="0.25"/></marker>
<polyline points="267.0,272.3 273.1,283.3 274.5,298.7 270.1,270.6 259.2,269.0 265.9,270.2 265.6,249.9 272.6,271.9 267.8,291.9 266.5,231.5 263.8,271.2 266.1,256.2 280.5,269.0 277.6,320.5 269.8,246.5 267.1,295.7 263.2,248.9 274.8,274.4 270.6,289.8 277.8,323.3 271.6,281.7 271.4,293.0 256.9,271.1 275.1,294.9 276.5,256.7 270.6,283.0 269.3,281.2 267.8,230.0 267.5,255.3 261.6,285.4 267.3,264.1 272.4,305.7 275.6,287.6 264.9,275.5 269.0,287.4 270.9,292.9 270.9,258.4 279.7,284.5 273.6,288.9 273.5,284.5 264.6,285.7 275.7,255.3 260.7,265.7 277.6,303.4 271.4,243.8 268.7,249.3 264.7,277.9 273.4,292.7 267.2,271.5 276.9,284.0 255.2,261.1 270.1,272.7 257.7,245.4 272.8,305.9 268.9,284.8 273.4,266.1 264.6,282.3 265.3,280.7 261.1,296.1 265.8,232.0 270.6,275.7 267.6,257.4 265.9,288.2 269.0,281.7 272.4,273.5 268.7,237.7 260.3,243.4 265.6,228.6 264.4,240.3 257.3,241.0 272.8,276.4 272.0,286.4 263.9,244.7 273.0,286.9 270.0,260.8 268.0,284.8 272.3,293.8 268.3,270.7 267.4,290.6 275.0,278.4 261.6,253.7 279.3,276.0 269.4,251.1 268.0,281.3 271.2,264.8 266.4,293.0 266.4,244.5 280.2,314.4 271.5,266.1 268.1,260.4 277.4,326.3 276.1,306.1 275.8,303.7 268.0,273.8 275.7,277.5 269.9,279.1 268.6,259.3 268.6,224.7 267.4,293.2 261.5,264.6 268.7,271.1 271.9,249.4 274.1,316.3 275.9,305.7 276.6,294.5 269.3,294.6 269.3,267.1 269.5,282.0 276.3,314.0 272.9,287.7 273.2,305.8 277.1,288.0 271.8,276.2 272.0,288.6 265.2,246.8 267.0,225.3 275.3,261.8 275.1,304.4 268.4,242.5 266.8,228.6 265.2,276.1 265.6,264.3 272.6,249.4 269.5,268.0 268.5,246.1 274.9,260.7 268.4,285.0 267.9,282.4 277.0,277.4 273.5,286.4 261.9,244.9 269.2,265.5 266.0,276.3 266.5,255.4 268.4,270.6 261.6,250.6 265.1,238.6 278.6,268.6 269.4,284.4 269.0,296.8 270.9,235.4 262.6,264.3 269.3,284.7 276.3,274.3 271.2,295.8 269.4,244.3 268.2,265.9 271.9,279.9 274.9,302.9 266.6,228.3 270.1,269.7 276.1,318.5 261.3,284.2 274.3,272.9 278.7,269.1 274.9,295.0 269.3,248.3 267.3,260.1 271.5,271.4 279.9,286.0 278.6,309.3 267.0,281.9 277.6,276.6 268.1,297.0 266.2,266.2 268.2,255.8 273.4,282.2 269.2,280.8 274.8,272.7 268.9,237.8 274.0,242.7 267.6,306.9 271.0,282.6 267.7,219.3 277.8,279.2 260.4,235.8 268.1,261.8 260.5,246.0 272.4,279.7 266.9,270.5 270.7,260.9 274.9,272.5 274.2,273.4 267.3,242.5 273.1,275.6 280.3,244.7 268.3,284.6 273.0,278.7 266.8,257.1 273.2,261.5 265.3,252.0 272.9,271.3 262.5,272.7 271.4,282.0 282.7,304.9 264.9,280.8 266.2,250.6 274.6,273.5 264.2,267.9 259.1,246.2 263.3,291.2 270.4,264.9 275.9,283.7 268.9,248.6 272.2,302.5 275.6,279.4 270.4,282.7 276.9,279.1 277.8,283.7 266.5,233.2 276.5,276.6 273.6,275.2 271.3,301.9 271.5,299.6 276.0,287.8 265.8,297.2 261.8,261.5 276.2,284.2 280.0,281.5 271.5,275.0 275.9,291.0 264.0,298.3 264.4,286.1 266.9,267.9 268.2,274.4 271.7,289.7 266.2,239.2 269.1,264.5 268.2,258.3 270.3,240.4 276.0,291.1 272.4,252.3 276.5,266.8 268.6,266.0 270.2,303.5 261.9,288.8 261.4,272.0 273.9,273.0 269.7,240.2 270.5,279.8 267.9,267.0 264.1,278.4 261.4,298.9 267.3,279.2 268.3,270.0 258.6,236.2 273.5,246.4 267.1,283.1 272.9,290.5 276.4,272.5 277.7,283.6 266.0,221.2 273.0,254.5 274.4,273.0 270.7,283.0 272.6,293.9 265.4,273.8 277.7,324.9 266.9,279.8 269.2,281.3 268.3,240.5 276.6,308.0 267.6,253.2 268.8,278.8 266.9,255.8 283.8,287.0 267.2,263.4 270.8,254.5 263.7,219.2 271.0,288.3 263.8,274.4 267.0,273.9 274.1,283.9 278.5,273.7 270.5,271.2 273.1,278.7 273.5,307.1 267.2,266.3 271.9,301.6 274.7,273.5 269.4,251.0 269.5,298.0 267.5,274.4 271.9,267.6 268.1,272.6 274.8,281.3 262.5,271.3 272.4,257.7 267.1,292.4 269.5,275.1 278.4,257.0 275.5,283.9 268.8,296.3 267.1,256.0 272.9,257.4 272.6,252.0 269.6,271.9 274.2,284.9 266.3,240.5 257.2,246.1 273.6,255.2 267.9,281.8 272.6,269.2 270.0,289.6 269.7,293.0 265.0,269.7 273.1,265.0 273.0,260.1 276.0,269.4 269.3,229.7 273.0,291.6 266.1,244.6 270.4,279.8 270.5,252.3 259.0,290.3 263.9,226.4 267.3,242.0 275.6,304.2 273.7,244.6 278.1,267.6 265.3,252.8 270.0,271.3 267.2,274.0 267.7,299.5 268.5,280.8 270.3,271.7 275.8,305.5 263.9,291.4 269.0,271.0 264.4,262.0 277.2,280.4 274.6,242.4 268.0,281.6 265.6,258.3 270.5,244.1 275.2,287.1 264.2,247.3 267.6,273.8 272.0,288.3 263.9,237.9 273.1,237.2 270.2,277.2 268.6,248.8 263.5,250.5 275.9,271.2 263.5,225.6 266.0,273.1 267.5,284.2 268.8,270.0 262.4,272.8 266.2,279.5 272.9,276.3 271.0,298.0 269.4,258.0 275.8,298.5 270.1,247.8 273.2,256.2 270.1,278.5 265.6,278.4 278.4,283.9 260.8,270.3 262.7,234.3 263.5,263.6 281.8,279.2 267.7,234.3 275.4,278.6 262.2,277.6 264.0,226.2 270.1,256.5 266.3,245.6 269.3,257.5 271.7,259.2 269.1,256.2 269.0,254.5 267.4,224.8 270.0,294.3 276.4,319.2 274.7,276.0 267.2,300.8 270.7,267.0 275.2,294.8 268.5,269.5 267.9,247.6 279.3,280.8 275.9,285.5 278.7,254.0 279.5,285.8 268.0,271.9 266.2,273.2 269.9,296.8 272.1,250.9 254.8,292.8 268.7,251.7 274.9,262.5 271.2,292.4 271.6,277.5 267.6,252.6 261.6,276.2 269.2,224.9 269.5,290.8 270.1,245.7 272.3,304.5 279.7,275.7 270.4,249.8 275.0,309.8 268.8,264.8 267.2,293.2 273.2,297.9 275.8,285.6 270.3,281.9 259.6,280.8 266.6,282.9 280.0,288.4 276.2,324.6 268.7,242.8 261.9,227.0 266.4,261.2 265.7,276.5 274.6,291.1 272.4,264.9 272.0,264.8 275.6,289.3 267.4,274.4 276.3,255.3 268.1,264.6 274.4,271.8 280.1,268.1 268.0,285.8 271.6,271.9 268.9,269.2 271.2,286.1 271.3,273.2 268.2,251.9 268.4,249.2 276.8,316.1 265.4,300.5 265.3,250.0 266.8,261.9 262.6,261.6 273.0,299.7 267.2,269.3 265.0,258.7 262.6,261.9 266.3,285.8 272.5,282.7 263.1,264.3 273.9,267.0 270.5,243.8 276.1,317.8 262.2,283.1 265.1,245.1 275.9,294.6 267.6,268.6 265.0,241.0 267.5,291.8 271.0,263.9 261.5,230.9 275.9,297.3 274.7,312.0 264.1,248.9 273.2,280.9 255.9,271.9 263.2,269.3 269.3,245.1 277.4,276.8 263.4,250.2 262.4,254.9 269.2,271.0 268.7,248.9 265.5,264.5 265.7,272.8 278.9,312.4 266.7,294.9 263.2,292.1 268.0,279.7 275.8,267.3 273.3,275.6 266.7,223.7 263.8,281.7 270.5,293.5 284.1,270.6 273.1,280.0 275.3,281.2 261.7,251.8 267.1,264.5 265.9,247.5 279.0,293.2 267.5,258.3 269.2,270.7 267.9,284.0 260.0,303.9 275.4,272.8 262.2,295.3 266.1,256.1 261.5,261.6 266.1,261.1 266.2,244.6 272.7,313.3 275.4,258.7 263.3,266.7 267.7,266.7 272.8,281.6 266.6,252.0 268.8,299.0 277.7,258.3 273.1,267.3 264.8,252.0 271.3,279.2 265.8,282.4 270.6,254.9 262.1,267.8 275.8,307.5 270.0,251.5 272.5,294.0 268.4,252.7 270.4,267.3 264.8,259.1 268.5,249.9 273.6,292.5 270.7,257.6 264.8,272.5 272.6,276.6 263.3,271.1 266.5,281.8 265.0,270.4 266.1,266.2 269.7,284.6 271.0,248.4 274.7,269.3 273.0,294.4 265.4,261.7 272.3,260.4 275.8,301.3 265.4,265.2 264.0,279.2 268.4,265.9 279.4,274.9 267.5,263.2 268.3,267.4 277.1,318.9 263.3,269.6 263.7,259.8 268.0,256.2 271.3,245.3 267.5,264.2 265.4,243.8 261.1,253.3 277.8,281.2 264.2,285.8 273.1,244.5 265.4,256.5 277.1,307.9 278.8,293.3 264.5,246.9 272.1,267.9 275.5,307.4 274.9,262.0 266.9,250.5 274.3,257.6 270.0,272.3 264.6,275.4 275.0,282.4 276.3,282.1 269.0,265.6 266.1,218.4 267.5,217.0 278.1,274.8 266.0,302.4 274.9,273.2 279.9,277.2 265.3,276.5 274.7,306.3 269.8,272.8 272.0,284.9 275.7,270.3 265.1,303.8 266.8,270.6 264.6,296.8 269.0,288.8 279.3,285.0 265.0,282.9 267.8,282.8 267.2,283.1 272.2,284.3 268.8,286.1 266.3,283.4 266.0,278.7 266.7,231.8 263.1,252.1 258.4,283.9 276.5,300.1 268.6,247.5 266.4,271.6 268.2,264.0 271.0,246.9 270.9,311.4 270.3,284.1 266.5,267.4 272.4,242.0 257.2,273.1 262.1,269.7 276.6,272.1 263.4,272.2 265.2,268.1 264.2,283.4 259.1,286.3 269.4,279.3 271.7,258.2 269.3,246.8 262.9,268.6 267.0,277.0 274.5,245.5 267.8,259.6 264.3,255.8 274.0,273.9 268.4,280.1 259.9,261.0 265.2,274.6 271.7,246.7 269.7,289.8 268.5,264.4 272.6,270.9 267.0,292.6 262.3,278.7 270.6,293.3 266.6,278.7 269.6,276.9 265.1,215.7 267.1,293.1 262.1,257.7 271.3,280.9 278.3,263.6 263.6,278.4 275.9,288.1 270.3,241.3 265.4,247.8 269.0,307.8 272.2,274.3 268.1,278.7 270.9,304.7 266.8,267.7 277.7,260.6 261.0,270.2 270.9,261.6 273.9,234.2 270.8,280.7 276.4,245.0 266.8,225.5 270.5,276.0 270.8,242.8 265.5,264.1 270.3,284.0 269.9,241.2 265.5,252.5 274.0,304.8 273.2,253.9 263.8,274.9 268.6,266.9 272.8,295.8 265.4,259.7 274.3,267.6 276.5,290.8 267.1,278.1 268.7,241.2 265.3,238.9 271.0,302.4 271.1,260.4 269.1,277.3 271.0,281.8 267.0,265.8 272.1,239.1 273.1,259.4 267.8,291.1 272.3,269.8 281.5,261.6 266.3,247.6 276.6,272.4 282.8,268.0 268.2,266.0 272.4,257.2 266.1,310.3 273.1,241.7 272.3,264.1 273.8,270.6 271.9,293.7 274.0,265.3 270.5,229.3 273.8,283.3 271.2,305.0 268.3,261.6 269.7,270.2 268.5,271.8 268.2,302.8 263.0,262.0 268.3,257.4 264.8,267.5 267.0,254.8 264.7,289.7 271.1,315.7 267.3,268.9 266.3,225.8 279.6,263.2 266.6,223.4 274.2,263.7 272.3,275.4 272.0,287.2 266.7,241.0 274.3,298.8 272.9,283.7 263.2,279.6 272.5,264.6 268.5,269.8 264.5,302.0 267.5,295.5 270.0,234.7 274.2,268.9 269.0,270.7 276.1,278.1 273.1,264.8 263.1,286.6 263.8,247.3 270.0,252.7 265.0,270.9 265.8,251.4 271.3,274.2 268.7,279.6 265.4,249.9 262.5,272.7 280.4,287.9 262.6,237.2 267.6,274.6 274.1,261.2 267.3,238.8 266.8,297.5 264.2,277.2 273.2,250.3 273.8,276.9 260.4,280.1 262.7,273.8 273.1,277.0 278.0,277.2 266.4,262.1 274.2,268.7 261.9,234.3 260.9,263.8 263.1,235.3 271.8,267.7 268.1,233.9 273.3,273.3 261.0,244.8 277.7,267.1 266.1,236.4 283.4,287.0 271.3,280.2 260.3,262.2 270.5,290.7 264.6,239.6 277.5,274.2 269.8,259.3 273.5,248.8 265.0,257.7 266.7,285.9 271.9,298.4 272.7,305.6 266.1,289.5 273.0,286.2 276.2,287.2 267.2,260.9 268.9,299.1 270.1,304.6 271.9,266.8 266.9,232.9 272.7,290.0 275.3,273.0 267.9,271.7 267.0,247.7 267.1,252.4 277.4,279.9 267.8,251.2 269.6,269.2 267.1,253.6 270.3,232.5 276.0,316.6 265.9,300.5 275.6,299.1 272.9,296.8 275.4,268.5 271.9,268.1 267.2,234.1 263.9,240.9 273.9,264.6 275.9,273.5 264.6,256.7 268.6,261.8 272.3,280.7 268.0,256.3 272.0,281.4 267.6,272.8 266.3,274.1 276.2,283.4 261.9,284.5 272.6,269.5 265.5,273.5 271.1,296.8 265.0,236.0 267.9,235.2 265.2,236.4 269.1,246.3 262.2,273.0 265.5,290.8 270.0,292.3 275.1,307.4 265.5,277.9 280.1,307.2 267.2,268.8 272.9,265.5 261.0,282.4 265.1,282.5 264.3,272.5 263.2,259.3 261.8,278.2 265.8,235.8 266.4,289.8 278.1,284.1 269.6,281.3 271.0,275.5 258.5,266.8 275.8,259.9 277.5,278.1 263.4,238.2 269.6,310.1 265.2,265.8 276.6,270.5 264.9,299.9 266.5,301.3 261.0,269.3 269.2,247.6 273.0,263.2 264.5,273.3 275.5,278.2 270.8,282.0 265.7,280.0 271.2,258.4 273.5,249.4 274.8,260.4 272.8,286.1 275.0,259.9 268.2,250.4 274.4,309.8 277.9,265.3 269.6,283.1 265.1,269.5 265.4,298.3 268.3,293.9 260.0,274.3 265.5,283.4 264.4,282.2 269.7,290.3 262.2,263.0 267.7,249.9 270.6,291.9 273.1,266.7 275.2,281.2 277.1,266.8 267.1,249.1 262.1,266.8 273.6,274.6 272.7,293.8 266.3,248.9 270.6,238.2 280.2,311.7 270.6,260.1 267.6,275.7 272.1,298.4 264.2,236.4 278.4,261.3 263.5,229.0 265.6,288.4 275.2,281.8 270.9,303.1 263.1,270.7 276.3,306.9 275.7,278.7 261.4,248.5 272.0,261.2 272.7,252.3 279.0,269.5 270.8,256.4 273.5,274.6 271.7,298.3 272.4,262.3 278.5,273.5 274.1,288.6 268.1,295.0 267.9,247.2 280.3,306.2 264.6,289.4 266.2,264.8 265.7,259.7 276.0,267.4 268.1,303.5 266.5,249.8 269.4,274.6 274.2,302.6 270.9,249.9 263.9,274.3 269.5,310.2 275.7,327.1 275.6,275.6 269.1,285.4 270.1,266.7 269.4,269.2 263.4,288.4 261.0,263.5 263.5,267.7 280.1,294.2 266.9,256.1 271.9,268.2 264.6,276.1 282.0,265.1 271.0,289.0 263.0,288.7 267.2,274.5 272.3,291.7 271.6,240.9 267.4,267.2 271.7,257.3 268.5,235.2 268.7,242.3 265.8,228.7 272.5,289.8 271.7,238.0 270.0,280.5 268.1,276.2 283.4,267.5 272.9,270.1 272.9,272.2 261.9,265.3 271.8,240.2 271.0,317.0 276.8,301.8 272.7,298.5 266.7,265.5 265.8,269.3 269.8,263.6 266.0,232.4 260.6,270.9 276.2,301.0 261.6,262.6 266.8,234.0 265.6,230.6 277.5,272.8 261.4,268.3 273.9,264.7 270.9,259.1 254.9,274.4 263.0,281.3 265.0,239.3 263.7,239.7 270.5,271.0 272.9,283.5 275.3,284.3 267.5,295.2 273.4,296.9 268.6,277.1 272.8,286.4 268.8,265.7 270.0,282.1 269.0,290.5 272.5,279.5 276.9,323.2 264.2,264.0 259.2,276.5 271.7,243.1 273.8,280.8 269.2,274.7 276.2,290.4 266.8,228.4 268.5,265.8 266.3,246.3 276.2,278.5 277.2,259.4 269.7,291.1 267.2,284.3 275.2,277.8 274.9,290.0 271.5,256.6 262.2,254.3 269.3,247.1 271.6,290.5 268.8,283.7 271.9,272.6 268.0,258.2 273.0,297.8 269.8,277.3 267.1,250.5 278.2,269.8 269.5,274.1 273.9,295.1 274.6,278.8 251.7,242.5 282.9,301.3" fill="none" stroke="none" marker-start="url(#m18)" marker-mid="url(#m18)" marker-end="url(#m18)"/>
<marker id="m19" markerUnits="userSpaceOnUse" markerWidth="4" markerHeight="4" viewBox="-2 -2 4 4" refX="0" refY="0" overflow="visible"><circle r="1.1" fill="#a782c9" stroke="#fff" stroke-width="0.25"/></marker>
<polyline points="269.1,294.9 261.6,273.9 278.3,292.7 266.6,273.5 265.5,301.0 272.9,245.0 271.6,268.9 261.0,302.6 279.9,256.1 255.8,296.2 265.3,308.2 271.8,257.4 267.9,267.6 278.2,288.8 273.3,249.3 246.7,256.4 281.5,264.1 263.9,241.1 268.6,260.7 261.8,234.7 258.4,259.3 274.6,259.6 274.3,278.2 272.7,284.4 262.7,272.4 285.2,280.8 276.8,318.0 273.7,252.5 268.2,223.2 272.4,275.0 282.0,293.1 280.3,283.7 278.6,254.9 271.0,279.6 269.5,247.4 257.8,261.1 270.3,302.4 266.7,300.1 261.1,245.8 268.3,245.6 269.7,268.4 262.3,228.7 252.2,270.4 267.1,276.7 269.0,269.9" fill="none" stroke="none" marker-start="url(#m19)" marker-mid="url(#m19)" marker-end="url(#m19)"/>
<marker id="m20" markerUnits="userSpaceOnUse" markerWidth="4" markerHeight="4" viewBox="-2 -2 4 4" refX="0" refY="0" overflow="visible"><circle r="1.1" fill="#478fc2" stroke="#fff" stroke-width="0.25"/></marker>
<polyline points="383.6,262.2 389.9,288.9 386.4,298.3 386.3,310.1 383.3,269.6 384.1,282.4 386.1,256.3 383.3,301.0 378.6,240.0 377.8,273.7 386.2,274.2 379.9,266.2 379.4,253.9 380.3,251.7 386.3,310.4 373.0,282.1 370.9,259.7 384.9,256.7 383.0,264.6 393.5,289.2 382.4,260.2 376.4,273.5 385.8,269.4 384.9,242.4 386.2,271.8 385.8,259.4 392.2,237.1 381.8,247.3 386.7,297.2 384.6,293.1 374.2,313.8 377.6,246.0 379.3,273.3 382.8,281.5 377.6,271.4 392.0,295.5 383.2,257.0 379.2,289.2 379.6,249.5 384.1,263.7 380.7,270.9 378.0,257.2 377.4,274.9 383.9,270.1 391.2,242.8 373.4,232.3 381.5,257.2 383.4,238.4 380.6,304.3 395.7,266.3 384.8,269.7 374.8,279.7 384.8,257.5 379.6,226.8 387.6,257.8 383.2,244.3 388.1,238.6 379.1,239.7 385.8,267.3 393.4,282.3 382.0,243.6 377.9,249.6 382.2,278.8 384.0,233.1 382.4,287.0 386.7,295.7 390.0,270.0 380.1,297.6 375.5,272.1 379.0,270.0 375.3,281.4 379.6,267.2 383.0,296.4 370.3,318.5 383.3,250.8 382.7,248.4 374.8,249.9 381.5,277.7 374.5,258.7 386.9,276.0 381.5,242.7 386.4,294.5 390.5,262.4 387.3,278.9 382.7,253.2 384.8,267.1 381.7,307.6 383.2,275.7 393.6,290.1 379.8,258.7 382.0,249.9 385.0,294.9 384.7,259.3 387.9,290.8 377.1,279.7 380.3,265.2 382.2,242.1 384.3,258.4 385.9,254.5 385.7,279.2 383.6,271.8 378.0,255.1 376.9,265.1 376.7,265.1 387.1,259.9 388.2,232.4 379.1,238.6 377.1,237.4 380.9,260.0 384.8,285.3 380.8,294.1 381.7,265.2 387.4,290.1 383.7,310.8 380.8,275.0 379.8,219.7 382.2,268.0 388.5,265.1 374.1,269.7 390.9,264.8 384.4,297.3 390.7,262.4 379.1,250.8 378.7,262.5 375.8,261.7 384.2,267.4 383.1,252.4 382.5,293.0 382.2,311.4 385.8,278.9 378.8,268.7 387.3,254.8 374.8,284.5 380.4,264.4 384.9,269.1 381.2,252.4 384.2,278.4 374.5,254.6 380.9,252.0 382.9,274.3 375.5,271.5 386.4,278.3 376.6,283.8 378.8,282.1 376.6,291.8 383.4,252.6 378.6,259.5 386.2,271.1 387.2,266.0 381.0,267.6 384.6,235.7 391.1,249.2 374.2,275.6 373.7,253.4 391.1,304.2 378.5,279.2 399.3,285.2 387.2,261.5 370.8,280.4 388.4,285.6 382.8,284.4 384.0,299.7 387.8,297.3 380.4,289.9 381.1,260.7 383.6,263.0 373.8,252.5 381.7,232.4 383.7,249.0 383.6,308.2 384.3,282.3 382.7,235.9 372.7,265.3 378.3,260.6 372.8,264.1 385.2,298.8 387.9,259.9 384.1,272.1 372.6,290.4 381.0,260.8 385.5,231.8 385.9,272.9 387.6,296.7 387.7,271.7 377.9,288.5 384.9,279.7 384.6,260.8 378.3,289.8 380.3,271.3 382.8,272.2 394.2,279.2 389.3,278.0 383.7,276.3 383.9,275.4 374.9,272.3 383.2,258.3 389.2,280.1 381.7,287.4 385.8,258.8 391.5,284.0 382.2,223.3 375.3,274.9 382.7,226.6 382.5,263.9 397.3,262.8 382.3,250.0 382.6,260.2 389.0,272.2 379.7,276.8 382.2,289.3 383.2,290.1 381.9,251.1 384.2,232.5 383.6,249.3 371.0,276.2 386.8,232.1 381.5,229.0 386.1,245.5 381.0,313.0 386.1,255.6 390.7,295.6 382.2,261.1 381.4,278.8 385.2,261.5 383.2,277.1 393.0,270.0 382.9,306.8 380.4,271.2 395.3,289.4 379.5,247.7 388.4,285.0 380.1,260.7 386.6,257.9 392.3,273.8 392.0,288.5 381.4,267.6 386.8,273.5 389.3,253.9 385.0,290.8 393.6,296.1 391.3,255.7 392.6,265.5 383.2,245.2 384.9,241.5 377.9,311.1 379.0,265.5 386.8,267.7 380.0,269.4 383.4,250.8 379.7,229.0 380.2,275.0 377.4,274.0 385.0,256.9 379.6,254.8 384.7,273.8 386.3,252.4 381.6,241.6 384.4,282.7 393.7,243.9 387.6,288.1 390.4,243.4 392.8,290.7 389.5,289.7 386.7,301.1 375.3,278.2 386.6,272.6 378.7,274.8 376.9,279.7 383.8,277.1 390.7,282.5 387.5,280.2 387.8,268.8 388.7,284.1 388.0,268.6 379.0,295.4 379.2,301.0 383.9,255.5 390.4,289.3 383.7,270.0 380.5,293.9 381.8,304.6 382.1,301.8 381.0,291.4 378.1,244.2 393.5,287.7 384.8,267.3 375.2,280.8 384.9,270.0 386.9,298.7 387.5,248.8 378.4,268.0 374.0,282.4 395.2,255.0 378.6,305.8 376.6,288.0 384.7,264.9 387.7,238.3 389.9,283.4 380.2,233.0 383.3,246.6 380.5,291.5 383.6,261.0 379.8,247.6 397.8,293.2 388.2,239.8 383.3,305.8 382.5,242.1 390.0,247.1 380.5,235.8 381.9,253.5 381.2,265.9 384.2,306.3 389.4,233.4 380.1,257.6 376.9,253.4 378.0,284.2 380.3,261.1 376.8,291.0 377.2,272.4 379.1,259.5 386.6,300.0 384.9,261.8 382.4,288.3 386.4,284.2 383.5,255.2 383.7,303.7 379.4,284.2 388.5,277.0 383.0,249.7 382.8,273.6 381.5,257.3 385.1,295.8 383.7,304.6 377.3,275.3 380.7,237.8 377.2,260.6 368.0,281.4 377.0,285.6 394.7,242.6 374.1,258.1 383.6,303.2 382.2,314.8 382.6,229.7 383.2,268.4 378.3,271.5 379.7,264.0 380.0,273.8 377.5,275.1 383.1,273.3 381.2,315.4 389.1,279.1 393.8,282.1 386.1,248.6 400.0,250.5 385.2,280.2 378.0,274.7 376.1,270.2 384.1,229.0 387.5,248.6 389.8,286.6 383.4,240.3 391.9,292.3 383.6,247.2 381.9,269.6 383.7,297.5 384.9,281.4 387.7,276.0 377.1,248.4 378.5,243.3 388.3,310.1 382.5,282.5 389.3,248.3 387.2,260.8 385.4,260.6 390.0,257.6 382.8,255.2 386.4,243.4 389.0,280.3 389.4,261.3 379.3,285.8 384.1,308.1 392.4,270.8 388.9,288.3 391.7,273.4 383.4,316.8 380.7,260.5 384.2,273.2 391.9,268.0 387.9,288.0 379.9,289.7 385.9,251.3 385.9,258.2 381.5,277.8 382.7,298.4 388.8,261.0 388.6,283.0 377.9,253.7 379.6,287.4 382.4,268.3 384.0,264.4 384.2,284.1 379.4,260.5 386.0,301.9 374.0,243.7 379.8,281.3 384.6,281.4 384.3,276.1 383.8,280.0 386.7,287.5 385.0,268.1 382.8,285.7 393.2,278.7 383.5,268.6 398.8,276.7 375.2,289.6 388.2,255.0 379.1,229.9 375.0,285.2 378.4,253.3 368.1,287.6 381.4,278.1 384.0,295.7 378.8,284.8 382.0,288.6 386.7,274.4 380.8,279.4 386.0,225.2 380.5,291.0 393.5,258.8 383.3,254.2 378.2,310.2 387.1,309.0 384.7,253.3 376.9,297.4 395.2,278.8 382.3,295.2 387.5,277.3 396.9,247.5 381.1,227.8 380.5,285.2 385.3,240.3 371.1,271.7 390.4,276.6 379.5,276.2 392.2,276.6 389.8,304.3 378.0,273.1 377.7,295.9 390.6,264.0 378.5,299.6 383.5,235.6 387.1,295.6 389.3,278.6 383.6,249.1 379.5,260.3 387.4,245.5 385.5,242.1 390.5,277.3 378.7,282.7 392.0,257.6 386.6,260.2 382.2,234.3 379.5,317.5 382.9,249.0 373.9,260.3 380.7,277.5 386.7,288.7 386.4,288.2 386.0,288.1 380.3,236.2 378.4,270.5 381.9,276.9 385.1,269.9 383.1,258.8 385.3,254.7 380.4,271.3 381.0,275.4 381.2,287.8 382.5,271.9 380.8,273.9 384.2,284.3 381.7,277.7 389.6,243.9 379.7,253.8 378.7,264.8 385.3,245.0 393.0,268.2 382.5,245.8 377.4,271.2 386.6,239.5 378.1,259.1 383.9,277.5 383.1,296.5 377.5,267.9 388.3,267.7 386.4,294.4 383.3,275.4 386.0,283.7 377.5,264.9 382.9,298.5 385.8,271.2 385.6,229.4 373.7,249.8 386.5,271.3 378.9,237.6 372.4,278.9 387.6,252.7 389.7,264.1 378.5,280.1 387.9,260.0 383.4,219.5 389.2,289.3 395.5,289.9 387.9,233.9 385.5,284.7 377.8,273.2 380.3,280.6 382.7,286.9 380.4,260.2 386.6,292.5 387.9,293.1 394.5,276.1 389.8,258.9 377.8,239.6 397.7,271.3 383.3,250.7 381.4,240.9 374.2,260.5 384.1,252.4 397.0,275.1 384.3,305.5 386.4,253.7 386.9,295.3 389.3,258.4 380.6,288.6 380.4,296.2 387.9,273.3 389.4,298.2 380.5,269.0 386.6,274.9 389.9,275.5 384.9,237.6 381.3,253.0 396.2,275.9 391.3,252.9 387.4,262.0 383.6,277.8 378.4,299.9 382.2,286.4 383.5,228.2 378.8,269.6 389.3,258.4 378.7,233.5 394.2,286.4 381.4,247.1 380.4,293.1 375.8,318.1 387.0,271.0 390.0,270.3 378.4,286.7 388.4,284.8 381.4,261.8 376.5,259.1 378.1,290.1 391.7,287.9 376.5,266.4 380.8,277.7 384.4,274.4 392.8,277.1 375.3,308.5 384.6,262.6 384.8,265.9 374.7,258.6 381.1,255.4 382.1,231.0 387.5,279.3 382.1,266.2 380.8,240.9 385.4,278.7 388.6,245.5 376.9,281.3 384.6,280.4 383.3,294.2 383.8,273.6 386.0,225.3 381.1,230.5 375.7,268.5 382.4,259.2 376.9,245.4 393.4,293.8 392.1,279.6 378.1,274.6 382.4,311.5 375.1,287.8 383.4,284.2 381.5,277.8 394.8,275.4 386.3,261.1 385.7,281.8 389.7,260.7 381.4,257.9 388.0,274.8 380.8,232.0 381.6,308.3 394.9,272.1 368.3,269.5 385.9,239.8 379.9,273.3 388.7,259.3 379.6,267.1 383.8,226.4 376.6,278.5 390.9,290.8 380.1,282.0 375.8,262.0 369.0,240.0 375.2,299.4 386.4,240.2 377.0,280.5 376.8,287.3 384.4,281.3 383.6,290.6 385.1,294.7 382.2,269.3 395.2,288.1 378.8,233.5 379.8,259.4 382.9,286.7 385.3,234.3 392.7,292.9 383.7,260.2 386.4,235.4 385.7,258.9 401.7,285.1 380.4,275.2 391.5,266.9 383.1,238.9 385.2,268.1 387.2,257.5 391.2,295.5 380.2,269.8 382.6,243.7 378.8,277.4 368.8,281.9 396.4,279.5 384.0,245.8 383.3,259.9 379.2,262.4 383.1,287.2 385.1,310.0 389.6,248.0 386.0,280.8 384.1,252.5 377.7,259.9 380.8,284.1 384.5,295.5 373.3,250.8 374.9,318.0 383.3,236.9 394.0,289.6 374.2,267.3 376.1,247.9 385.6,225.3 371.0,293.7 396.7,275.4 384.4,251.4 389.0,271.7 388.0,289.0 374.3,250.6 386.5,309.0 378.1,249.8 382.8,272.5 384.0,271.6 385.7,286.8 388.6,277.0 383.4,248.4 390.0,266.0 384.8,246.8 380.5,258.7 386.8,280.0 381.7,277.6 388.5,270.5 382.1,281.5 381.7,240.8 389.5,297.1 376.3,233.8 387.2,287.0 381.7,291.2 387.9,272.3 387.4,300.1 379.5,235.0 385.1,235.6 390.3,240.1 381.8,232.8 386.9,244.0 391.5,312.0 373.2,256.9 383.2,287.4 393.2,252.6 383.3,277.8 383.5,281.5 378.7,291.9 368.7,258.9 387.1,247.4 387.9,295.5 390.7,263.4 386.8,261.6 378.3,274.1 373.2,276.0 384.4,245.5 390.0,242.6 385.6,255.4 386.3,256.0 392.7,254.8 381.5,284.3 383.0,273.0 389.2,270.7 382.1,291.9 379.4,254.0 381.7,230.0 385.3,226.7 379.7,276.5 382.3,281.9 386.3,289.2 378.7,256.5 380.9,273.2 384.1,246.0 385.7,295.6 379.5,268.0 381.1,284.8 388.7,265.8 381.4,276.3 381.6,312.2 382.6,253.4 380.2,270.3 387.7,267.8 382.4,273.3 374.7,292.3 392.9,270.8 382.0,254.3 383.7,234.8 385.4,266.7 381.8,283.2 377.7,245.6 378.7,276.0 380.6,276.6 387.6,271.6 381.6,257.9 386.6,298.0 370.8,268.9 378.3,272.5 384.7,280.9 378.7,234.6 387.2,305.9 382.6,272.1 382.0,267.0 378.1,266.8 382.3,238.9 371.9,317.3 389.2,278.8 386.1,290.5 382.6,302.3 378.0,284.5 385.8,262.5 379.2,277.6 386.5,229.0 387.0,304.7 379.6,264.0 382.4,264.7 393.4,268.6 386.6,257.2 389.4,276.5 380.5,260.0 388.2,276.3 376.7,281.5 388.0,290.9 389.4,280.0 382.0,255.1 386.6,281.4 381.2,254.9 382.3,274.7 385.1,270.6 385.0,242.3 385.0,295.9 386.4,272.2 377.8,250.8 375.5,258.0 385.8,262.0 372.6,239.8 374.7,279.8 376.3,267.4 385.7,231.6 387.7,295.1 399.6,257.8 381.6,256.8 381.6,262.6 382.7,260.3 376.3,287.7 389.0,266.2 378.7,272.0 379.1,261.3 384.6,265.9 381.4,229.3 385.5,247.6 385.2,223.3 386.9,247.3 383.2,259.7 378.6,252.9 382.9,240.3 377.9,286.3 376.8,301.2 376.4,299.8 388.3,252.4 376.1,276.3 390.2,275.2 383.1,266.4 381.2,251.7 384.2,277.4 393.4,286.4 376.0,279.6 385.4,252.5 381.1,273.0 377.6,256.0 372.4,247.1 378.4,274.7 378.6,286.7 384.3,295.6 388.9,280.6 386.5,291.6 382.1,265.0 392.8,297.5 380.2,265.7 384.2,278.4 381.3,252.6 387.9,293.2 386.2,267.5 383.1,254.3 386.8,304.1 385.0,262.3 380.4,281.7 389.9,289.7 381.8,302.5 380.3,268.7 388.3,283.0 381.3,278.2 383.4,254.3 396.6,251.1 385.4,221.2 381.0,271.8 381.2,278.9 389.4,272.7 385.1,251.1 381.2,217.4 388.3,288.1 375.0,264.0 391.1,272.2 391.0,274.0 393.2,275.3 372.4,317.7 387.0,263.9 395.8,286.2 386.1,264.3 383.4,281.1 392.2,290.1 377.9,310.1 382.9,240.6 386.5,272.4 381.3,263.0 383.5,237.2 388.5,259.7 388.3,265.3 383.0,245.9 377.1,251.5 376.5,294.9 380.1,303.7 380.9,262.4 379.9,274.4 395.3,239.4 383.4,299.3 383.3,272.2 386.9,256.8 376.7,261.0 381.5,297.6 387.1,301.7 380.3,280.8 386.1,224.6 381.0,288.3 385.6,280.7 390.9,252.0 389.5,260.9 383.9,241.0 385.3,285.6 388.7,285.2 381.3,253.0 378.2,275.8 389.4,271.1 390.8,292.9 386.2,287.5 383.3,287.8 378.2,284.4 381.1,286.2 382.4,277.7 385.8,278.3 387.5,247.6 383.5,232.6 386.5,278.0 378.1,237.0 384.3,260.2 379.7,319.2 380.2,264.9 375.6,301.9 386.7,247.2 392.8,282.1 386.2,236.8 381.2,240.1 387.7,281.4 373.2,291.8 383.6,247.6 380.5,289.7 390.2,272.5 378.2,249.4 395.3,273.4 396.0,255.2 389.6,228.8 389.0,263.1 379.7,255.4 382.8,283.1 389.2,267.1 386.1,270.1 380.3,258.8 382.8,269.6 379.9,283.6 386.7,283.4 383.6,268.8 392.0,289.8 387.8,300.1 381.9,264.9 391.5,271.1 371.6,258.2 376.4,282.1 380.9,273.5 387.7,290.4 394.8,279.0 387.5,252.3 384.4,233.5 384.2,276.6 374.3,260.8 381.2,286.3 389.3,301.9 386.3,282.6 381.0,275.6 384.1,277.1 380.9,287.7 373.6,266.6 382.2,246.0 380.8,282.0 377.1,261.7 382.5,258.0 381.6,248.9 384.3,256.2 383.3,249.0 384.9,268.7 383.3,297.7 380.6,293.6 383.7,279.9 384.5,291.1 389.9,286.6 384.3,274.5 380.2,270.9 388.7,279.1 383.5,262.8 385.9,228.8 396.4,291.3 388.8,282.0 377.8,295.1 378.7,246.0 385.9,251.4 376.2,298.6 381.1,260.0 385.3,300.0 381.0,261.9 379.2,269.7 383.5,268.8 382.5,308.0 380.9,266.0 386.5,266.0 380.2,241.8 382.5,267.3 390.6,270.9 389.2,285.0 383.6,258.4 382.3,252.4 384.7,253.7 384.4,250.5 377.0,273.3 380.6,299.9 389.8,268.1 379.2,238.6 390.7,243.0 388.3,284.3 398.9,256.1 401.7,292.3 370.6,247.0 396.1,228.9 367.8,310.4 362.1,326.7 366.3,324.0 370.6,314.9 361.2,313.1 373.4,329.4 401.7,283.2" fill="none" stroke="none" marker-start="url(#m20)" marker-mid="url(#m20)" marker-end="url(#m20)"/>
<marker id="m21" markerUnits="userSpaceOnUse" markerWidth="4" markerHeight="4" viewBox="-2 -2 4 4" refX="0" refY="0" overflow="visible"><circle r="1.1" fill="#dd4e4f" stroke="#fff" stroke-width="0.25"/></marker>
<polyline points="307.3,333.8 307.7,340.0 304.9,331.6 306.3,322.1 301.2,326.8 304.6,314.5 306.0,326.5 307.9,342.2 305.5,325.2 303.2,322.5 309.5,334.4 316.5,345.7 317.0,343.9 302.9,325.1 312.1,345.4 306.8,308.1 305.4,322.5 314.4,358.3 311.6,348.2 304.6,332.1 311.7,350.7 309.9,335.2 306.2,320.5 303.4,324.1 316.9,348.3 305.8,322.5 312.6,319.1 310.7,343.1 307.8,324.2 310.1,341.8 313.8,351.7 302.3,316.4 301.3,317.1 310.1,346.2 308.8,318.9 313.6,341.7 310.8,328.0 311.7,351.7 313.0,326.2 307.6,318.0 304.0,331.2 305.5,321.9 306.8,328.8 307.0,319.6 304.7,340.8 306.4,341.2 317.6,360.7 312.2,339.5 306.6,337.5 313.3,349.4 309.5,319.0 309.9,337.1 305.3,291.3 299.9,324.9 309.1,344.8 310.3,333.4 306.7,323.0 307.5,318.1 301.7,312.2 302.8,339.6 303.8,319.2 307.0,333.9 305.1,319.9 314.2,334.9 313.7,333.8 308.6,328.4 311.5,342.2 309.7,333.2 306.4,327.7 317.7,358.8 305.8,340.5 313.1,339.9 307.4,319.0 306.7,331.2 302.6,333.4 312.5,343.5 302.5,327.0 305.7,337.4 305.6,319.5 308.9,337.0 308.5,333.8 303.7,324.7 306.7,326.7 317.9,355.0 307.5,330.4 305.2,333.9 315.5,359.2 312.4,350.3 311.7,319.9 309.3,328.4 315.1,339.8 307.7,320.0 318.2,357.5 299.2,313.8 306.1,341.2 305.9,312.2 311.9,338.8 307.1,340.3 305.6,329.0 307.9,336.8 308.5,318.7 303.1,321.8 306.3,337.9 307.1,335.7 305.1,333.1 305.2,308.8 308.3,333.5 309.0,318.6 306.3,333.5 311.0,344.8 314.2,356.1 316.2,329.8 303.7,326.3 310.0,329.7 307.5,315.1 302.5,322.9 307.1,307.4 308.4,324.3 310.4,345.8 300.3,317.2 312.1,348.0 307.1,335.0 312.0,351.2 302.8,320.1 306.9,313.1 312.9,352.3 309.6,345.7 311.9,343.2 318.1,360.0 305.2,335.2 305.7,337.4 317.0,353.2 311.8,354.8 306.2,330.4 317.3,355.6 308.2,334.1 305.2,330.9 306.7,324.3 311.5,335.2 304.8,331.0 305.2,313.4 309.8,342.5 310.3,333.8 306.7,316.2 312.4,350.5 306.4,325.2 316.0,356.8 317.4,356.6 309.5,336.9 305.8,334.3 305.0,308.0 310.4,304.3 310.4,316.1 314.4,336.6 301.4,327.0 317.2,343.6 312.6,341.6 312.8,344.4 307.7,329.4 312.6,341.0 304.5,340.1 308.1,308.5 305.5,338.3 313.7,325.0 308.5,328.0 308.5,339.8 307.2,339.4 305.0,317.4 315.6,340.8 306.7,324.0 310.8,339.4 307.5,338.6 310.6,312.5 315.7,357.8 309.8,343.4 312.2,341.9 304.6,327.5 310.9,343.1 301.5,331.9 300.3,324.0 306.2,305.9 303.1,319.9 315.5,353.1 306.3,309.2 311.2,333.5 314.4,347.2 312.1,330.3 312.5,347.4 309.2,339.1 315.2,346.3 307.2,340.5 302.4,315.8 303.5,332.9 303.3,322.0 312.4,328.2 314.0,335.0 304.0,314.8 300.5,315.4 307.7,338.8 307.2,322.3 315.3,338.7 310.1,340.7 311.0,327.6 311.5,332.7 304.0,335.4 315.3,345.8 313.4,332.4 309.0,324.0 306.5,324.6 314.7,341.6 309.5,327.2 314.5,351.4 309.1,327.6 309.4,307.7 306.4,337.1 312.7,348.2 304.4,319.1 310.3,335.6 309.4,333.8 305.5,326.2 311.1,338.5 306.3,323.8 315.4,343.9 315.0,344.5 307.4,329.8 307.6,327.7 306.6,330.7 303.5,324.5 310.7,334.6 314.4,342.9 299.4,327.2 314.0,355.9 312.9,333.8 311.7,320.3 303.3,325.9 301.9,317.8 304.9,337.2 313.4,337.2 311.3,340.5 310.5,340.7 304.4,330.8 309.0,319.9 307.2,334.2 309.9,311.7 306.3,327.0 310.1,324.4 312.3,340.2 308.8,332.2 311.0,343.8 316.2,341.0 308.2,304.6 302.5,318.9 315.7,338.4 308.4,344.0 312.1,338.7 313.4,342.1 306.9,324.7 302.3,317.3 313.8,355.0 310.8,327.0 306.1,334.2 309.8,337.0 307.4,322.2 310.1,343.8 309.4,345.1 304.3,334.5 310.6,343.4 314.0,340.5 306.1,321.8 313.6,351.3 311.9,315.6 310.4,314.0 312.8,337.6 308.5,323.8 314.4,347.7 313.1,336.7 311.4,339.1 314.6,344.4 307.1,319.3 311.4,327.5 301.2,319.1 313.3,354.4 314.5,334.2 314.6,338.6 313.5,353.9 302.1,317.3 312.3,331.2 306.2,327.2 305.5,311.1 314.9,339.8 307.0,310.0 316.3,357.9 309.9,312.6 300.1,320.9 311.9,348.6 320.1,350.0 307.3,296.1 315.7,340.5 302.8,315.1 315.2,326.3 302.4,330.2 311.1,334.0 314.3,349.4 311.2,348.3 313.4,343.5 294.8,319.0 317.4,359.1 312.8,347.2 304.4,326.2 303.2,333.7 306.1,339.1 309.7,346.3 314.4,357.0 311.6,343.3 310.0,348.9 308.3,339.8 308.0,346.2 318.4,354.3 307.2,313.8 296.3,321.8 312.4,339.0 319.0,341.3 314.4,350.4 313.8,346.6 312.2,339.5 313.2,319.0 316.8,331.1 309.8,333.8 301.4,334.1 305.7,317.9 302.3,333.7 300.9,322.7 314.4,342.7 304.3,309.0 310.4,342.8 314.4,348.4 313.9,342.9 303.1,320.6 310.3,311.2 303.6,328.3 306.3,303.4 312.4,348.0 311.4,344.0 309.7,340.3 309.3,315.0 314.9,346.7 308.8,333.6 316.2,350.1 302.3,330.8 313.5,345.7 302.4,291.1 295.7,322.4 305.9,340.9 309.7,321.7 308.5,334.4 311.7,342.4 303.4,326.3 313.9,354.5 301.3,312.5 305.3,315.9 313.9,349.4 309.2,335.6 316.8,360.4 306.1,325.8 307.8,329.2 310.5,330.3 308.4,341.2 310.8,334.4 314.7,343.3 304.9,336.9 309.4,343.2 310.5,342.8 308.7,343.4 310.9,345.0 304.0,321.3 311.0,313.2 312.1,341.8 314.5,333.0 305.2,315.5 315.7,356.6 306.7,328.2 315.8,357.9 318.5,328.1 314.1,336.9 309.8,335.4 302.6,337.1 303.3,306.3 316.6,354.1 309.1,330.6 306.5,330.2 314.2,344.3 308.6,328.8 305.9,333.8 309.1,332.3 308.7,317.4 314.5,346.2 307.2,330.7 304.2,320.6 310.9,341.6 308.0,316.0 313.3,346.0 317.5,357.5 312.8,349.4 308.2,332.6 305.5,319.3 311.8,339.3 305.0,334.6 313.8,334.3 305.8,325.0 316.4,348.0 314.6,335.7 309.6,347.1 308.3,327.4 308.8,321.9 307.8,330.9 311.8,336.7 303.4,323.6 314.7,344.5 309.8,333.6 313.7,351.4 296.9,322.7 306.4,301.2 301.8,330.3 310.2,311.8 308.9,311.7 305.4,337.5 302.6,332.5 309.8,331.4 311.0,318.8 312.4,343.4 307.9,323.2 312.9,345.9 313.7,324.4 311.0,334.1 314.7,358.2 315.0,339.4 311.5,326.8 309.5,336.1 307.1,330.2 308.3,301.7 315.6,352.2 311.4,344.1 315.5,344.7 307.5,333.6 310.3,340.6 303.7,336.9 311.5,345.6 319.4,344.6 299.7,306.4 301.1,297.7 313.0,336.1 305.4,332.4 317.3,357.6 316.0,339.5 305.4,323.0 304.9,327.8 313.6,336.7 306.7,307.6 310.6,291.3 309.0,336.3 314.4,348.5 304.4,324.8 302.2,321.1 309.9,345.9 305.4,334.4 312.1,318.0 311.2,327.9 312.8,345.9 306.0,320.8 312.0,345.4 309.6,311.5 308.7,333.6 315.2,360.5 312.2,345.9 299.4,322.1 303.3,307.5 303.8,328.3 303.9,337.7 299.3,300.5 314.4,352.4 308.0,318.7 316.1,355.5 315.3,358.6 311.4,349.1 307.0,321.8 311.6,329.9 313.0,336.3 307.5,327.5 309.1,343.7 307.5,311.7 309.5,332.0 304.7,325.8 312.4,352.2 307.0,334.5 316.3,350.9 311.9,323.7 315.3,356.9 307.4,323.0 312.0,318.5 301.3,325.4 303.9,315.3 304.5,311.5 311.1,337.7 305.6,340.4 312.1,340.3 303.0,333.6 312.7,336.6 309.4,336.8 303.3,308.9 311.7,332.5 310.7,339.8 302.1,312.2 315.5,349.7 307.9,334.6 308.1,325.7 312.0,324.2 311.4,351.7 315.9,353.2 315.8,351.0 318.0,345.5 299.1,316.9 312.1,335.0 316.7,328.8 313.4,345.8 311.2,341.3 305.4,324.5 300.1,328.7 314.5,337.8 301.4,319.9 305.8,342.1 313.5,341.6 313.9,340.0 313.9,342.3 309.8,322.2 313.6,354.8 306.8,327.7 316.4,360.2 315.2,358.6 310.1,333.9 302.9,329.7 308.7,335.9 311.2,317.1 305.6,318.3 312.0,345.9 308.5,315.2 307.7,342.4 309.8,333.2 315.2,344.9 314.5,348.3 314.2,355.5 312.8,337.9 305.0,324.4 312.9,339.1 302.8,325.0 302.1,321.7 310.6,312.4 305.4,319.2 307.7,333.1 302.0,330.0 307.3,335.5 316.1,345.6 314.9,350.7 304.8,309.5 307.7,346.2 310.2,325.7 306.8,312.7 312.5,330.6 309.7,341.4 309.4,328.0 303.1,311.5 309.1,346.9 307.6,346.1 313.0,340.6 305.0,322.6 306.0,322.1 306.1,341.5 314.8,332.4 303.9,320.8 309.9,350.2 304.1,335.4 304.4,327.4 310.3,323.7 308.3,323.8 315.5,353.4 306.1,334.5 313.5,341.6 307.2,330.2 311.3,327.3 305.9,334.9 304.7,330.1 301.4,302.6 302.5,307.4 302.8,320.0 310.1,332.6 302.9,304.5 306.6,342.4 315.6,358.4 306.7,336.1 308.3,346.6 313.5,348.8 310.6,339.3 310.3,339.9 313.2,328.4 300.3,324.9 309.2,325.0 314.1,349.8 302.4,323.3 309.3,310.9 305.3,337.0 310.0,336.8 309.3,326.9 305.2,325.0 305.7,333.3 310.7,327.8 315.4,347.0 315.7,358.8 314.9,342.1 311.3,339.4 304.5,334.9 313.3,341.4 310.3,281.4 302.4,291.4 299.8,295.9 298.4,303.2" fill="none" stroke="none" marker-start="url(#m21)" marker-mid="url(#m21)" marker-end="url(#m21)"/>
<marker id="m22" markerUnits="userSpaceOnUse" markerWidth="4" markerHeight="4" viewBox="-2 -2 4 4" refX="0" refY="0" overflow="visible"><circle r="1.1" fill="#ff9639" stroke="#fff" stroke-width="0.25"/></marker>
<polyline points="338.5,334.8 339.2,339.6 340.7,327.4 345.3,327.7 336.5,344.4 335.7,341.1 340.6,323.6 338.4,322.0 346.2,307.2 348.1,333.5 344.4,330.5 341.0,344.3 346.8,303.8 341.2,329.1 337.4,325.9 341.3,313.7 346.8,321.9 335.0,343.7 346.8,337.2 340.6,315.7 341.1,327.7 337.5,339.8 337.0,335.8 342.8,316.9 336.8,350.0 340.4,334.7 346.1,316.1 344.9,317.3 341.6,347.6 340.0,334.2 339.4,327.2 340.0,328.7 340.7,335.9 344.2,340.9 341.6,336.5 340.8,330.3 342.4,332.1 341.2,308.2 341.2,327.0 341.2,321.6 339.6,323.5 343.0,336.9 340.9,319.9 338.1,340.7 340.3,317.0 344.5,322.8 336.7,339.7 351.3,320.2 337.1,338.7 346.9,320.6 339.8,347.1 345.4,329.2 345.7,312.9 336.9,340.4 335.8,360.8 340.1,343.9 339.2,325.2 346.0,333.8 335.3,355.6 338.0,340.3 342.7,339.5 333.4,361.8 342.7,339.2 341.2,335.0 344.1,339.5 342.0,339.7 343.7,313.9 336.2,353.5 343.9,341.0 344.6,316.4 339.7,330.6 336.6,353.0 344.8,326.6 342.1,340.2 338.4,324.9 334.2,352.4 342.5,323.0 344.7,331.9 342.4,333.3 349.5,295.2 349.3,321.4 344.9,330.8 335.1,357.3 335.3,355.4 337.8,338.8 342.6,332.1 339.4,323.8 340.8,346.9 334.9,339.6 347.2,325.6 335.4,354.8 339.0,334.3 344.6,319.1 341.2,338.3 342.4,330.0 337.5,331.2 333.0,326.1 346.2,326.4 341.4,335.1 343.2,338.5 332.7,337.3 341.9,324.4 336.0,345.6 345.6,313.3 346.6,324.6 341.4,308.0 343.7,330.9 345.2,323.3 335.4,327.1 345.3,292.3 344.2,318.6 344.2,310.5 342.0,340.4 346.3,331.1 343.1,338.9 344.9,337.3 343.2,341.7 341.7,330.4 337.1,345.4 339.6,320.4 335.5,330.4 341.3,322.5 341.0,342.2 342.4,326.0 345.3,296.1 347.2,318.6 346.7,322.9 343.2,319.2 344.7,313.3 339.8,311.9 344.2,339.3 340.2,337.4 333.4,327.5 345.2,309.7 343.5,318.3 343.2,338.0 343.4,322.9 345.0,323.6 339.0,337.3 343.2,340.5 333.1,358.1 336.1,352.8 339.3,345.9 344.2,307.3 345.4,329.1 345.9,316.6 343.4,328.0 342.1,334.2 346.8,308.9 343.6,333.4 340.6,319.8 342.5,327.7 339.3,341.2 339.5,338.9 343.7,322.9 340.9,337.3 340.4,313.5 340.1,336.9 347.0,322.3 344.2,331.0 335.1,333.3 340.9,325.0 342.3,336.3 335.7,341.2 340.8,340.9 347.7,328.8 343.8,329.1 341.5,314.8 343.9,326.9 337.6,319.7 343.8,318.6 334.6,334.0 342.6,316.1 333.9,339.8 333.5,358.5 339.8,334.7 348.2,316.1 341.9,338.3 351.6,312.0 349.7,312.4 339.6,343.8 345.1,326.2 341.6,312.2 340.0,342.2 338.3,342.2 339.0,327.8 347.4,320.1 339.4,332.9 344.0,326.1 341.6,327.0 346.2,325.6 344.4,326.0 334.3,345.2 334.4,359.7 349.6,339.1 341.8,343.6 349.1,312.4 341.8,342.6 349.8,319.0 337.7,343.7 340.2,328.2 341.1,327.7 337.8,327.4 337.9,334.9 345.0,336.1 339.3,333.1 343.9,292.3 349.8,312.6 341.4,343.2 339.6,334.7 335.9,349.5 344.5,308.0 344.2,320.4 344.9,335.0 338.8,348.6 336.0,346.7 340.1,338.2 336.0,339.0 339.0,337.3 346.9,335.4 334.3,349.7 340.6,329.4 344.5,333.3 344.2,323.1 336.1,351.8 341.0,321.5 341.4,317.1 345.1,327.3 338.9,344.3 340.2,344.4 343.7,333.9 337.5,327.8 336.9,325.3 343.4,331.6 336.6,356.4 341.0,336.8 344.4,333.0 335.2,340.3 341.6,326.7 342.6,316.5 336.2,349.6 344.7,325.3 331.1,344.6 337.2,346.0 344.4,336.6 344.1,305.5 339.2,324.1 342.2,335.7 339.8,315.7 344.8,331.3 340.2,325.9 341.7,347.7 339.1,347.3 333.6,354.1 343.4,319.4 336.0,353.0 347.1,312.4 333.5,352.7 344.5,333.0 338.8,329.8 333.0,349.8 339.5,340.6 342.4,309.6 345.2,312.2 339.9,351.8 341.2,332.3 346.7,336.1 351.8,316.2 349.5,327.4 339.4,345.7 349.2,299.8 348.4,321.1 343.1,344.4 344.7,315.2 348.5,320.3 348.5,314.5 338.3,349.3 339.1,329.9 342.1,342.3 342.8,334.9 336.4,335.5 338.8,326.4 341.7,347.1 343.5,317.5 343.3,338.7 341.7,326.5 337.0,333.9 340.1,328.1 335.5,321.4 342.6,337.7 338.8,319.6 347.9,338.6 339.8,326.6 342.1,334.0 336.4,342.4 334.6,344.4 339.7,342.2 338.0,339.7 353.4,314.0 337.6,346.9 334.7,323.8 345.5,294.1 336.1,345.8 341.0,326.1 340.7,321.7 338.4,331.8 336.3,329.9 344.2,322.5 345.4,296.9 339.6,342.4 341.8,324.8 347.8,329.5 343.2,301.4 343.4,309.8 350.3,303.7 344.3,323.8 340.8,326.3 339.0,331.4 339.1,337.3 338.6,343.3 342.3,326.8 349.1,320.8 337.7,327.4 335.9,354.6 345.5,324.4 347.2,292.0 340.7,333.1 336.1,347.4 346.4,313.1 340.3,346.6 341.7,330.1 341.1,327.8 345.0,339.8 338.1,345.5 342.1,327.9 341.3,348.7 342.8,326.5 343.0,325.0 337.3,348.4 349.2,321.5 337.1,350.4 347.4,328.7 342.4,342.7 337.6,349.6 343.8,339.4 340.2,329.8 350.6,321.7 340.7,323.2 340.2,344.6 344.8,333.7 345.0,320.4 346.1,332.2 346.4,334.4 337.2,336.2 333.6,359.8 344.5,327.7 342.8,330.1 340.8,333.4 346.0,317.3 338.6,334.3 338.6,339.8 349.0,315.8 342.2,335.6 343.5,344.6 333.2,338.8 336.8,338.3 334.6,348.1 343.8,325.7 337.8,356.2 336.6,333.7 341.5,331.6 349.1,317.9 338.0,332.5 348.7,336.4 340.1,317.6 342.0,312.2 336.1,328.7 340.7,344.7 336.9,325.1 337.8,348.9 345.1,313.6 340.2,328.5 337.5,345.4 343.9,305.4 337.1,352.7 341.6,317.2 337.9,337.2 336.4,339.6 337.6,354.4 335.3,360.1 344.1,328.9 334.0,346.6 344.5,317.2 343.4,332.9 346.0,327.3 345.1,304.6 333.8,356.5 349.3,330.5 340.7,338.5 340.7,322.5 342.7,334.7 344.3,340.0 338.2,344.0 343.0,335.5 336.7,353.2 342.6,323.1 341.9,324.9 344.1,325.1 331.5,331.4 340.4,337.1 339.6,318.9 339.6,321.5 345.0,320.8 339.3,338.4 341.7,326.0 341.1,333.9 333.7,339.6 338.4,316.8 339.7,351.9 337.4,336.3 336.0,351.1 334.8,359.2 343.7,314.5 342.9,322.6 335.4,328.2 334.5,349.5 342.3,332.7 344.0,322.1 334.7,360.8 345.8,322.5 340.9,326.6 345.5,306.3 336.7,346.0 347.2,305.7 339.3,331.2 344.2,327.0 345.3,319.9 349.2,299.0 340.9,317.7 345.1,305.4 336.9,331.3 346.9,322.0 343.1,319.4 335.4,351.4 338.4,328.7 339.5,329.1 342.0,323.7 344.0,308.6 348.4,322.3 341.5,327.9 342.0,330.5 334.8,331.0 335.3,351.8 348.0,335.2 344.2,344.9 331.8,351.7 350.1,317.5 338.1,345.6 334.6,347.0 336.1,356.1 347.4,315.5 347.7,311.7 344.3,326.5 346.2,336.8 342.7,324.7 345.1,324.7 350.9,330.9 342.8,328.3 332.7,356.4 347.3,330.1 341.1,338.4 337.2,335.2 347.4,333.8 338.8,352.3 341.9,328.5 344.3,323.2 332.5,354.4 345.6,311.5 331.8,353.9 339.0,321.9 349.5,319.7 345.9,305.4 334.6,336.8 337.4,343.3 342.4,342.7 338.8,343.1 335.2,356.4 337.2,348.6 336.1,340.2 344.9,339.2 337.1,321.8 342.3,322.0 336.8,331.8 334.0,358.6 342.9,324.3 340.1,336.7 334.2,359.7 342.6,340.4 333.0,344.1 341.6,332.7 346.7,327.8 350.6,309.2 342.8,342.5 337.1,330.5 336.0,347.9 343.0,341.0 339.0,352.0 339.8,333.8 341.8,324.9 343.2,337.5 348.9,312.6 339.7,333.7 340.0,320.2 334.9,337.0 339.0,333.1 339.7,308.0 336.2,346.1 347.3,322.9 335.7,356.3 339.1,336.1 347.4,319.6 340.9,301.0 345.4,320.4 340.0,329.6 342.3,336.4 344.7,337.4 337.7,331.5 343.9,331.3 344.2,314.2 338.1,344.7 333.8,345.3 343.9,316.8 342.7,323.1 340.6,338.6 340.3,335.3 338.9,324.6 345.9,336.3 338.9,342.5 345.9,330.4 342.2,322.1 336.1,345.9 344.6,338.7 347.0,324.2 334.0,357.9 341.3,336.5 345.4,319.5 334.6,345.1 341.2,323.5 339.5,298.3 346.6,322.7 332.9,346.1 344.6,299.4 338.7,321.0 343.7,317.2 341.5,327.0 337.7,343.4 342.9,333.9 339.7,335.4 347.8,306.3 345.6,314.4 336.9,336.5 341.0,328.5 343.1,323.8 347.6,313.7 348.1,319.2 337.0,348.6 345.6,315.0 337.3,349.2 341.3,338.9 333.9,354.0 338.4,337.6 346.2,321.7 346.0,331.5 345.2,316.9 343.0,317.7 342.6,335.3 337.9,340.0 351.0,313.4 338.4,322.1 345.0,317.4 348.9,314.3 339.5,336.4 336.7,342.0 340.2,329.3 341.0,339.5 343.6,341.7 338.7,345.1 342.8,334.0 343.3,336.8 343.7,326.0 345.2,323.8 346.6,314.3 344.7,327.7 339.4,328.9 340.7,325.2 339.5,329.8 349.2,326.8 339.6,340.3 340.5,330.3 339.5,350.9 346.1,316.7 340.8,329.4 346.7,325.3 334.6,352.1 335.5,346.1 337.3,341.1 334.6,361.4 344.1,317.7 347.3,323.5 337.8,332.0 337.8,317.0 334.7,358.4 337.3,347.3 337.4,317.0 344.2,321.8 348.2,334.1 343.5,326.1 337.1,330.7 338.0,339.0 337.6,340.0 343.1,285.1 347.1,285.1 357.0,277.8 353.6,305.9 352.2,314.9" fill="none" stroke="none" marker-start="url(#m22)" marker-mid="url(#m22)" marker-end="url(#m22)"/>
<marker id="m23" markerUnits="userSpaceOnUse" markerWidth="4" markerHeight="4" viewBox="-2 -2 4 4" refX="0" refY="0" overflow="visible"><circle r="1.1" fill="#52b152" stroke="#fff" stroke-width="0.25"/></marker>
<polyline points="318.8,356.2 322.6,360.4 313.6,349.3 324.4,363.7 323.5,359.9 308.9,340.2 324.8,363.5 323.3,358.4 323.0,362.4 310.7,342.4 319.1,357.1 312.0,346.0 312.3,345.4 310.3,343.2 307.9,340.6 335.6,348.8 328.0,362.0 333.2,351.2 317.9,356.1 326.7,363.5 309.5,344.0 318.4,355.0 314.2,350.7 329.5,356.4 332.7,355.4 336.3,349.6 309.7,342.5 328.4,362.5 329.3,357.4 310.5,341.1 335.8,349.8 321.6,357.1 339.0,344.4 316.5,350.9 328.0,360.1 325.6,359.1 320.0,352.6 319.4,354.8 331.1,355.9 325.4,363.8 335.3,348.6 333.8,350.9 311.6,344.5 333.4,354.2 334.1,352.0 335.5,349.9 329.5,359.5 314.8,350.5 311.8,343.1 334.8,349.8 333.5,353.5 320.5,358.6 335.7,350.9 309.0,343.0 338.7,348.2 325.6,363.0 326.0,362.3 337.1,345.9 334.1,349.5 312.7,346.7 331.1,353.1 314.6,347.1 326.6,362.0 319.4,359.7 323.3,361.4 328.2,360.8 334.0,352.0 320.2,358.1 336.5,347.7 307.7,343.6 311.2,346.5 331.3,351.4 326.4,360.0 338.0,347.1 329.0,361.0 315.7,348.0 322.0,360.7 308.9,340.1 337.4,346.0 337.4,347.4 309.2,340.9 320.9,359.5 318.4,352.4 322.6,361.4 319.0,356.5 334.6,350.3 317.3,354.1 312.3,348.8 338.2,345.2 317.9,353.0 330.9,357.4 323.8,362.8 332.9,356.2 324.8,363.7 332.7,352.5 310.2,346.9 339.6,346.5 317.7,351.4 338.2,348.0 306.5,340.2 325.8,363.7 318.4,357.4 313.0,344.5 331.1,355.6 329.1,357.9 329.8,357.7 322.8,361.2 327.6,363.7 325.7,362.8 316.1,353.8 326.3,364.2 331.4,351.0 336.1,351.9 309.8,343.0 331.8,354.3 322.6,360.6 332.3,358.3 323.5,360.4 316.4,351.5 339.2,345.2 337.7,345.6 331.3,357.3 312.5,347.1 309.4,342.1 328.6,358.8 331.5,357.4 311.7,344.4 321.3,359.0 328.7,356.6 339.4,345.6 334.6,350.1 333.8,352.4 311.1,344.4 337.0,347.9 324.0,362.1 320.0,359.7 323.5,363.5 326.7,361.7 332.1,351.3 309.5,340.4 309.6,341.7 323.9,360.3 335.4,350.9 312.2,344.3 327.3,360.0 321.3,358.1 339.0,346.1 333.7,353.8 314.9,348.9 339.1,344.1 335.9,347.5 313.1,347.4 331.1,354.9 326.2,363.6 325.3,362.2 321.2,358.7 321.2,359.5 327.4,362.5 340.6,344.4 337.4,347.9 317.8,355.8 318.7,357.8 336.4,351.1 319.3,354.1 320.2,357.9 329.7,357.8 310.6,343.3 333.3,352.8 313.6,349.3 325.1,362.5 315.9,352.1 323.7,364.1 318.9,353.0 321.6,358.9 328.0,362.4 336.8,348.2 319.1,353.7 338.8,347.7 339.2,344.6 336.5,350.0 317.7,354.4 327.6,361.6 323.9,361.8 330.7,356.1 326.9,360.3 313.2,350.0 318.9,353.9 314.5,348.8 322.7,359.8 331.4,352.8 330.9,356.5 314.2,344.5 317.5,352.0 328.2,357.6 325.1,362.8 327.2,361.8 328.1,358.9 328.6,358.0 315.9,350.4 327.8,356.7 316.5,349.8 321.3,357.3 317.6,352.3 315.0,348.1 318.9,352.8 308.5,342.7 337.6,346.8 320.9,357.0 338.9,345.9 314.7,349.8 320.4,357.4 338.4,346.6 317.2,351.5 323.5,358.5 322.5,363.5 313.4,347.1 329.3,358.0 323.8,361.7 324.2,362.6 332.6,352.5 310.8,343.0 336.1,346.3 318.1,355.9 332.4,352.0 329.5,358.4 332.8,354.8 329.8,359.8 330.5,354.2 331.0,355.5 316.4,349.4 335.1,350.1 314.6,346.5 314.9,346.7 314.0,349.0 322.2,360.7 337.3,347.0 311.1,345.2 338.8,344.6 311.5,345.0 325.7,361.6 319.1,355.4 329.0,357.8 326.6,362.4 316.3,351.0 321.9,363.4 320.8,359.9 314.4,351.2 315.0,349.8 315.0,348.6 308.4,341.7 310.0,345.3 312.1,344.1 316.9,353.0 311.6,344.7 329.7,358.7 331.9,356.4 338.3,344.5 334.4,349.2 328.6,357.3 336.9,345.8 335.4,349.9 339.2,349.1 309.7,341.0 332.5,352.7 319.5,356.2 317.5,353.8 334.0,349.0 329.3,358.3 331.4,356.0 337.3,347.2 320.4,358.6 332.6,353.7 309.8,343.3 309.5,342.3 312.7,349.5 318.0,352.6 308.0,340.0 332.6,348.8 325.8,362.9 324.9,362.6 316.9,346.8 332.5,352.1 332.3,356.9 320.1,358.6 314.0,346.2 339.6,345.0 335.9,348.6 310.4,344.9 319.6,358.0 325.3,362.3 329.7,360.5 329.5,357.7 330.7,356.1 318.3,355.5 321.9,359.3 311.6,345.4 325.5,362.7 334.7,352.2 313.9,347.0 321.4,360.4 309.6,344.4 314.0,349.1 330.1,359.8 311.6,343.2 327.2,361.2 319.0,353.5 318.6,353.6 331.7,353.4 326.3,363.0 327.3,363.4 333.5,350.3 331.4,354.8 310.0,340.8 326.4,362.8 321.0,355.7 323.5,363.4 312.6,347.0 322.1,357.5 311.7,346.0 335.7,349.8 321.2,359.0 330.3,358.0 321.4,361.2 329.6,355.7 316.0,352.6 336.1,352.3 319.9,353.0 326.2,362.3 323.5,362.7 313.9,349.7 323.6,361.2 309.0,341.4 328.2,358.0 329.7,358.8 307.8,341.0 320.8,355.7 318.6,354.2 309.3,341.9 329.3,356.0 311.1,343.9 323.9,362.4 338.9,345.7 326.4,362.8 329.2,358.5 321.3,361.0 332.8,352.2 330.4,356.9 317.3,352.0 321.8,359.8 325.8,360.8 310.2,344.7 319.1,356.3 336.9,348.6 335.4,349.1 316.0,353.0 336.8,347.4 328.8,358.8 335.6,351.9 322.4,360.2 337.0,346.3 324.2,362.9 318.3,353.3 319.1,358.9 319.0,356.1 322.6,362.3 337.2,345.9 312.8,347.1 324.8,361.2 338.5,346.5 337.9,346.6 307.1,340.1 333.9,352.3 312.6,345.0 312.4,348.7 306.6,340.6 318.0,351.4 332.0,356.4 331.9,354.8 330.7,358.3 328.0,362.0 328.6,363.7 306.0,341.6 312.0,344.5 314.3,346.4 338.8,345.4 319.2,356.8 328.6,357.0 337.4,349.1 325.9,361.5 321.4,362.3 317.0,354.4 333.9,352.9 325.9,363.7 310.5,344.1 309.0,343.6 325.1,362.0 330.1,359.7 321.1,361.7 335.2,349.9 333.1,353.8" fill="none" stroke="none" marker-start="url(#m23)" marker-mid="url(#m23)" marker-end="url(#m23)"/>
<path d="M240.6 352.8H408.6" stroke="#2f7ebc" stroke-width="1.5"/>
<rect x="38.6" y="12.5" width="169.0" height="162.9" fill="none" stroke="#cccccc" stroke-width="1"/>
<rect x="239.6" y="12.4" width="169.0" height="163.2" fill="none" stroke="#cccccc" stroke-width="1"/>
<rect x="38.2" y="209.5" width="169.1" height="162.6" fill="none" stroke="#cccccc" stroke-width="1"/>
<rect x="240.6" y="209.8" width="168.0" height="162.6" fill="none" stroke="#cccccc" stroke-width="1"/>
<rect x="70.2" y="16.7" width="105.4" height="72.2" rx="2.5" fill="#fff" fill-opacity="0.8" stroke="#d6d6d6" stroke-width="0.8"/>
<text x="123.0" y="26.6" font-size="8.7" text-anchor="middle" fill="#262626" stroke="#262626" stroke-width="0.10" textLength="24.3" lengthAdjust="spacingAndGlyphs">group</text>
<circle cx="81.3" cy="36.1" r="3.0" fill="#1f77b4"/>
<text x="95.9" y="39.0" font-size="8.1" text-anchor="start" fill="#262626" stroke="#262626" stroke-width="0.10" textLength="74.5" lengthAdjust="spacingAndGlyphs">strongly activating</text>
<circle cx="81.3" cy="48.1" r="3.0" fill="#ff7f0e"/>
<text x="95.9" y="51.0" font-size="8.1" text-anchor="start" fill="#262626" stroke="#262626" stroke-width="0.10" textLength="70.1" lengthAdjust="spacingAndGlyphs">weakly activating</text>
<circle cx="81.3" cy="60.1" r="3.0" fill="#2ca02c"/>
<text x="95.9" y="63.0" font-size="8.1" text-anchor="start" fill="#262626" stroke="#262626" stroke-width="0.10" textLength="27.5" lengthAdjust="spacingAndGlyphs">neutral</text>
<circle cx="81.3" cy="72.1" r="3.0" fill="#d62728"/>
<text x="95.9" y="75.0" font-size="8.1" text-anchor="start" fill="#262626" stroke="#262626" stroke-width="0.10" textLength="72.2" lengthAdjust="spacingAndGlyphs">weakly repressing</text>
<circle cx="81.3" cy="84.1" r="3.0" fill="#9467bd"/>
<text x="95.9" y="87.0" font-size="8.1" text-anchor="start" fill="#262626" stroke="#262626" stroke-width="0.10" textLength="76.6" lengthAdjust="spacingAndGlyphs">strongly repressing</text>
<text x="215.0" y="398.2" font-size="10.45" text-anchor="middle" fill="#262626" stroke="#262626" stroke-width="0.13" textLength="85.8" lengthAdjust="spacingAndGlyphs">log2 fold change</text>
<text x="17.8" y="194.2" font-size="10.45" text-anchor="middle" fill="#262626" stroke="#262626" stroke-width="0.13" textLength="154.3" lengthAdjust="spacingAndGlyphs" transform="rotate(-90 17.8 194.2)">log10 scaled adjusted p-value</text>
<text x="1.0" y="19.2" font-size="16" text-anchor="start" fill="#000" stroke="#000" stroke-width="0.48" textLength="10.0" lengthAdjust="spacingAndGlyphs">A</text>
<text x="447.6" y="18.0" font-size="16" text-anchor="start" fill="#000" stroke="#000" stroke-width="0.48" textLength="9.0" lengthAdjust="spacingAndGlyphs">B</text>
<text x="442.3" y="211.6" font-size="16" text-anchor="start" fill="#000" stroke="#000" stroke-width="0.48" textLength="10.0" lengthAdjust="spacingAndGlyphs">C</text>
<rect x="510.0" y="11.2" width="35.3" height="34.9" fill="#b40426"/>
<text x="527.5" y="31.0" font-size="6.9" text-anchor="middle" fill="#ffffff" stroke="#ffffff" stroke-width="0.14" textLength="2.7" lengthAdjust="spacingAndGlyphs">1</text>
<rect x="510.0" y="45.8" width="35.3" height="34.9" fill="#adc9fd"/>
<text x="527.5" y="65.6" font-size="6.9" text-anchor="middle" fill="#262626" stroke="#262626" stroke-width="0.24" textLength="13.3" lengthAdjust="spacingAndGlyphs">0.84</text>
<rect x="545.0" y="45.8" width="35.3" height="34.9" fill="#b40426"/>
<text x="562.5" y="65.6" font-size="6.9" text-anchor="middle" fill="#ffffff" stroke="#ffffff" stroke-width="0.14" textLength="2.7" lengthAdjust="spacingAndGlyphs">1</text>
<rect x="510.0" y="80.4" width="35.3" height="34.9" fill="#90b2fe"/>
<text x="527.5" y="100.2" font-size="6.9" text-anchor="middle" fill="#262626" stroke="#262626" stroke-width="0.24" textLength="13.0" lengthAdjust="spacingAndGlyphs">0.82</text>
<rect x="545.0" y="80.4" width="35.3" height="34.9" fill="#d1493f"/>
<text x="562.5" y="100.2" font-size="6.9" text-anchor="middle" fill="#ffffff" stroke="#ffffff" stroke-width="0.14" textLength="13.2" lengthAdjust="spacingAndGlyphs">0.98</text>
<rect x="580.0" y="80.4" width="35.3" height="34.9" fill="#b40426"/>
<text x="597.5" y="100.2" font-size="6.9" text-anchor="middle" fill="#ffffff" stroke="#ffffff" stroke-width="0.14" textLength="2.7" lengthAdjust="spacingAndGlyphs">1</text>
<rect x="510.0" y="115.0" width="35.3" height="34.9" fill="#3b4cc0"/>
<text x="527.5" y="134.8" font-size="6.9" text-anchor="middle" fill="#ffffff" stroke="#ffffff" stroke-width="0.14" textLength="13.2" lengthAdjust="spacingAndGlyphs">0.76</text>
<rect x="545.0" y="115.0" width="35.3" height="34.9" fill="#f7b79b"/>
<text x="562.5" y="134.8" font-size="6.9" text-anchor="middle" fill="#262626" stroke="#262626" stroke-width="0.24" textLength="13.0" lengthAdjust="spacingAndGlyphs">0.92</text>
<rect x="580.0" y="115.0" width="35.3" height="34.9" fill="#f5c2aa"/>
<text x="597.5" y="134.8" font-size="6.9" text-anchor="middle" fill="#262626" stroke="#262626" stroke-width="0.24" textLength="13.0" lengthAdjust="spacingAndGlyphs">0.91</text>
<rect x="615.0" y="115.0" width="35.3" height="34.9" fill="#b40426"/>
<text x="632.5" y="134.8" font-size="6.9" text-anchor="middle" fill="#ffffff" stroke="#ffffff" stroke-width="0.14" textLength="2.7" lengthAdjust="spacingAndGlyphs">1</text>
<text x="505.2" y="30.9" font-size="6.9" text-anchor="end" fill="#262626" stroke="#262626" stroke-width="0.24" textLength="19.2" lengthAdjust="spacingAndGlyphs">BCalm</text>
<text x="505.2" y="65.5" font-size="6.9" text-anchor="end" fill="#262626" stroke="#262626" stroke-width="0.24" textLength="23.4" lengthAdjust="spacingAndGlyphs">mpralm</text>
<text x="505.2" y="100.1" font-size="6.9" text-anchor="end" fill="#262626" stroke="#262626" stroke-width="0.24" textLength="75.4" lengthAdjust="spacingAndGlyphs">MPRAnalyze aggregated</text>
<text x="505.2" y="134.7" font-size="6.9" text-anchor="end" fill="#262626" stroke="#262626" stroke-width="0.24" textLength="68.0" lengthAdjust="spacingAndGlyphs">MPRAnalyze barcodes</text>
<text x="526.5" y="159.3" font-size="6.9" text-anchor="end" fill="#262626" stroke="#262626" stroke-width="0.24" textLength="19.2" lengthAdjust="spacingAndGlyphs" transform="rotate(-30 526.5 159.3)">BCalm</text>
<text x="561.5" y="159.3" font-size="6.9" text-anchor="end" fill="#262626" stroke="#262626" stroke-width="0.24" textLength="23.4" lengthAdjust="spacingAndGlyphs" transform="rotate(-30 561.5 159.3)">mpralm</text>
<text x="596.5" y="159.3" font-size="6.9" text-anchor="end" fill="#262626" stroke="#262626" stroke-width="0.24" textLength="75.4" lengthAdjust="spacingAndGlyphs" transform="rotate(-30 596.5 159.3)">MPRAnalyze aggregated</text>
<text x="631.5" y="159.3" font-size="6.9" text-anchor="end" fill="#262626" stroke="#262626" stroke-width="0.24" textLength="68.0" lengthAdjust="spacingAndGlyphs" transform="rotate(-30 631.5 159.3)">MPRAnalyze barcodes</text>
<path d="M507.2 28.5H510.0M507.2 63.1H510.0M507.2 97.7H510.0M507.2 132.3H510.0M527.5 149.6V152.4M562.5 149.6V152.4M597.5 149.6V152.4M632.5 149.6V152.4" stroke="#262626" stroke-width="0.7"/>
<defs><linearGradient id="cw" x1="0" y1="0" x2="0" y2="1"><stop offset="0.00" stop-color="#b40426"/><stop offset="0.05" stop-color="#c53334"/><stop offset="0.10" stop-color="#d65244"/><stop offset="0.15" stop-color="#e36c55"/><stop offset="0.20" stop-color="#ee8468"/><stop offset="0.25" stop-color="#f4987a"/><stop offset="0.30" stop-color="#f7ac8e"/><stop offset="0.35" stop-color="#f6bda2"/><stop offset="0.40" stop-color="#f2cbb7"/><stop offset="0.45" stop-color="#e9d5cb"/><stop offset="0.50" stop-color="#dddcdc"/><stop offset="0.55" stop-color="#cfdaea"/><stop offset="0.60" stop-color="#c0d4f5"/><stop offset="0.65" stop-color="#afcafc"/><stop offset="0.70" stop-color="#9ebeff"/><stop offset="0.75" stop-color="#8db0fe"/><stop offset="0.80" stop-color="#7b9ff9"/><stop offset="0.85" stop-color="#6a8bef"/><stop offset="0.90" stop-color="#5977e3"/><stop offset="0.95" stop-color="#4961d2"/><stop offset="1.00" stop-color="#3b4cc0"/></linearGradient></defs>
<rect x="658.8" y="11.2" width="6.5" height="138.2" fill="url(#cw)"/>
<text x="670.6" y="13.6" font-size="6.5" text-anchor="start" fill="#262626" stroke="#262626" stroke-width="0.23" textLength="12.1" lengthAdjust="spacingAndGlyphs">1.00</text>
<text x="670.6" y="42.0" font-size="6.5" text-anchor="start" fill="#262626" stroke="#262626" stroke-width="0.23" textLength="12.2" lengthAdjust="spacingAndGlyphs">0.95</text>
<text x="670.6" y="70.5" font-size="6.5" text-anchor="start" fill="#262626" stroke="#262626" stroke-width="0.23" textLength="12.4" lengthAdjust="spacingAndGlyphs">0.90</text>
<text x="670.6" y="98.9" font-size="6.5" text-anchor="start" fill="#262626" stroke="#262626" stroke-width="0.23" textLength="12.2" lengthAdjust="spacingAndGlyphs">0.85</text>
<text x="670.6" y="127.3" font-size="6.5" text-anchor="start" fill="#262626" stroke="#262626" stroke-width="0.23" textLength="12.4" lengthAdjust="spacingAndGlyphs">0.80</text>
<path d="M665.3 11.2H667.8M665.3 39.6H667.8M665.3 68.1H667.8M665.3 96.5H667.8M665.3 124.9H667.8" stroke="#262626" stroke-width="0.6"/>
<rect x="489.2" y="206.5" width="186.2" height="147.5" fill="#fff"/>
<text x="483.6" y="356.6" font-size="7.1" text-anchor="end" fill="#262626" stroke="#262626" stroke-width="0.25" textLength="3.3" lengthAdjust="spacingAndGlyphs">0</text>
<text x="483.6" y="328.6" font-size="7.1" text-anchor="end" fill="#262626" stroke="#262626" stroke-width="0.25" textLength="11.5" lengthAdjust="spacingAndGlyphs">200</text>
<text x="483.6" y="300.6" font-size="7.1" text-anchor="end" fill="#262626" stroke="#262626" stroke-width="0.25" textLength="11.7" lengthAdjust="spacingAndGlyphs">400</text>
<text x="483.6" y="272.6" font-size="7.1" text-anchor="end" fill="#262626" stroke="#262626" stroke-width="0.25" textLength="11.5" lengthAdjust="spacingAndGlyphs">600</text>
<text x="483.6" y="244.6" font-size="7.1" text-anchor="end" fill="#262626" stroke="#262626" stroke-width="0.25" textLength="11.5" lengthAdjust="spacingAndGlyphs">800</text>
<text x="483.6" y="216.6" font-size="7.1" text-anchor="end" fill="#262626" stroke="#262626" stroke-width="0.25" textLength="15.4" lengthAdjust="spacingAndGlyphs">1000</text>
<path d="M489.2 354.0H675.4M489.2 326.0H675.4M489.2 298.0H675.4M489.2 270.0H675.4M489.2 242.0H675.4M489.2 214.0H675.4" stroke="#cccccc" stroke-width="0.8"/>
<rect x="493.4" y="351.2" width="6.4" height="2.8" fill="#aeccdb"/>
<rect x="500.9" y="350.5" width="6.4" height="3.5" fill="#3274a1"/>
<rect x="508.3" y="348.0" width="6.4" height="6.0" fill="#b3d495"/>
<rect x="515.8" y="346.9" width="6.4" height="7.1" fill="#40923a"/>
<rect x="530.7" y="289.7" width="6.4" height="64.3" fill="#aeccdb"/>
<rect x="538.1" y="264.4" width="6.4" height="89.6" fill="#3274a1"/>
<rect x="545.6" y="256.7" width="6.4" height="97.3" fill="#b3d495"/>
<rect x="553.0" y="257.7" width="6.4" height="96.3" fill="#40923a"/>
<rect x="567.9" y="214.0" width="6.4" height="140.0" fill="#aeccdb"/>
<rect x="575.4" y="214.0" width="6.4" height="140.0" fill="#3274a1"/>
<rect x="582.8" y="214.0" width="6.4" height="140.0" fill="#b3d495"/>
<rect x="590.2" y="214.0" width="6.4" height="140.0" fill="#40923a"/>
<rect x="605.1" y="290.3" width="6.4" height="63.7" fill="#aeccdb"/>
<rect x="612.6" y="261.6" width="6.4" height="92.4" fill="#3274a1"/>
<rect x="620.0" y="251.8" width="6.4" height="102.2" fill="#b3d495"/>
<rect x="627.5" y="253.5" width="6.4" height="100.5" fill="#40923a"/>
<rect x="642.4" y="214.0" width="6.4" height="140.0" fill="#aeccdb"/>
<rect x="649.8" y="214.0" width="6.4" height="140.0" fill="#3274a1"/>
<rect x="657.3" y="214.0" width="6.4" height="140.0" fill="#b3d495"/>
<rect x="664.7" y="214.0" width="6.4" height="140.0" fill="#40923a"/>
<rect x="489.2" y="206.5" width="186.2" height="147.5" fill="none" stroke="#cccccc" stroke-width="1"/>
<rect x="566.9" y="298.1" width="106.7" height="52.3" rx="2" fill="#fff" fill-opacity="0.8" stroke="#d6d6d6" stroke-width="0.7"/>
<text x="618.6" y="306.6" font-size="6.8" text-anchor="middle" fill="#262626" stroke="#262626" stroke-width="0.24" textLength="25.0" lengthAdjust="spacingAndGlyphs">method</text>
<rect x="568.8" y="312.0" width="12.8" height="4.4" fill="#aeccdb"/>
<text x="587.5" y="316.8" font-size="7.2" text-anchor="start" fill="#262626" stroke="#262626" stroke-width="0.25" textLength="20.4" lengthAdjust="spacingAndGlyphs">BCalm</text>
<rect x="568.8" y="321.9" width="12.8" height="4.4" fill="#3274a1"/>
<text x="587.5" y="326.7" font-size="7.2" text-anchor="start" fill="#262626" stroke="#262626" stroke-width="0.25" textLength="24.9" lengthAdjust="spacingAndGlyphs">mpralm</text>
<rect x="568.8" y="331.8" width="12.8" height="4.4" fill="#b3d495"/>
<text x="587.5" y="336.6" font-size="7.2" text-anchor="start" fill="#262626" stroke="#262626" stroke-width="0.25" textLength="69.2" lengthAdjust="spacingAndGlyphs">Barcode MPRAnalyze</text>
<rect x="568.8" y="341.7" width="12.8" height="4.4" fill="#40923a"/>
<text x="587.5" y="346.5" font-size="7.2" text-anchor="start" fill="#262626" stroke="#262626" stroke-width="0.25" textLength="81.5" lengthAdjust="spacingAndGlyphs">Aggregated MPRAnalyze</text>
<text x="499.2" y="374.2" font-size="6.7" text-anchor="start" fill="#262626" stroke="#262626" stroke-width="0.23" textLength="22.7" lengthAdjust="spacingAndGlyphs" transform="rotate(-30 499.2 374.2)">neutral</text>
<text x="520.5" y="392.7" font-size="6.7" text-anchor="start" fill="#262626" stroke="#262626" stroke-width="0.23" textLength="59.7" lengthAdjust="spacingAndGlyphs" transform="rotate(-30 520.5 392.7)">weakly repressing</text>
<text x="556.1" y="394.5" font-size="6.7" text-anchor="start" fill="#262626" stroke="#262626" stroke-width="0.23" textLength="63.4" lengthAdjust="spacingAndGlyphs" transform="rotate(-30 556.1 394.5)">strongly repressing</text>
<text x="595.7" y="391.8" font-size="6.7" text-anchor="start" fill="#262626" stroke="#262626" stroke-width="0.23" textLength="58.0" lengthAdjust="spacingAndGlyphs" transform="rotate(-30 595.7 391.8)">weakly activating</text>
<text x="631.3" y="393.7" font-size="6.7" text-anchor="start" fill="#262626" stroke="#262626" stroke-width="0.23" textLength="61.6" lengthAdjust="spacingAndGlyphs" transform="rotate(-30 631.3 393.7)">strongly activating</text>
<text x="581.8" y="403.5" font-size="6.8" text-anchor="middle" fill="#262626" stroke="#262626" stroke-width="0.24" textLength="19.0" lengthAdjust="spacingAndGlyphs">group</text>
<text x="462.6" y="280.1" font-size="6.8" text-anchor="middle" fill="#262626" stroke="#262626" stroke-width="0.24" textLength="94.9" lengthAdjust="spacingAndGlyphs" transform="rotate(-90 462.6 280.1)">Number of significant results</text>
</svg></body></html>
